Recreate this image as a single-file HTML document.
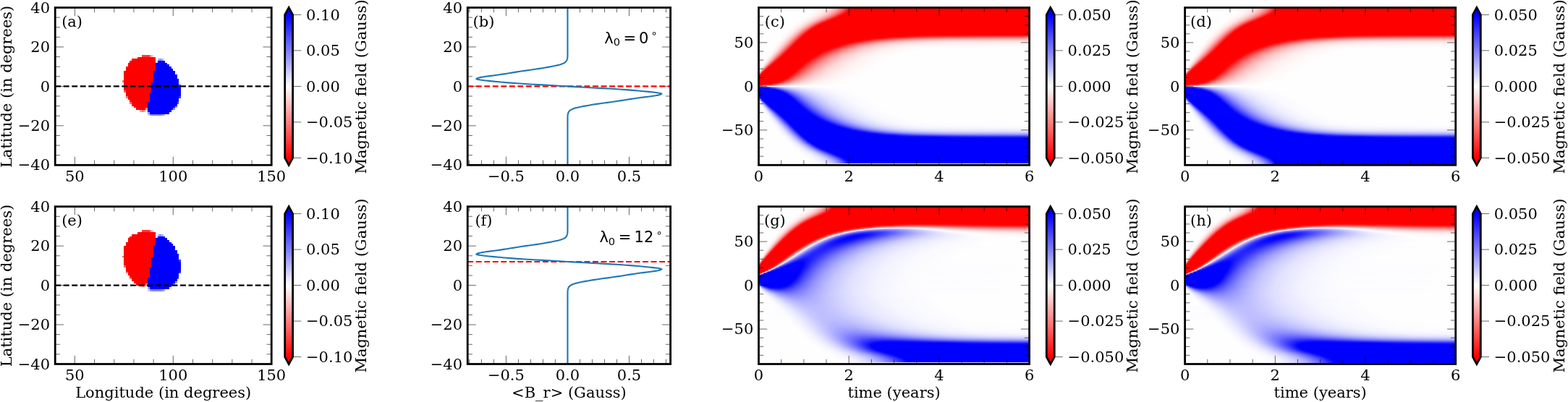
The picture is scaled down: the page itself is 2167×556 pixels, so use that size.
<!DOCTYPE html>
<html lang="en"><head><meta charset="utf-8"><title>Magnetic field evolution</title><style>
html,body{margin:0;padding:0;background:#fff}
svg{display:block}
text{font-family:'DejaVu Serif','Liberation Serif',serif;font-size:21.0px;fill:#000}
.s{font-family:'DejaVu Sans','Liberation Sans',sans-serif}
.sp{fill:none;stroke:#000;stroke-width:2.78;stroke-linejoin:miter}
.cb{stroke:#000;stroke-width:2.78;stroke-linejoin:miter}
.tk{fill:none;stroke:#000;stroke-width:0.6}
.dk{fill:none;stroke:#000;stroke-width:2.1;stroke-dasharray:7.95 3.57}
.dr{fill:none;stroke:#f00;stroke-width:2.1;stroke-dasharray:7.95 3.57}
.hm rect{width:374.1px;height:2px;shape-rendering:crispEdges}
.zl{fill:none;stroke:#fff;stroke-width:1.1;stroke-opacity:.9}
.pl{fill:none;stroke:#1f77b4;stroke-width:2.1;stroke-linejoin:round}
</style></head>
<body>
<svg width="2167" height="556" viewBox="0 0 2167 556">
<rect width="2167" height="556" fill="#fff"/>
<defs>
<linearGradient id="p0"><stop offset="0" stop-color="#fefeff"/><stop offset=".2" stop-color="#fffefe"/><stop offset=".229" stop-color="#fff6f6"/><stop offset=".259" stop-color="#ffdede"/><stop offset=".275" stop-color="#ffc6c6"/><stop offset=".283" stop-color="#ffb6b6"/><stop offset=".296" stop-color="#ff9696"/><stop offset=".309" stop-color="#ff6e6e"/><stop offset=".325" stop-color="#ff3434"/><stop offset=".336" stop-color="#ff0606"/><stop offset=".339" stop-color="#f00"/><stop offset="1" stop-color="#f00"/></linearGradient>
<linearGradient id="p1"><stop offset="0" stop-color="#fefeff"/><stop offset=".2" stop-color="#fffefe"/><stop offset=".229" stop-color="#fff6f6"/><stop offset=".259" stop-color="#ffdede"/><stop offset=".275" stop-color="#ffc6c6"/><stop offset=".283" stop-color="#ffb6b6"/><stop offset=".296" stop-color="#ff9696"/><stop offset=".309" stop-color="#ff6e6e"/><stop offset=".325" stop-color="#ff3434"/><stop offset=".336" stop-color="#ff0606"/><stop offset=".339" stop-color="#f00"/><stop offset="1" stop-color="#f00"/></linearGradient>
<linearGradient id="p2"><stop offset="0" stop-color="#fefeff"/><stop offset=".2" stop-color="#fffefe"/><stop offset=".229" stop-color="#fff6f6"/><stop offset=".259" stop-color="#ffdede"/><stop offset=".283" stop-color="#ffb6b6"/><stop offset=".296" stop-color="#ff9696"/><stop offset=".309" stop-color="#ff6e6e"/><stop offset=".323" stop-color="#ff3e3e"/><stop offset=".336" stop-color="#ff0606"/><stop offset=".339" stop-color="#f00"/><stop offset="1" stop-color="#f00"/></linearGradient>
<linearGradient id="p3"><stop offset="0" stop-color="#fefeff"/><stop offset=".197" stop-color="#fffefe"/><stop offset=".227" stop-color="#fff6f6"/><stop offset=".245" stop-color="#ffeaea"/><stop offset=".267" stop-color="#ffd0d0"/><stop offset=".283" stop-color="#ffb2b2"/><stop offset=".293" stop-color="#ff9898"/><stop offset=".312" stop-color="#ff5e5e"/><stop offset=".336" stop-color="#f00"/><stop offset="1" stop-color="#f00"/></linearGradient>
<linearGradient id="p4"><stop offset="0" stop-color="#fefeff"/><stop offset=".195" stop-color="#fffefe"/><stop offset=".219" stop-color="#fff8f8"/><stop offset=".245" stop-color="#ffe6e6"/><stop offset=".269" stop-color="#ffc4c4"/><stop offset=".283" stop-color="#ffa8a8"/><stop offset=".293" stop-color="#ff8c8c"/><stop offset=".307" stop-color="#ff6262"/><stop offset=".317" stop-color="#ff3a3a"/><stop offset=".331" stop-color="#ff0202"/><stop offset=".333" stop-color="#f00"/><stop offset="1" stop-color="#f00"/></linearGradient>
<linearGradient id="p5"><stop offset="0" stop-color="#fefeff"/><stop offset=".189" stop-color="#fffefe"/><stop offset=".216" stop-color="#fff6f6"/><stop offset=".235" stop-color="#ffeaea"/><stop offset=".256" stop-color="#ffd0d0"/><stop offset=".264" stop-color="#ffc2c2"/><stop offset=".28" stop-color="#ff9e9e"/><stop offset=".299" stop-color="#f66"/><stop offset=".315" stop-color="#ff2a2a"/><stop offset=".323" stop-color="#ff0606"/><stop offset=".325" stop-color="#f00"/><stop offset="1" stop-color="#f00"/></linearGradient>
<linearGradient id="p6"><stop offset="0" stop-color="#fefeff"/><stop offset=".181" stop-color="#fffefe"/><stop offset=".205" stop-color="#fff8f8"/><stop offset=".229" stop-color="#ffe8e8"/><stop offset=".251" stop-color="#fcc"/><stop offset=".272" stop-color="#ff9e9e"/><stop offset=".288" stop-color="#ff6e6e"/><stop offset=".304" stop-color="#ff3232"/><stop offset=".315" stop-color="#ff0404"/><stop offset=".317" stop-color="#f00"/><stop offset="1" stop-color="#f00"/></linearGradient>
<linearGradient id="p7"><stop offset="0" stop-color="#fefeff"/><stop offset=".173" stop-color="#fffefe"/><stop offset=".197" stop-color="#fff8f8"/><stop offset=".219" stop-color="#ffeaea"/><stop offset=".227" stop-color="#ffe2e2"/><stop offset=".243" stop-color="#ffcaca"/><stop offset=".256" stop-color="#ffaeae"/><stop offset=".267" stop-color="#ff9292"/><stop offset=".277" stop-color="#ff7070"/><stop offset=".293" stop-color="#ff3434"/><stop offset=".304" stop-color="#ff0404"/><stop offset=".307" stop-color="#f00"/><stop offset="1" stop-color="#f00"/></linearGradient>
<linearGradient id="p8"><stop offset="0" stop-color="#fefeff"/><stop offset=".168" stop-color="#fffefe"/><stop offset=".189" stop-color="#fff8f8"/><stop offset=".208" stop-color="#ffecec"/><stop offset=".232" stop-color="#fcc"/><stop offset=".253" stop-color="#ff9a9a"/><stop offset=".261" stop-color="#ff8282"/><stop offset=".272" stop-color="#ff5c5c"/><stop offset=".28" stop-color="#ff3c3c"/><stop offset=".293" stop-color="#f00"/><stop offset="1" stop-color="#f00"/></linearGradient>
<linearGradient id="p9"><stop offset="0" stop-color="#fefeff"/><stop offset=".16" stop-color="#fffefe"/><stop offset=".181" stop-color="#fff8f8"/><stop offset=".203" stop-color="#ffe8e8"/><stop offset=".216" stop-color="#ffd6d6"/><stop offset=".227" stop-color="#ffc2c2"/><stop offset=".237" stop-color="#ffa8a8"/><stop offset=".253" stop-color="#ff7676"/><stop offset=".264" stop-color="#ff4c4c"/><stop offset=".28" stop-color="#ff0202"/><stop offset=".283" stop-color="#f00"/><stop offset="1" stop-color="#f00"/></linearGradient>
<linearGradient id="p10"><stop offset="0" stop-color="#fefeff"/><stop offset=".152" stop-color="#fffefe"/><stop offset=".173" stop-color="#fff8f8"/><stop offset=".189" stop-color="#ffecec"/><stop offset=".208" stop-color="#ffd2d2"/><stop offset=".221" stop-color="#ffb6b6"/><stop offset=".243" stop-color="#ff7272"/><stop offset=".259" stop-color="#ff2c2c"/><stop offset=".267" stop-color="#ff0202"/><stop offset=".269" stop-color="#f00"/><stop offset="1" stop-color="#f00"/></linearGradient>
<linearGradient id="p11"><stop offset="0" stop-color="#fefeff"/><stop offset=".144" stop-color="#fffefe"/><stop offset=".16" stop-color="#fffafa"/><stop offset=".179" stop-color="#fee"/><stop offset=".197" stop-color="#ffd4d4"/><stop offset=".208" stop-color="#ffbcbc"/><stop offset=".219" stop-color="#ff9e9e"/><stop offset=".232" stop-color="#ff6c6c"/><stop offset=".243" stop-color="#ff3c3c"/><stop offset=".253" stop-color="#ff0202"/><stop offset=".256" stop-color="#f00"/><stop offset="1" stop-color="#f00"/></linearGradient>
<linearGradient id="p12"><stop offset="0" stop-color="#fefeff"/><stop offset=".139" stop-color="#fffefe"/><stop offset=".16" stop-color="#fff6f6"/><stop offset=".173" stop-color="#ffeaea"/><stop offset=".189" stop-color="#ffd0d0"/><stop offset=".208" stop-color="#ff9c9c"/><stop offset=".216" stop-color="#ff7e7e"/><stop offset=".224" stop-color="#ff5a5a"/><stop offset=".24" stop-color="#ff0404"/><stop offset=".243" stop-color="#f00"/><stop offset="1" stop-color="#f00"/></linearGradient>
<linearGradient id="p13"><stop offset="0" stop-color="#fefeff"/><stop offset=".131" stop-color="#fffefe"/><stop offset=".157" stop-color="#fff2f2"/><stop offset=".168" stop-color="#ffe6e6"/><stop offset=".176" stop-color="#ffd8d8"/><stop offset=".192" stop-color="#ffb0b0"/><stop offset=".2" stop-color="#ff9494"/><stop offset=".208" stop-color="#ff7272"/><stop offset=".219" stop-color="#ff3c3c"/><stop offset=".227" stop-color="#ff0c0c"/><stop offset=".229" stop-color="#f00"/><stop offset="1" stop-color="#f00"/></linearGradient>
<linearGradient id="p14"><stop offset="0" stop-color="#fefeff"/><stop offset=".125" stop-color="#fffefe"/><stop offset=".152" stop-color="#fff0f0"/><stop offset=".168" stop-color="#ffd8d8"/><stop offset=".173" stop-color="#fcc"/><stop offset=".184" stop-color="#ffacac"/><stop offset=".192" stop-color="#ff8e8e"/><stop offset=".2" stop-color="#ff6a6a"/><stop offset=".208" stop-color="#ff4040"/><stop offset=".219" stop-color="#f00"/><stop offset="1" stop-color="#f00"/></linearGradient>
<linearGradient id="p15"><stop offset="0" stop-color="#fefeff"/><stop offset=".117" stop-color="#fffefe"/><stop offset=".131" stop-color="#fffafa"/><stop offset=".147" stop-color="#fee"/><stop offset=".155" stop-color="#ffe2e2"/><stop offset=".165" stop-color="#fcc"/><stop offset=".179" stop-color="#ffa2a2"/><stop offset=".187" stop-color="#ff8080"/><stop offset=".195" stop-color="#ff5858"/><stop offset=".208" stop-color="#ff0606"/><stop offset=".211" stop-color="#f00"/><stop offset="1" stop-color="#f00"/></linearGradient>
<linearGradient id="p16"><stop offset="0" stop-color="#fefeff"/><stop offset=".112" stop-color="#fffefe"/><stop offset=".125" stop-color="#fffafa"/><stop offset=".141" stop-color="#ffecec"/><stop offset=".152" stop-color="#ffdada"/><stop offset=".16" stop-color="#ffc6c6"/><stop offset=".173" stop-color="#ff9898"/><stop offset=".187" stop-color="#ff5656"/><stop offset=".2" stop-color="#ff0202"/><stop offset=".203" stop-color="#f00"/><stop offset="1" stop-color="#f00"/></linearGradient>
<linearGradient id="p17"><stop offset="0" stop-color="#fefeff"/><stop offset=".107" stop-color="#fffefe"/><stop offset=".123" stop-color="#fff8f8"/><stop offset=".133" stop-color="#fee"/><stop offset=".149" stop-color="#ffd0d0"/><stop offset=".157" stop-color="#ffb8b8"/><stop offset=".165" stop-color="#ff9a9a"/><stop offset=".179" stop-color="#ff5858"/><stop offset=".192" stop-color="#ff0202"/><stop offset=".195" stop-color="#f00"/><stop offset="1" stop-color="#f00"/></linearGradient>
<linearGradient id="p18"><stop offset="0" stop-color="#fefeff"/><stop offset=".101" stop-color="#fffefe"/><stop offset=".109" stop-color="#fffcfc"/><stop offset=".125" stop-color="#fff0f0"/><stop offset=".141" stop-color="#ffd4d4"/><stop offset=".149" stop-color="#ffbcbc"/><stop offset=".157" stop-color="#ff9e9e"/><stop offset=".171" stop-color="#ff5c5c"/><stop offset=".184" stop-color="#ff0606"/><stop offset=".187" stop-color="#f00"/><stop offset="1" stop-color="#f00"/></linearGradient>
<linearGradient id="p19"><stop offset="0" stop-color="#fefeff"/><stop offset=".096" stop-color="#fffefe"/><stop offset=".104" stop-color="#fffcfc"/><stop offset=".123" stop-color="#ffecec"/><stop offset=".131" stop-color="#ffdede"/><stop offset=".139" stop-color="#ffcaca"/><stop offset=".149" stop-color="#ffa4a4"/><stop offset=".163" stop-color="#ff6262"/><stop offset=".179" stop-color="#f00"/><stop offset="1" stop-color="#f00"/></linearGradient>
<linearGradient id="p20"><stop offset="0" stop-color="#fefeff"/><stop offset=".091" stop-color="#fffefe"/><stop offset=".112" stop-color="#fff2f2"/><stop offset=".123" stop-color="#ffe2e2"/><stop offset=".128" stop-color="#ffd6d6"/><stop offset=".133" stop-color="#ffc8c8"/><stop offset=".144" stop-color="#ffa0a0"/><stop offset=".152" stop-color="#ff7a7a"/><stop offset=".157" stop-color="#ff5c5c"/><stop offset=".171" stop-color="#ff0606"/><stop offset=".173" stop-color="#f00"/><stop offset="1" stop-color="#f00"/></linearGradient>
<linearGradient id="p21"><stop offset="0" stop-color="#fefeff"/><stop offset=".088" stop-color="#fffefe"/><stop offset=".107" stop-color="#fff2f2"/><stop offset=".117" stop-color="#ffe2e2"/><stop offset=".128" stop-color="#ffc6c6"/><stop offset=".141" stop-color="#ff9090"/><stop offset=".149" stop-color="#f66"/><stop offset=".157" stop-color="#ff3636"/><stop offset=".165" stop-color="#f00"/><stop offset="1" stop-color="#f00"/></linearGradient>
<linearGradient id="p22"><stop offset="0" stop-color="#fefeff"/><stop offset=".083" stop-color="#fffefe"/><stop offset=".096" stop-color="#fff8f8"/><stop offset=".112" stop-color="#ffe2e2"/><stop offset=".125" stop-color="#ffbcbc"/><stop offset=".136" stop-color="#ff8e8e"/><stop offset=".141" stop-color="#ff7272"/><stop offset=".16" stop-color="#f00"/><stop offset=".536" stop-color="#f00"/><stop offset=".557" stop-color="#ff1212"/><stop offset=".605" stop-color="#ff2e2e"/><stop offset=".635" stop-color="#ff3a3a"/><stop offset=".696" stop-color="#ff4a4a"/><stop offset=".824" stop-color="#ff5858"/><stop offset="1" stop-color="#ff5c5c"/></linearGradient>
<linearGradient id="p23"><stop offset="0" stop-color="#fefeff"/><stop offset=".077" stop-color="#fffefe"/><stop offset=".088" stop-color="#fffafa"/><stop offset=".101" stop-color="#ffecec"/><stop offset=".109" stop-color="#ffdcdc"/><stop offset=".123" stop-color="#ffb0b0"/><stop offset=".136" stop-color="#ff7070"/><stop offset=".144" stop-color="#ff4040"/><stop offset=".152" stop-color="#ff0a0a"/><stop offset=".155" stop-color="#f00"/><stop offset=".456" stop-color="#f00"/><stop offset=".472" stop-color="#ff1818"/><stop offset=".501" stop-color="#ff3a3a"/><stop offset=".552" stop-color="#ff6262"/><stop offset=".592" stop-color="#ff7676"/><stop offset=".635" stop-color="#ff8484"/><stop offset=".699" stop-color="#ff9090"/><stop offset=".787" stop-color="#ff9898"/><stop offset="1" stop-color="#ff9c9c"/></linearGradient>
<linearGradient id="p24"><stop offset="0" stop-color="#fefeff"/><stop offset=".075" stop-color="#fffefe"/><stop offset=".091" stop-color="#fff4f4"/><stop offset=".099" stop-color="#ffe8e8"/><stop offset=".112" stop-color="#ffc4c4"/><stop offset=".123" stop-color="#ff9898"/><stop offset=".136" stop-color="#ff4e4e"/><stop offset=".147" stop-color="#ff0808"/><stop offset=".149" stop-color="#f00"/><stop offset=".405" stop-color="#f00"/><stop offset=".411" stop-color="#ff0606"/><stop offset=".429" stop-color="#ff2828"/><stop offset=".445" stop-color="#ff4040"/><stop offset=".469" stop-color="#ff5e5e"/><stop offset=".496" stop-color="#ff7878"/><stop offset=".549" stop-color="#ff9a9a"/><stop offset=".613" stop-color="#ffb0b0"/><stop offset=".669" stop-color="#ffbaba"/><stop offset=".733" stop-color="#ffc0c0"/><stop offset="1" stop-color="#ffc6c6"/></linearGradient>
<linearGradient id="p25"><stop offset="0" stop-color="#fefeff"/><stop offset=".069" stop-color="#fffefe"/><stop offset=".085" stop-color="#fff4f4"/><stop offset=".093" stop-color="#ffe8e8"/><stop offset=".104" stop-color="#ffcece"/><stop offset=".117" stop-color="#ff9898"/><stop offset=".128" stop-color="#ff5e5e"/><stop offset=".141" stop-color="#ff0808"/><stop offset=".144" stop-color="#f00"/><stop offset=".371" stop-color="#f00"/><stop offset=".373" stop-color="#ff0202"/><stop offset=".389" stop-color="#ff2424"/><stop offset=".411" stop-color="#ff4a4a"/><stop offset=".437" stop-color="#ff7070"/><stop offset=".453" stop-color="#ff8282"/><stop offset=".472" stop-color="#ff9494"/><stop offset=".509" stop-color="#ffaeae"/><stop offset=".568" stop-color="#ffc6c6"/><stop offset=".64" stop-color="#ffd4d4"/><stop offset=".709" stop-color="#ffdada"/><stop offset="1" stop-color="#ffdede"/></linearGradient>
<linearGradient id="p26"><stop offset="0" stop-color="#fefeff"/><stop offset=".067" stop-color="#fffefe"/><stop offset=".077" stop-color="#fff8f8"/><stop offset=".085" stop-color="#fee"/><stop offset=".093" stop-color="#ffdede"/><stop offset=".104" stop-color="#ffbcbc"/><stop offset=".112" stop-color="#ff9898"/><stop offset=".12" stop-color="#ff6e6e"/><stop offset=".136" stop-color="#ff0808"/><stop offset=".139" stop-color="#f00"/><stop offset=".344" stop-color="#f00"/><stop offset=".368" stop-color="#ff3434"/><stop offset=".395" stop-color="#ff6464"/><stop offset=".416" stop-color="#ff8282"/><stop offset=".437" stop-color="#ff9a9a"/><stop offset=".491" stop-color="#ffc2c2"/><stop offset=".541" stop-color="#ffd6d6"/><stop offset=".6" stop-color="#ffe2e2"/><stop offset=".693" stop-color="#ffeaea"/><stop offset="1" stop-color="#fee"/></linearGradient>
<linearGradient id="p27"><stop offset="0" stop-color="#fefeff"/><stop offset=".061" stop-color="#fffefe"/><stop offset=".075" stop-color="#fff6f6"/><stop offset=".083" stop-color="#ffeaea"/><stop offset=".093" stop-color="#ffd0d0"/><stop offset=".104" stop-color="#ffa6a6"/><stop offset=".115" stop-color="#ff6e6e"/><stop offset=".131" stop-color="#ff0808"/><stop offset=".133" stop-color="#f00"/><stop offset=".32" stop-color="#f00"/><stop offset=".323" stop-color="#ff0202"/><stop offset=".347" stop-color="#ff3a3a"/><stop offset=".373" stop-color="#ff6c6c"/><stop offset=".389" stop-color="#ff8484"/><stop offset=".416" stop-color="#ffa4a4"/><stop offset=".461" stop-color="#ffc8c8"/><stop offset=".525" stop-color="#ffe2e2"/><stop offset=".579" stop-color="#ffecec"/><stop offset=".648" stop-color="#fff2f2"/><stop offset="1" stop-color="#fff6f6"/></linearGradient>
<linearGradient id="p28"><stop offset="0" stop-color="#fefeff"/><stop offset=".059" stop-color="#fffefe"/><stop offset=".067" stop-color="#fffafa"/><stop offset=".077" stop-color="#ffecec"/><stop offset=".091" stop-color="#ffc8c8"/><stop offset=".101" stop-color="#ff9a9a"/><stop offset=".109" stop-color="#ff6e6e"/><stop offset=".125" stop-color="#ff0a0a"/><stop offset=".128" stop-color="#f00"/><stop offset=".301" stop-color="#f00"/><stop offset=".339" stop-color="#ff5454"/><stop offset=".357" stop-color="#ff7676"/><stop offset=".384" stop-color="#ff9c9c"/><stop offset=".413" stop-color="#ffbaba"/><stop offset=".435" stop-color="#ffcaca"/><stop offset=".491" stop-color="#ffe4e4"/><stop offset=".56" stop-color="#fff2f2"/><stop offset=".645" stop-color="#fff8f8"/><stop offset="1" stop-color="#fffafa"/></linearGradient>
<linearGradient id="p29"><stop offset="0" stop-color="#fefeff"/><stop offset=".053" stop-color="#fffefe"/><stop offset=".064" stop-color="#fff8f8"/><stop offset=".072" stop-color="#fee"/><stop offset=".085" stop-color="#ffcaca"/><stop offset=".093" stop-color="#ffa8a8"/><stop offset=".101" stop-color="#ff7e7e"/><stop offset=".12" stop-color="#ff0a0a"/><stop offset=".123" stop-color="#f00"/><stop offset=".285" stop-color="#f00"/><stop offset=".304" stop-color="#ff3030"/><stop offset=".325" stop-color="#ff5e5e"/><stop offset=".339" stop-color="#ff7676"/><stop offset=".371" stop-color="#ffa4a4"/><stop offset=".389" stop-color="#ffb8b8"/><stop offset=".427" stop-color="#ffd4d4"/><stop offset=".48" stop-color="#ffeaea"/><stop offset=".531" stop-color="#fff4f4"/><stop offset=".605" stop-color="#fffafa"/><stop offset="1" stop-color="#fffcfc"/></linearGradient>
<linearGradient id="p30"><stop offset="0" stop-color="#fefeff"/><stop offset=".051" stop-color="#fffefe"/><stop offset=".061" stop-color="#fff6f6"/><stop offset=".069" stop-color="#ffeaea"/><stop offset=".08" stop-color="#fcc"/><stop offset=".088" stop-color="#faa"/><stop offset=".093" stop-color="#ff8e8e"/><stop offset=".107" stop-color="#ff3e3e"/><stop offset=".115" stop-color="#ff0a0a"/><stop offset=".117" stop-color="#f00"/><stop offset=".269" stop-color="#f00"/><stop offset=".293" stop-color="#ff3c3c"/><stop offset=".309" stop-color="#ff5e5e"/><stop offset=".325" stop-color="#ff7c7c"/><stop offset=".347" stop-color="#ff9c9c"/><stop offset=".371" stop-color="#ffb8b8"/><stop offset=".4" stop-color="#ffd0d0"/><stop offset=".456" stop-color="#ffeaea"/><stop offset=".515" stop-color="#fff6f6"/><stop offset=".595" stop-color="#fffcfc"/><stop offset="1" stop-color="#fffefe"/></linearGradient>
<linearGradient id="p31"><stop offset="0" stop-color="#fefeff"/><stop offset=".045" stop-color="#fffefe"/><stop offset=".056" stop-color="#fff8f8"/><stop offset=".067" stop-color="#ffe6e6"/><stop offset=".075" stop-color="#ffcece"/><stop offset=".085" stop-color="#ff9e9e"/><stop offset=".096" stop-color="#ff6060"/><stop offset=".109" stop-color="#ff0808"/><stop offset=".112" stop-color="#f00"/><stop offset=".256" stop-color="#f00"/><stop offset=".28" stop-color="#ff3e3e"/><stop offset=".299" stop-color="#f66"/><stop offset=".309" stop-color="#ff7a7a"/><stop offset=".339" stop-color="#ffa6a6"/><stop offset=".365" stop-color="#ffc2c2"/><stop offset=".392" stop-color="#ffd6d6"/><stop offset=".443" stop-color="#ffecec"/><stop offset=".507" stop-color="#fff8f8"/><stop offset=".619" stop-color="#fffefe"/><stop offset="1" stop-color="#fffefe"/></linearGradient>
<linearGradient id="p32"><stop offset="0" stop-color="#fefeff"/><stop offset=".043" stop-color="#fffefe"/><stop offset=".053" stop-color="#fff6f6"/><stop offset=".061" stop-color="#ffe8e8"/><stop offset=".069" stop-color="#ffd0d0"/><stop offset=".075" stop-color="#ffbaba"/><stop offset=".083" stop-color="#ff9090"/><stop offset=".091" stop-color="#ff6060"/><stop offset=".104" stop-color="#ff0808"/><stop offset=".107" stop-color="#f00"/><stop offset=".243" stop-color="#f00"/><stop offset=".245" stop-color="#ff0404"/><stop offset=".261" stop-color="#ff3030"/><stop offset=".285" stop-color="#f66"/><stop offset=".307" stop-color="#ff8c8c"/><stop offset=".328" stop-color="#faa"/><stop offset=".371" stop-color="#ffd2d2"/><stop offset=".427" stop-color="#ffecec"/><stop offset=".485" stop-color="#fff8f8"/><stop offset=".581" stop-color="#fffefe"/><stop offset="1" stop-color="#fffefe"/></linearGradient>
<linearGradient id="p33"><stop offset="0" stop-color="#fefeff"/><stop offset=".04" stop-color="#fffefe"/><stop offset=".048" stop-color="#fff8f8"/><stop offset=".059" stop-color="#ffe4e4"/><stop offset=".067" stop-color="#ffc8c8"/><stop offset=".075" stop-color="#ffa0a0"/><stop offset=".088" stop-color="#ff4e4e"/><stop offset=".099" stop-color="#ff0606"/><stop offset=".101" stop-color="#f00"/><stop offset=".232" stop-color="#f00"/><stop offset=".243" stop-color="#ff1e1e"/><stop offset=".267" stop-color="#ff5858"/><stop offset=".291" stop-color="#ff8686"/><stop offset=".309" stop-color="#ffa2a2"/><stop offset=".333" stop-color="#ffbebe"/><stop offset=".357" stop-color="#ffd2d2"/><stop offset=".381" stop-color="#ffe0e0"/><stop offset=".419" stop-color="#fee"/><stop offset=".469" stop-color="#fff8f8"/><stop offset=".56" stop-color="#fffefe"/><stop offset="1" stop-color="#fffefe"/></linearGradient>
<linearGradient id="p34"><stop offset="0" stop-color="#fefeff"/><stop offset=".04" stop-color="#fffcfc"/><stop offset=".048" stop-color="#fff2f2"/><stop offset=".053" stop-color="#ffe6e6"/><stop offset=".061" stop-color="#ffcaca"/><stop offset=".069" stop-color="#ffa2a2"/><stop offset=".075" stop-color="#ff8282"/><stop offset=".093" stop-color="#ff0202"/><stop offset=".096" stop-color="#f00"/><stop offset=".221" stop-color="#f00"/><stop offset=".245" stop-color="#ff4040"/><stop offset=".261" stop-color="#ff6464"/><stop offset=".275" stop-color="#ff7e7e"/><stop offset=".296" stop-color="#ffa0a0"/><stop offset=".317" stop-color="#ffbaba"/><stop offset=".357" stop-color="#ffdada"/><stop offset=".405" stop-color="#fee"/><stop offset=".456" stop-color="#fff8f8"/><stop offset=".541" stop-color="#fffefe"/><stop offset="1" stop-color="#fffefe"/></linearGradient>
<linearGradient id="p35"><stop offset="0" stop-color="#fffefe"/><stop offset=".032" stop-color="#fffefe"/><stop offset=".045" stop-color="#fff0f0"/><stop offset=".053" stop-color="#ffd8d8"/><stop offset=".064" stop-color="#ffa4a4"/><stop offset=".075" stop-color="#ff5e5e"/><stop offset=".085" stop-color="#ff1010"/><stop offset=".088" stop-color="#f00"/><stop offset=".211" stop-color="#f00"/><stop offset=".213" stop-color="#ff0404"/><stop offset=".232" stop-color="#ff3838"/><stop offset=".256" stop-color="#ff6e6e"/><stop offset=".275" stop-color="#ff9090"/><stop offset=".296" stop-color="#ffaeae"/><stop offset=".315" stop-color="#ffc2c2"/><stop offset=".349" stop-color="#ffdcdc"/><stop offset=".4" stop-color="#fff0f0"/><stop offset=".443" stop-color="#fff8f8"/><stop offset=".528" stop-color="#fffefe"/><stop offset="1" stop-color="#fffefe"/></linearGradient>
<linearGradient id="p36"><stop offset="0" stop-color="#fffefe"/><stop offset=".029" stop-color="#fffefe"/><stop offset=".04" stop-color="#fff2f2"/><stop offset=".045" stop-color="#ffe4e4"/><stop offset=".051" stop-color="#ffd0d0"/><stop offset=".061" stop-color="#ff9494"/><stop offset=".08" stop-color="#ff0c0c"/><stop offset=".083" stop-color="#f00"/><stop offset=".203" stop-color="#f00"/><stop offset=".227" stop-color="#ff4242"/><stop offset=".245" stop-color="#ff6c6c"/><stop offset=".261" stop-color="#ff8a8a"/><stop offset=".283" stop-color="#faa"/><stop offset=".304" stop-color="#ffc2c2"/><stop offset=".339" stop-color="#ffdcdc"/><stop offset=".381" stop-color="#fee"/><stop offset=".448" stop-color="#fffafa"/><stop offset=".515" stop-color="#fffefe"/><stop offset="1" stop-color="#fffefe"/></linearGradient>
<linearGradient id="p37"><stop offset="0" stop-color="#fffefe"/><stop offset=".029" stop-color="#fffcfc"/><stop offset=".04" stop-color="#ffe8e8"/><stop offset=".048" stop-color="#ffc6c6"/><stop offset=".053" stop-color="#ffa6a6"/><stop offset=".061" stop-color="#ff6e6e"/><stop offset=".075" stop-color="#ff0404"/><stop offset=".077" stop-color="#f00"/><stop offset=".195" stop-color="#f00"/><stop offset=".219" stop-color="#f44"/><stop offset=".24" stop-color="#ff7474"/><stop offset=".251" stop-color="#f88"/><stop offset=".275" stop-color="#ffacac"/><stop offset=".299" stop-color="#ffc6c6"/><stop offset=".325" stop-color="#ffdada"/><stop offset=".379" stop-color="#fff0f0"/><stop offset=".437" stop-color="#fffafa"/><stop offset=".504" stop-color="#fffefe"/><stop offset="1" stop-color="#fffefe"/></linearGradient>
<linearGradient id="p38"><stop offset="0" stop-color="#fffefe"/><stop offset=".021" stop-color="#fffefe"/><stop offset=".032" stop-color="#fff2f2"/><stop offset=".037" stop-color="#ffe2e2"/><stop offset=".045" stop-color="#ffbaba"/><stop offset=".051" stop-color="#ff9696"/><stop offset=".067" stop-color="#ff1212"/><stop offset=".069" stop-color="#f00"/><stop offset=".187" stop-color="#f00"/><stop offset=".208" stop-color="#ff3e3e"/><stop offset=".227" stop-color="#ff6a6a"/><stop offset=".248" stop-color="#ff9292"/><stop offset=".264" stop-color="#faa"/><stop offset=".285" stop-color="#ffc2c2"/><stop offset=".307" stop-color="#ffd4d4"/><stop offset=".331" stop-color="#ffe2e2"/><stop offset=".363" stop-color="#fee"/><stop offset=".427" stop-color="#fffafa"/><stop offset=".493" stop-color="#fffefe"/><stop offset="1" stop-color="#fffefe"/></linearGradient>
<linearGradient id="p39"><stop offset="0" stop-color="#fffefe"/><stop offset=".019" stop-color="#fffefe"/><stop offset=".024" stop-color="#fffafa"/><stop offset=".032" stop-color="#ffe6e6"/><stop offset=".037" stop-color="#fcc"/><stop offset=".043" stop-color="#faa"/><stop offset=".048" stop-color="#ff8080"/><stop offset=".061" stop-color="#ff0808"/><stop offset=".064" stop-color="#f00"/><stop offset=".179" stop-color="#f00"/><stop offset=".203" stop-color="#f44"/><stop offset=".221" stop-color="#ff7070"/><stop offset=".237" stop-color="#ff8e8e"/><stop offset=".259" stop-color="#ffaeae"/><stop offset=".283" stop-color="#ffc8c8"/><stop offset=".307" stop-color="#ffdada"/><stop offset=".352" stop-color="#fee"/><stop offset=".4" stop-color="#fff8f8"/><stop offset=".483" stop-color="#fffefe"/><stop offset="1" stop-color="#fffefe"/></linearGradient>
<linearGradient id="p40"><stop offset="0" stop-color="#fffefe"/><stop offset=".019" stop-color="#fffcfc"/><stop offset=".024" stop-color="#fff2f2"/><stop offset=".029" stop-color="#ffdede"/><stop offset=".035" stop-color="#ffc0c0"/><stop offset=".04" stop-color="#ff9696"/><stop offset=".045" stop-color="#f66"/><stop offset=".053" stop-color="#ff1616"/><stop offset=".056" stop-color="#f00"/><stop offset=".173" stop-color="#ff0202"/><stop offset=".189" stop-color="#ff3434"/><stop offset=".2" stop-color="#ff5050"/><stop offset=".219" stop-color="#ff7a7a"/><stop offset=".229" stop-color="#ff8e8e"/><stop offset=".253" stop-color="#ffb2b2"/><stop offset=".272" stop-color="#ffc6c6"/><stop offset=".301" stop-color="#ffdcdc"/><stop offset=".344" stop-color="#fee"/><stop offset=".408" stop-color="#fffafa"/><stop offset=".475" stop-color="#fffefe"/><stop offset="1" stop-color="#fffefe"/></linearGradient>
<linearGradient id="p41"><stop offset="0" stop-color="#fffefe"/><stop offset=".013" stop-color="#fffefe"/><stop offset=".019" stop-color="#fff6f6"/><stop offset=".024" stop-color="#ffe4e4"/><stop offset=".027" stop-color="#ffd6d6"/><stop offset=".032" stop-color="#ffb0b0"/><stop offset=".037" stop-color="#ff7e7e"/><stop offset=".048" stop-color="#ff0a0a"/><stop offset=".051" stop-color="#f00"/><stop offset=".165" stop-color="#f00"/><stop offset=".187" stop-color="#ff4040"/><stop offset=".208" stop-color="#ff7474"/><stop offset=".221" stop-color="#ff8e8e"/><stop offset=".245" stop-color="#ffb2b2"/><stop offset=".264" stop-color="#ffc6c6"/><stop offset=".293" stop-color="#ffdcdc"/><stop offset=".341" stop-color="#fff0f0"/><stop offset=".4" stop-color="#fffafa"/><stop offset=".464" stop-color="#fffefe"/><stop offset="1" stop-color="#fffefe"/></linearGradient>
<linearGradient id="p42"><stop offset="0" stop-color="#fffefe"/><stop offset=".011" stop-color="#fffefe"/><stop offset=".013" stop-color="#fffafa"/><stop offset=".019" stop-color="#ffeaea"/><stop offset=".021" stop-color="#ffdcdc"/><stop offset=".024" stop-color="#ffcaca"/><stop offset=".029" stop-color="#ff9a9a"/><stop offset=".035" stop-color="#ff5e5e"/><stop offset=".04" stop-color="#ff1c1c"/><stop offset=".043" stop-color="#f00"/><stop offset=".16" stop-color="#f00"/><stop offset=".176" stop-color="#ff3434"/><stop offset=".192" stop-color="#ff6060"/><stop offset=".211" stop-color="#f88"/><stop offset=".235" stop-color="#ffaeae"/><stop offset=".256" stop-color="#ffc6c6"/><stop offset=".288" stop-color="#ffdede"/><stop offset=".333" stop-color="#fff0f0"/><stop offset=".392" stop-color="#fffafa"/><stop offset=".456" stop-color="#fffefe"/><stop offset="1" stop-color="#fffefe"/></linearGradient>
<linearGradient id="p43"><stop offset="0" stop-color="#fffefe"/><stop offset=".008" stop-color="#fffcfc"/><stop offset=".013" stop-color="#fff2f2"/><stop offset=".019" stop-color="#ffd2d2"/><stop offset=".024" stop-color="#ff9e9e"/><stop offset=".029" stop-color="#ff5858"/><stop offset=".035" stop-color="#ff0c0c"/><stop offset=".037" stop-color="#f00"/><stop offset=".152" stop-color="#f00"/><stop offset=".155" stop-color="#ff0404"/><stop offset=".176" stop-color="#ff4848"/><stop offset=".187" stop-color="#ff6464"/><stop offset=".203" stop-color="#ff8686"/><stop offset=".224" stop-color="#faa"/><stop offset=".248" stop-color="#ffc6c6"/><stop offset=".28" stop-color="#ffdede"/><stop offset=".325" stop-color="#fff0f0"/><stop offset=".365" stop-color="#fff8f8"/><stop offset=".448" stop-color="#fffefe"/><stop offset="1" stop-color="#fffefe"/></linearGradient>
<linearGradient id="p44"><stop offset="0" stop-color="#fffefe"/><stop offset=".008" stop-color="#fff8f8"/><stop offset=".011" stop-color="#fee"/><stop offset=".013" stop-color="#ffdcdc"/><stop offset=".019" stop-color="#ffa4a4"/><stop offset=".021" stop-color="#ff7e7e"/><stop offset=".029" stop-color="#f00"/><stop offset=".147" stop-color="#f00"/><stop offset=".152" stop-color="#ff0e0e"/><stop offset=".168" stop-color="#f44"/><stop offset=".184" stop-color="#ff6e6e"/><stop offset=".203" stop-color="#ff9494"/><stop offset=".224" stop-color="#ffb4b4"/><stop offset=".243" stop-color="#ffc8c8"/><stop offset=".272" stop-color="#ffdede"/><stop offset=".309" stop-color="#fee"/><stop offset=".357" stop-color="#fff8f8"/><stop offset=".437" stop-color="#fffefe"/><stop offset="1" stop-color="#fffefe"/></linearGradient>
<linearGradient id="p45"><stop offset="0" stop-color="#fffefe"/><stop offset=".005" stop-color="#fff6f6"/><stop offset=".008" stop-color="#ffe8e8"/><stop offset=".011" stop-color="#ffd0d0"/><stop offset=".013" stop-color="#ffaeae"/><stop offset=".016" stop-color="#ff8282"/><stop offset=".019" stop-color="#ff5252"/><stop offset=".021" stop-color="#ff1c1c"/><stop offset=".024" stop-color="#f00"/><stop offset=".141" stop-color="#f00"/><stop offset=".155" stop-color="#ff2e2e"/><stop offset=".173" stop-color="#ff6464"/><stop offset=".189" stop-color="#f88"/><stop offset=".211" stop-color="#ffacac"/><stop offset=".235" stop-color="#ffc8c8"/><stop offset=".264" stop-color="#ffdede"/><stop offset=".301" stop-color="#fee"/><stop offset=".349" stop-color="#fff8f8"/><stop offset=".429" stop-color="#fffefe"/><stop offset="1" stop-color="#fffefe"/></linearGradient>
<linearGradient id="p46"><stop offset="0" stop-color="#fffefe"/><stop offset=".003" stop-color="#fff6f6"/><stop offset=".005" stop-color="#ffe2e2"/><stop offset=".008" stop-color="#ffc0c0"/><stop offset=".011" stop-color="#ff8e8e"/><stop offset=".013" stop-color="#ff5454"/><stop offset=".016" stop-color="#ff1212"/><stop offset=".019" stop-color="#f00"/><stop offset=".136" stop-color="#f00"/><stop offset=".147" stop-color="#ff2828"/><stop offset=".163" stop-color="#ff5a5a"/><stop offset=".189" stop-color="#ff9696"/><stop offset=".211" stop-color="#ffb6b6"/><stop offset=".229" stop-color="#ffcaca"/><stop offset=".256" stop-color="#ffdede"/><stop offset=".293" stop-color="#fee"/><stop offset=".341" stop-color="#fff8f8"/><stop offset=".421" stop-color="#fffefe"/><stop offset="1" stop-color="#fffefe"/></linearGradient>
<linearGradient id="p47"><stop offset="0" stop-color="#fff4f4"/><stop offset=".003" stop-color="#ffdada"/><stop offset=".005" stop-color="#ffa8a8"/><stop offset=".008" stop-color="#ff6060"/><stop offset=".011" stop-color="#ff0c0c"/><stop offset=".013" stop-color="#f00"/><stop offset=".128" stop-color="#f00"/><stop offset=".131" stop-color="#ff0202"/><stop offset=".141" stop-color="#ff2c2c"/><stop offset=".157" stop-color="#ff5e5e"/><stop offset=".176" stop-color="#ff8a8a"/><stop offset=".187" stop-color="#ff9e9e"/><stop offset=".2" stop-color="#ffb2b2"/><stop offset=".221" stop-color="#ffcaca"/><stop offset=".248" stop-color="#ffdede"/><stop offset=".285" stop-color="#fee"/><stop offset=".333" stop-color="#fff8f8"/><stop offset=".413" stop-color="#fffefe"/><stop offset="1" stop-color="#fffefe"/></linearGradient>
<linearGradient id="p48"><stop offset="0" stop-color="#ffd0d0"/><stop offset=".003" stop-color="#ff8484"/><stop offset=".005" stop-color="#ff1818"/><stop offset=".008" stop-color="#f00"/><stop offset=".123" stop-color="#f00"/><stop offset=".125" stop-color="#ff0606"/><stop offset=".144" stop-color="#ff4c4c"/><stop offset=".16" stop-color="#ff7878"/><stop offset=".179" stop-color="#ff9e9e"/><stop offset=".189" stop-color="#ffaeae"/><stop offset=".211" stop-color="#ffc8c8"/><stop offset=".243" stop-color="#ffe0e0"/><stop offset=".283" stop-color="#fff0f0"/><stop offset=".323" stop-color="#fff8f8"/><stop offset=".403" stop-color="#fffefe"/><stop offset="1" stop-color="#fffefe"/></linearGradient>
<linearGradient id="p49"><stop offset="0" stop-color="#ff5050"/><stop offset=".003" stop-color="#f00"/><stop offset=".117" stop-color="#f00"/><stop offset=".123" stop-color="#ff1818"/><stop offset=".139" stop-color="#ff5252"/><stop offset=".155" stop-color="#ff7e7e"/><stop offset=".171" stop-color="#ff9e9e"/><stop offset=".189" stop-color="#ffbaba"/><stop offset=".211" stop-color="#ffd0d0"/><stop offset=".237" stop-color="#ffe2e2"/><stop offset=".267" stop-color="#fee"/><stop offset=".301" stop-color="#fff6f6"/><stop offset=".395" stop-color="#fffefe"/><stop offset="1" stop-color="#fffefe"/></linearGradient>
<linearGradient id="p50"><stop offset="0" stop-color="#f00"/><stop offset=".109" stop-color="#f00"/><stop offset=".112" stop-color="#ff0808"/><stop offset=".12" stop-color="#ff2c2c"/><stop offset=".131" stop-color="#ff5252"/><stop offset=".144" stop-color="#ff7878"/><stop offset=".163" stop-color="#ffa0a0"/><stop offset=".179" stop-color="#ffb8b8"/><stop offset=".195" stop-color="#ffcaca"/><stop offset=".224" stop-color="#ffe0e0"/><stop offset=".264" stop-color="#fff0f0"/><stop offset=".32" stop-color="#fffafa"/><stop offset=".384" stop-color="#fffefe"/><stop offset="1" stop-color="#fffefe"/></linearGradient>
<linearGradient id="p51"><stop offset="0" stop-color="#f00"/><stop offset=".101" stop-color="#f00"/><stop offset=".104" stop-color="#ff0808"/><stop offset=".112" stop-color="#ff2e2e"/><stop offset=".12" stop-color="#ff4c4c"/><stop offset=".131" stop-color="#ff6e6e"/><stop offset=".147" stop-color="#ff9494"/><stop offset=".16" stop-color="#ffacac"/><stop offset=".184" stop-color="#ffcaca"/><stop offset=".213" stop-color="#ffe0e0"/><stop offset=".245" stop-color="#fee"/><stop offset=".293" stop-color="#fff8f8"/><stop offset=".371" stop-color="#fffefe"/><stop offset="1" stop-color="#fffefe"/></linearGradient>
<linearGradient id="p52"><stop offset="0" stop-color="#f00"/><stop offset=".093" stop-color="#ff0202"/><stop offset=".104" stop-color="#ff3636"/><stop offset=".117" stop-color="#f66"/><stop offset=".131" stop-color="#ff8a8a"/><stop offset=".141" stop-color="#ffa0a0"/><stop offset=".163" stop-color="#ffc0c0"/><stop offset=".176" stop-color="#ffcece"/><stop offset=".208" stop-color="#ffe4e4"/><stop offset=".24" stop-color="#fff0f0"/><stop offset=".296" stop-color="#fffafa"/><stop offset=".357" stop-color="#fffefe"/><stop offset="1" stop-color="#fffefe"/></linearGradient>
<linearGradient id="p53"><stop offset="0" stop-color="#f00"/><stop offset=".08" stop-color="#f00"/><stop offset=".083" stop-color="#ff0606"/><stop offset=".096" stop-color="#ff4646"/><stop offset=".104" stop-color="#ff6464"/><stop offset=".117" stop-color="#ff8a8a"/><stop offset=".133" stop-color="#faa"/><stop offset=".147" stop-color="#ffbebe"/><stop offset=".168" stop-color="#ffd4d4"/><stop offset=".189" stop-color="#ffe2e2"/><stop offset=".224" stop-color="#fff0f0"/><stop offset=".28" stop-color="#fffafa"/><stop offset=".341" stop-color="#fffefe"/><stop offset="1" stop-color="#fffefe"/></linearGradient>
<linearGradient id="p54"><stop offset="0" stop-color="#f00"/><stop offset=".067" stop-color="#f00"/><stop offset=".077" stop-color="#ff3838"/><stop offset=".091" stop-color="#ff6e6e"/><stop offset=".099" stop-color="#ff8686"/><stop offset=".117" stop-color="#ffaeae"/><stop offset=".131" stop-color="#ffc2c2"/><stop offset=".144" stop-color="#ffd0d0"/><stop offset=".168" stop-color="#ffe2e2"/><stop offset=".203" stop-color="#fff0f0"/><stop offset=".24" stop-color="#fff8f8"/><stop offset=".32" stop-color="#fffefe"/><stop offset="1" stop-color="#fffefe"/></linearGradient>
<linearGradient id="p55"><stop offset="0" stop-color="#f00"/><stop offset=".045" stop-color="#f00"/><stop offset=".048" stop-color="#ff0606"/><stop offset=".053" stop-color="#ff2c2c"/><stop offset=".061" stop-color="#ff5858"/><stop offset=".069" stop-color="#ff7878"/><stop offset=".08" stop-color="#ff9898"/><stop offset=".093" stop-color="#ffb4b4"/><stop offset=".107" stop-color="#ffc8c8"/><stop offset=".123" stop-color="#ffd8d8"/><stop offset=".144" stop-color="#ffe6e6"/><stop offset=".176" stop-color="#fff2f2"/><stop offset=".224" stop-color="#fffafa"/><stop offset=".285" stop-color="#fffefe"/><stop offset="1" stop-color="#fffefe"/></linearGradient>
<linearGradient id="p56"><stop offset="0" stop-color="#f00"/><stop offset=".008" stop-color="#f00"/><stop offset=".011" stop-color="#ff1818"/><stop offset=".013" stop-color="#ff3e3e"/><stop offset=".016" stop-color="#ff5c5c"/><stop offset=".021" stop-color="#ff8686"/><stop offset=".029" stop-color="#ffacac"/><stop offset=".035" stop-color="#ffbcbc"/><stop offset=".04" stop-color="#ffc8c8"/><stop offset=".053" stop-color="#ffdcdc"/><stop offset=".075" stop-color="#ffecec"/><stop offset=".096" stop-color="#fff4f4"/><stop offset=".187" stop-color="#fffefe"/><stop offset="1" stop-color="#fffefe"/></linearGradient>
<linearGradient id="p57"><stop offset="0" stop-color="#00f"/><stop offset=".035" stop-color="#00f"/><stop offset=".037" stop-color="#0c0cff"/><stop offset=".04" stop-color="#2424ff"/><stop offset=".048" stop-color="#5858ff"/><stop offset=".056" stop-color="#7c7cff"/><stop offset=".067" stop-color="#9e9eff"/><stop offset=".077" stop-color="#b6b6ff"/><stop offset=".101" stop-color="#d6d6ff"/><stop offset=".128" stop-color="#e8e8ff"/><stop offset=".149" stop-color="#f0f0ff"/><stop offset=".2" stop-color="#fafaff"/><stop offset=".261" stop-color="#fefeff"/><stop offset="1" stop-color="#fefeff"/></linearGradient>
<linearGradient id="p58"><stop offset="0" stop-color="#00f"/><stop offset=".059" stop-color="#00f"/><stop offset=".061" stop-color="#0606ff"/><stop offset=".067" stop-color="#2828ff"/><stop offset=".072" stop-color="#44f"/><stop offset=".08" stop-color="#66f"/><stop offset=".096" stop-color="#9696ff"/><stop offset=".107" stop-color="#acacff"/><stop offset=".123" stop-color="#c4c4ff"/><stop offset=".136" stop-color="#d2d2ff"/><stop offset=".165" stop-color="#e6e6ff"/><stop offset=".192" stop-color="#f0f0ff"/><stop offset=".245" stop-color="#fafaff"/><stop offset=".307" stop-color="#fefeff"/><stop offset="1" stop-color="#fefeff"/></linearGradient>
<linearGradient id="p59"><stop offset="0" stop-color="#00f"/><stop offset=".075" stop-color="#00f"/><stop offset=".077" stop-color="#0404ff"/><stop offset=".085" stop-color="#3030ff"/><stop offset=".099" stop-color="#66f"/><stop offset=".112" stop-color="#8c8cff"/><stop offset=".125" stop-color="#a8a8ff"/><stop offset=".152" stop-color="#ccf"/><stop offset=".181" stop-color="#e2e2ff"/><stop offset=".216" stop-color="#f0f0ff"/><stop offset=".272" stop-color="#fafaff"/><stop offset=".333" stop-color="#fefeff"/><stop offset="1" stop-color="#fefeff"/></linearGradient>
<linearGradient id="p60"><stop offset="0" stop-color="#00f"/><stop offset=".088" stop-color="#00f"/><stop offset=".091" stop-color="#0a0aff"/><stop offset=".099" stop-color="#3232ff"/><stop offset=".112" stop-color="#6464ff"/><stop offset=".123" stop-color="#8282ff"/><stop offset=".139" stop-color="#a4a4ff"/><stop offset=".157" stop-color="#c0c0ff"/><stop offset=".171" stop-color="#ceceff"/><stop offset=".195" stop-color="#e0e0ff"/><stop offset=".227" stop-color="#eef"/><stop offset=".272" stop-color="#f8f8ff"/><stop offset=".352" stop-color="#fefeff"/><stop offset="1" stop-color="#fefeff"/></linearGradient>
<linearGradient id="p61"><stop offset="0" stop-color="#00f"/><stop offset=".099" stop-color="#00f"/><stop offset=".109" stop-color="#3232ff"/><stop offset=".12" stop-color="#5a5aff"/><stop offset=".133" stop-color="#8080ff"/><stop offset=".152" stop-color="#a6a6ff"/><stop offset=".165" stop-color="#babaff"/><stop offset=".181" stop-color="#ccf"/><stop offset=".216" stop-color="#e4e4ff"/><stop offset=".248" stop-color="#f0f0ff"/><stop offset=".304" stop-color="#fafaff"/><stop offset=".365" stop-color="#fefeff"/><stop offset="1" stop-color="#fefeff"/></linearGradient>
<linearGradient id="p62"><stop offset="0" stop-color="#00f"/><stop offset=".107" stop-color="#00f"/><stop offset=".117" stop-color="#2e2eff"/><stop offset=".125" stop-color="#4c4cff"/><stop offset=".139" stop-color="#7474ff"/><stop offset=".16" stop-color="#a2a2ff"/><stop offset=".173" stop-color="#b6b6ff"/><stop offset=".195" stop-color="#ceceff"/><stop offset=".224" stop-color="#e2e2ff"/><stop offset=".259" stop-color="#f0f0ff"/><stop offset=".315" stop-color="#fafaff"/><stop offset=".379" stop-color="#fefeff"/><stop offset="1" stop-color="#fefeff"/></linearGradient>
<linearGradient id="p63"><stop offset="0" stop-color="#00f"/><stop offset=".115" stop-color="#00f"/><stop offset=".125" stop-color="#2e2eff"/><stop offset=".141" stop-color="#6464ff"/><stop offset=".163" stop-color="#9696ff"/><stop offset=".171" stop-color="#a4a4ff"/><stop offset=".189" stop-color="#bebeff"/><stop offset=".203" stop-color="#ccf"/><stop offset=".237" stop-color="#e4e4ff"/><stop offset=".269" stop-color="#f0f0ff"/><stop offset=".325" stop-color="#fafaff"/><stop offset=".389" stop-color="#fefeff"/><stop offset="1" stop-color="#fefeff"/></linearGradient>
<linearGradient id="p64"><stop offset="0" stop-color="#aeaeff"/><stop offset=".003" stop-color="#4242ff"/><stop offset=".005" stop-color="#00f"/><stop offset=".12" stop-color="#00f"/><stop offset=".123" stop-color="#0606ff"/><stop offset=".139" stop-color="#44f"/><stop offset=".155" stop-color="#7272ff"/><stop offset=".173" stop-color="#9a9aff"/><stop offset=".192" stop-color="#b6b6ff"/><stop offset=".205" stop-color="#c6c6ff"/><stop offset=".229" stop-color="#dadaff"/><stop offset=".28" stop-color="#f0f0ff"/><stop offset=".336" stop-color="#fafaff"/><stop offset=".4" stop-color="#fefeff"/><stop offset="1" stop-color="#fefeff"/></linearGradient>
<linearGradient id="p65"><stop offset="0" stop-color="#ececff"/><stop offset=".003" stop-color="#c2c2ff"/><stop offset=".005" stop-color="#7c7cff"/><stop offset=".008" stop-color="#22f"/><stop offset=".011" stop-color="#00f"/><stop offset=".128" stop-color="#00f"/><stop offset=".139" stop-color="#2c2cff"/><stop offset=".157" stop-color="#66f"/><stop offset=".176" stop-color="#9090ff"/><stop offset=".2" stop-color="#b6b6ff"/><stop offset=".216" stop-color="#c8c8ff"/><stop offset=".248" stop-color="#e0e0ff"/><stop offset=".288" stop-color="#f0f0ff"/><stop offset=".328" stop-color="#f8f8ff"/><stop offset=".408" stop-color="#fefeff"/><stop offset="1" stop-color="#fefeff"/></linearGradient>
<linearGradient id="p66"><stop offset="0" stop-color="#fcfcff"/><stop offset=".003" stop-color="#eef"/><stop offset=".005" stop-color="#d0d0ff"/><stop offset=".008" stop-color="#a2a2ff"/><stop offset=".011" stop-color="#6464ff"/><stop offset=".013" stop-color="#1c1cff"/><stop offset=".016" stop-color="#00f"/><stop offset=".133" stop-color="#00f"/><stop offset=".149" stop-color="#3a3aff"/><stop offset=".165" stop-color="#6868ff"/><stop offset=".181" stop-color="#8c8cff"/><stop offset=".197" stop-color="#a8a8ff"/><stop offset=".216" stop-color="#c0c0ff"/><stop offset=".243" stop-color="#d6d6ff"/><stop offset=".264" stop-color="#e4e4ff"/><stop offset=".291" stop-color="#eef"/><stop offset=".339" stop-color="#f8f8ff"/><stop offset=".419" stop-color="#fefeff"/><stop offset="1" stop-color="#fefeff"/></linearGradient>
<linearGradient id="p67"><stop offset="0" stop-color="#fefeff"/><stop offset=".003" stop-color="#fcfcff"/><stop offset=".005" stop-color="#f0f0ff"/><stop offset=".008" stop-color="#dcdcff"/><stop offset=".011" stop-color="#bcbcff"/><stop offset=".013" stop-color="#9090ff"/><stop offset=".019" stop-color="#2424ff"/><stop offset=".021" stop-color="#00f"/><stop offset=".139" stop-color="#00f"/><stop offset=".141" stop-color="#0606ff"/><stop offset=".155" stop-color="#3636ff"/><stop offset=".171" stop-color="#6464ff"/><stop offset=".189" stop-color="#8e8eff"/><stop offset=".211" stop-color="#b0b0ff"/><stop offset=".232" stop-color="#c8c8ff"/><stop offset=".261" stop-color="#dedeff"/><stop offset=".299" stop-color="#eef"/><stop offset=".347" stop-color="#f8f8ff"/><stop offset=".427" stop-color="#fefeff"/><stop offset="1" stop-color="#fefeff"/></linearGradient>
<linearGradient id="p68"><stop offset="0" stop-color="#fefeff"/><stop offset=".005" stop-color="#fcfcff"/><stop offset=".008" stop-color="#f4f4ff"/><stop offset=".011" stop-color="#e4e4ff"/><stop offset=".013" stop-color="#ceceff"/><stop offset=".016" stop-color="#aeaeff"/><stop offset=".019" stop-color="#88f"/><stop offset=".027" stop-color="#00f"/><stop offset=".144" stop-color="#00f"/><stop offset=".147" stop-color="#0404ff"/><stop offset=".157" stop-color="#2a2aff"/><stop offset=".173" stop-color="#5a5aff"/><stop offset=".181" stop-color="#6e6eff"/><stop offset=".2" stop-color="#9494ff"/><stop offset=".221" stop-color="#b4b4ff"/><stop offset=".237" stop-color="#c6c6ff"/><stop offset=".269" stop-color="#dedeff"/><stop offset=".307" stop-color="#eef"/><stop offset=".355" stop-color="#f8f8ff"/><stop offset=".435" stop-color="#fefeff"/><stop offset="1" stop-color="#fefeff"/></linearGradient>
<linearGradient id="p69"><stop offset="0" stop-color="#fefeff"/><stop offset=".005" stop-color="#fefeff"/><stop offset=".011" stop-color="#f6f6ff"/><stop offset=".016" stop-color="#dadaff"/><stop offset=".021" stop-color="#a6a6ff"/><stop offset=".027" stop-color="#5e5eff"/><stop offset=".032" stop-color="#0e0eff"/><stop offset=".035" stop-color="#00f"/><stop offset=".152" stop-color="#0202ff"/><stop offset=".165" stop-color="#3030ff"/><stop offset=".184" stop-color="#6464ff"/><stop offset=".203" stop-color="#8c8cff"/><stop offset=".224" stop-color="#aeaeff"/><stop offset=".245" stop-color="#c6c6ff"/><stop offset=".277" stop-color="#dedeff"/><stop offset=".315" stop-color="#eef"/><stop offset=".363" stop-color="#f8f8ff"/><stop offset=".443" stop-color="#fefeff"/><stop offset="1" stop-color="#fefeff"/></linearGradient>
<linearGradient id="p70"><stop offset="0" stop-color="#fefeff"/><stop offset=".008" stop-color="#fefeff"/><stop offset=".013" stop-color="#f8f8ff"/><stop offset=".016" stop-color="#f0f0ff"/><stop offset=".021" stop-color="#d2d2ff"/><stop offset=".027" stop-color="#a0a0ff"/><stop offset=".032" stop-color="#6262ff"/><stop offset=".037" stop-color="#1c1cff"/><stop offset=".04" stop-color="#00f"/><stop offset=".157" stop-color="#00f"/><stop offset=".176" stop-color="#3c3cff"/><stop offset=".189" stop-color="#6060ff"/><stop offset=".213" stop-color="#9292ff"/><stop offset=".235" stop-color="#b2b2ff"/><stop offset=".269" stop-color="#d4d4ff"/><stop offset=".323" stop-color="#eef"/><stop offset=".371" stop-color="#f8f8ff"/><stop offset=".453" stop-color="#fefeff"/><stop offset="1" stop-color="#fefeff"/></linearGradient>
<linearGradient id="p71"><stop offset="0" stop-color="#fefeff"/><stop offset=".013" stop-color="#fcfcff"/><stop offset=".019" stop-color="#f2f2ff"/><stop offset=".024" stop-color="#dcdcff"/><stop offset=".029" stop-color="#b6b6ff"/><stop offset=".032" stop-color="#9e9eff"/><stop offset=".037" stop-color="#66f"/><stop offset=".045" stop-color="#0a0aff"/><stop offset=".048" stop-color="#00f"/><stop offset=".163" stop-color="#00f"/><stop offset=".184" stop-color="#4040ff"/><stop offset=".195" stop-color="#5c5cff"/><stop offset=".208" stop-color="#7a7aff"/><stop offset=".235" stop-color="#a8a8ff"/><stop offset=".259" stop-color="#c4c4ff"/><stop offset=".277" stop-color="#d4d4ff"/><stop offset=".309" stop-color="#e6e6ff"/><stop offset=".339" stop-color="#f0f0ff"/><stop offset=".379" stop-color="#f8f8ff"/><stop offset=".461" stop-color="#fefeff"/><stop offset="1" stop-color="#fefeff"/></linearGradient>
<linearGradient id="p72"><stop offset="0" stop-color="#fefeff"/><stop offset=".013" stop-color="#fefeff"/><stop offset=".019" stop-color="#fafaff"/><stop offset=".021" stop-color="#f6f6ff"/><stop offset=".027" stop-color="#e4e4ff"/><stop offset=".032" stop-color="#c6c6ff"/><stop offset=".037" stop-color="#9c9cff"/><stop offset=".053" stop-color="#00f"/><stop offset=".171" stop-color="#0202ff"/><stop offset=".189" stop-color="#3c3cff"/><stop offset=".203" stop-color="#5e5eff"/><stop offset=".224" stop-color="#8a8aff"/><stop offset=".243" stop-color="#a8a8ff"/><stop offset=".267" stop-color="#c4c4ff"/><stop offset=".301" stop-color="#dedeff"/><stop offset=".347" stop-color="#f0f0ff"/><stop offset=".405" stop-color="#fafaff"/><stop offset=".469" stop-color="#fefeff"/><stop offset="1" stop-color="#fefeff"/></linearGradient>
<linearGradient id="p73"><stop offset="0" stop-color="#fefeff"/><stop offset=".019" stop-color="#fefeff"/><stop offset=".024" stop-color="#f8f8ff"/><stop offset=".029" stop-color="#eaeaff"/><stop offset=".035" stop-color="#d2d2ff"/><stop offset=".037" stop-color="#c2c2ff"/><stop offset=".045" stop-color="#8484ff"/><stop offset=".059" stop-color="#0808ff"/><stop offset=".061" stop-color="#00f"/><stop offset=".176" stop-color="#00f"/><stop offset=".203" stop-color="#4c4cff"/><stop offset=".221" stop-color="#7676ff"/><stop offset=".237" stop-color="#9494ff"/><stop offset=".251" stop-color="#a8a8ff"/><stop offset=".277" stop-color="#c6c6ff"/><stop offset=".307" stop-color="#dcdcff"/><stop offset=".349" stop-color="#eef"/><stop offset=".413" stop-color="#fafaff"/><stop offset=".48" stop-color="#fefeff"/><stop offset="1" stop-color="#fefeff"/></linearGradient>
<linearGradient id="p74"><stop offset="0" stop-color="#fefeff"/><stop offset=".021" stop-color="#fefeff"/><stop offset=".029" stop-color="#f4f4ff"/><stop offset=".035" stop-color="#e6e6ff"/><stop offset=".04" stop-color="#ceceff"/><stop offset=".048" stop-color="#9a9aff"/><stop offset=".059" stop-color="#4242ff"/><stop offset=".064" stop-color="#1212ff"/><stop offset=".067" stop-color="#00f"/><stop offset=".184" stop-color="#0202ff"/><stop offset=".208" stop-color="#4646ff"/><stop offset=".229" stop-color="#7676ff"/><stop offset=".253" stop-color="#a0a0ff"/><stop offset=".272" stop-color="#b8b8ff"/><stop offset=".307" stop-color="#d6d6ff"/><stop offset=".331" stop-color="#e4e4ff"/><stop offset=".357" stop-color="#eef"/><stop offset=".424" stop-color="#fafaff"/><stop offset=".488" stop-color="#fefeff"/><stop offset="1" stop-color="#fefeff"/></linearGradient>
<linearGradient id="p75"><stop offset="0" stop-color="#fefeff"/><stop offset=".024" stop-color="#fefeff"/><stop offset=".035" stop-color="#f2f2ff"/><stop offset=".04" stop-color="#e2e2ff"/><stop offset=".045" stop-color="#cacaff"/><stop offset=".051" stop-color="#aaf"/><stop offset=".056" stop-color="#8686ff"/><stop offset=".072" stop-color="#0606ff"/><stop offset=".075" stop-color="#00f"/><stop offset=".192" stop-color="#0202ff"/><stop offset=".211" stop-color="#3838ff"/><stop offset=".235" stop-color="#7070ff"/><stop offset=".251" stop-color="#8e8eff"/><stop offset=".269" stop-color="#aaf"/><stop offset=".283" stop-color="#babaff"/><stop offset=".309" stop-color="#d2d2ff"/><stop offset=".336" stop-color="#e2e2ff"/><stop offset=".368" stop-color="#eef"/><stop offset=".416" stop-color="#f8f8ff"/><stop offset=".499" stop-color="#fefeff"/><stop offset="1" stop-color="#fefeff"/></linearGradient>
<linearGradient id="p76"><stop offset="0" stop-color="#fefeff"/><stop offset=".027" stop-color="#fefeff"/><stop offset=".037" stop-color="#f4f4ff"/><stop offset=".045" stop-color="#dedeff"/><stop offset=".051" stop-color="#c6c6ff"/><stop offset=".059" stop-color="#9898ff"/><stop offset=".077" stop-color="#0c0cff"/><stop offset=".08" stop-color="#00f"/><stop offset=".2" stop-color="#0202ff"/><stop offset=".216" stop-color="#3030ff"/><stop offset=".243" stop-color="#6e6eff"/><stop offset=".259" stop-color="#8c8cff"/><stop offset=".277" stop-color="#a8a8ff"/><stop offset=".296" stop-color="#bebeff"/><stop offset=".328" stop-color="#d8d8ff"/><stop offset=".371" stop-color="#ececff"/><stop offset=".427" stop-color="#f8f8ff"/><stop offset=".509" stop-color="#fefeff"/><stop offset="1" stop-color="#fefeff"/></linearGradient>
<linearGradient id="p77"><stop offset="0" stop-color="#fefeff"/><stop offset=".032" stop-color="#fefeff"/><stop offset=".037" stop-color="#fafaff"/><stop offset=".045" stop-color="#ececff"/><stop offset=".053" stop-color="#d0d0ff"/><stop offset=".061" stop-color="#a8a8ff"/><stop offset=".069" stop-color="#7474ff"/><stop offset=".085" stop-color="#00f"/><stop offset=".208" stop-color="#00f"/><stop offset=".227" stop-color="#3434ff"/><stop offset=".248" stop-color="#66f"/><stop offset=".269" stop-color="#8e8eff"/><stop offset=".283" stop-color="#a2a2ff"/><stop offset=".315" stop-color="#c6c6ff"/><stop offset=".336" stop-color="#d6d6ff"/><stop offset=".381" stop-color="#ececff"/><stop offset=".437" stop-color="#f8f8ff"/><stop offset=".523" stop-color="#fefeff"/><stop offset="1" stop-color="#fefeff"/></linearGradient>
<linearGradient id="p78"><stop offset="0" stop-color="#fefeff"/><stop offset=".035" stop-color="#fefeff"/><stop offset=".043" stop-color="#f8f8ff"/><stop offset=".051" stop-color="#e8e8ff"/><stop offset=".059" stop-color="#ceceff"/><stop offset=".067" stop-color="#a6a6ff"/><stop offset=".075" stop-color="#7474ff"/><stop offset=".091" stop-color="#0404ff"/><stop offset=".093" stop-color="#00f"/><stop offset=".216" stop-color="#00f"/><stop offset=".221" stop-color="#0a0aff"/><stop offset=".237" stop-color="#3636ff"/><stop offset=".253" stop-color="#5c5cff"/><stop offset=".277" stop-color="#8a8aff"/><stop offset=".296" stop-color="#a6a6ff"/><stop offset=".325" stop-color="#c6c6ff"/><stop offset=".349" stop-color="#d8d8ff"/><stop offset=".4" stop-color="#eef"/><stop offset=".451" stop-color="#f8f8ff"/><stop offset=".536" stop-color="#fefeff"/><stop offset="1" stop-color="#fefeff"/></linearGradient>
<linearGradient id="p79"><stop offset="0" stop-color="#fefeff"/><stop offset=".043" stop-color="#fcfcff"/><stop offset=".051" stop-color="#f2f2ff"/><stop offset=".056" stop-color="#e6e6ff"/><stop offset=".061" stop-color="#d6d6ff"/><stop offset=".072" stop-color="#a4a4ff"/><stop offset=".08" stop-color="#7474ff"/><stop offset=".096" stop-color="#0808ff"/><stop offset=".099" stop-color="#00f"/><stop offset=".227" stop-color="#00f"/><stop offset=".229" stop-color="#0404ff"/><stop offset=".245" stop-color="#3030ff"/><stop offset=".264" stop-color="#5c5cff"/><stop offset=".293" stop-color="#9292ff"/><stop offset=".312" stop-color="#acacff"/><stop offset=".331" stop-color="#c0c0ff"/><stop offset=".365" stop-color="#dadaff"/><stop offset=".413" stop-color="#eef"/><stop offset=".464" stop-color="#f8f8ff"/><stop offset=".552" stop-color="#fefeff"/><stop offset="1" stop-color="#fefeff"/></linearGradient>
<linearGradient id="p80"><stop offset="0" stop-color="#fefeff"/><stop offset=".045" stop-color="#fcfcff"/><stop offset=".051" stop-color="#f8f8ff"/><stop offset=".061" stop-color="#e4e4ff"/><stop offset=".069" stop-color="#c8c8ff"/><stop offset=".08" stop-color="#9494ff"/><stop offset=".091" stop-color="#5252ff"/><stop offset=".101" stop-color="#0a0aff"/><stop offset=".104" stop-color="#00f"/><stop offset=".237" stop-color="#00f"/><stop offset=".243" stop-color="#0a0aff"/><stop offset=".264" stop-color="#4242ff"/><stop offset=".283" stop-color="#6a6aff"/><stop offset=".304" stop-color="#9090ff"/><stop offset=".323" stop-color="#aaf"/><stop offset=".365" stop-color="#d2d2ff"/><stop offset=".389" stop-color="#e0e0ff"/><stop offset=".427" stop-color="#eef"/><stop offset=".48" stop-color="#f8f8ff"/><stop offset=".573" stop-color="#fefeff"/><stop offset="1" stop-color="#fefeff"/></linearGradient>
<linearGradient id="p81"><stop offset="0" stop-color="#fefeff"/><stop offset=".045" stop-color="#fefeff"/><stop offset=".056" stop-color="#f6f6ff"/><stop offset=".067" stop-color="#e2e2ff"/><stop offset=".075" stop-color="#c6c6ff"/><stop offset=".085" stop-color="#9292ff"/><stop offset=".096" stop-color="#5252ff"/><stop offset=".107" stop-color="#0c0cff"/><stop offset=".109" stop-color="#00f"/><stop offset=".251" stop-color="#00f"/><stop offset=".277" stop-color="#44f"/><stop offset=".293" stop-color="#66f"/><stop offset=".312" stop-color="#88f"/><stop offset=".341" stop-color="#b0b0ff"/><stop offset=".357" stop-color="#c0c0ff"/><stop offset=".389" stop-color="#d8d8ff"/><stop offset=".443" stop-color="#eef"/><stop offset=".517" stop-color="#fafaff"/><stop offset=".603" stop-color="#fefeff"/><stop offset="1" stop-color="#fefeff"/></linearGradient>
<linearGradient id="p82"><stop offset="0" stop-color="#fefeff"/><stop offset=".048" stop-color="#fefeff"/><stop offset=".059" stop-color="#f8f8ff"/><stop offset=".067" stop-color="#ececff"/><stop offset=".075" stop-color="#d8d8ff"/><stop offset=".088" stop-color="#a0a0ff"/><stop offset=".101" stop-color="#5252ff"/><stop offset=".112" stop-color="#0c0cff"/><stop offset=".115" stop-color="#00f"/><stop offset=".264" stop-color="#00f"/><stop offset=".28" stop-color="#2a2aff"/><stop offset=".309" stop-color="#6a6aff"/><stop offset=".323" stop-color="#8282ff"/><stop offset=".355" stop-color="#aeaeff"/><stop offset=".371" stop-color="#bebeff"/><stop offset=".403" stop-color="#d6d6ff"/><stop offset=".461" stop-color="#eef"/><stop offset=".52" stop-color="#f8f8ff"/><stop offset=".579" stop-color="#fcfcff"/><stop offset="1" stop-color="#fefeff"/></linearGradient>
<linearGradient id="p83"><stop offset="0" stop-color="#fefeff"/><stop offset=".053" stop-color="#fefeff"/><stop offset=".064" stop-color="#f6f6ff"/><stop offset=".072" stop-color="#eaeaff"/><stop offset=".083" stop-color="#ccf"/><stop offset=".093" stop-color="#9e9eff"/><stop offset=".107" stop-color="#5252ff"/><stop offset=".117" stop-color="#0c0cff"/><stop offset=".12" stop-color="#00f"/><stop offset=".277" stop-color="#00f"/><stop offset=".28" stop-color="#0202ff"/><stop offset=".293" stop-color="#2626ff"/><stop offset=".323" stop-color="#66f"/><stop offset=".344" stop-color="#8a8aff"/><stop offset=".368" stop-color="#aaf"/><stop offset=".397" stop-color="#c6c6ff"/><stop offset=".421" stop-color="#d6d6ff"/><stop offset=".469" stop-color="#eaeaff"/><stop offset=".533" stop-color="#f6f6ff"/><stop offset=".629" stop-color="#fcfcff"/><stop offset="1" stop-color="#fefeff"/></linearGradient>
<linearGradient id="p84"><stop offset="0" stop-color="#fefeff"/><stop offset=".056" stop-color="#fefeff"/><stop offset=".067" stop-color="#f8f8ff"/><stop offset=".075" stop-color="#eef"/><stop offset=".085" stop-color="#d4d4ff"/><stop offset=".096" stop-color="#aaf"/><stop offset=".107" stop-color="#7272ff"/><stop offset=".123" stop-color="#0c0cff"/><stop offset=".125" stop-color="#00f"/><stop offset=".293" stop-color="#00f"/><stop offset=".296" stop-color="#0202ff"/><stop offset=".309" stop-color="#2424ff"/><stop offset=".336" stop-color="#5e5eff"/><stop offset=".36" stop-color="#8686ff"/><stop offset=".384" stop-color="#a6a6ff"/><stop offset=".416" stop-color="#c4c4ff"/><stop offset=".437" stop-color="#d2d2ff"/><stop offset=".491" stop-color="#e8e8ff"/><stop offset=".557" stop-color="#f4f4ff"/><stop offset=".656" stop-color="#fafaff"/><stop offset="1" stop-color="#fcfcff"/></linearGradient>
<linearGradient id="p85"><stop offset="0" stop-color="#fefeff"/><stop offset=".061" stop-color="#fefeff"/><stop offset=".075" stop-color="#f4f4ff"/><stop offset=".08" stop-color="#ececff"/><stop offset=".091" stop-color="#d2d2ff"/><stop offset=".104" stop-color="#9c9cff"/><stop offset=".109" stop-color="#8080ff"/><stop offset=".128" stop-color="#0c0cff"/><stop offset=".131" stop-color="#00f"/><stop offset=".312" stop-color="#00f"/><stop offset=".315" stop-color="#0202ff"/><stop offset=".344" stop-color="#4646ff"/><stop offset=".357" stop-color="#6060ff"/><stop offset=".395" stop-color="#9898ff"/><stop offset=".424" stop-color="#b6b6ff"/><stop offset=".445" stop-color="#c6c6ff"/><stop offset=".475" stop-color="#d6d6ff"/><stop offset=".507" stop-color="#e2e2ff"/><stop offset=".565" stop-color="#eef"/><stop offset=".632" stop-color="#f4f4ff"/><stop offset="1" stop-color="#f8f8ff"/></linearGradient>
<linearGradient id="p86"><stop offset="0" stop-color="#fefeff"/><stop offset=".064" stop-color="#fefeff"/><stop offset=".077" stop-color="#f6f6ff"/><stop offset=".088" stop-color="#e6e6ff"/><stop offset=".099" stop-color="#c8c8ff"/><stop offset=".107" stop-color="#a8a8ff"/><stop offset=".115" stop-color="#8080ff"/><stop offset=".133" stop-color="#0c0cff"/><stop offset=".136" stop-color="#00f"/><stop offset=".333" stop-color="#00f"/><stop offset=".336" stop-color="#0202ff"/><stop offset=".363" stop-color="#3e3eff"/><stop offset=".381" stop-color="#6060ff"/><stop offset=".405" stop-color="#8484ff"/><stop offset=".424" stop-color="#9a9aff"/><stop offset=".443" stop-color="#acacff"/><stop offset=".477" stop-color="#c4c4ff"/><stop offset=".501" stop-color="#d0d0ff"/><stop offset=".544" stop-color="#dedeff"/><stop offset=".603" stop-color="#e8e8ff"/><stop offset=".68" stop-color="#eef"/><stop offset="1" stop-color="#f0f0ff"/></linearGradient>
<linearGradient id="p87"><stop offset="0" stop-color="#fefeff"/><stop offset=".069" stop-color="#fefeff"/><stop offset=".08" stop-color="#f8f8ff"/><stop offset=".091" stop-color="#eaeaff"/><stop offset=".101" stop-color="#d0d0ff"/><stop offset=".115" stop-color="#9a9aff"/><stop offset=".123" stop-color="#7070ff"/><stop offset=".139" stop-color="#0c0cff"/><stop offset=".141" stop-color="#00f"/><stop offset=".36" stop-color="#00f"/><stop offset=".397" stop-color="#4a4aff"/><stop offset=".424" stop-color="#7272ff"/><stop offset=".448" stop-color="#8e8eff"/><stop offset=".493" stop-color="#b2b2ff"/><stop offset=".552" stop-color="#ccf"/><stop offset=".605" stop-color="#d8d8ff"/><stop offset=".68" stop-color="#e0e0ff"/><stop offset="1" stop-color="#e6e6ff"/></linearGradient>
<linearGradient id="p88"><stop offset="0" stop-color="#fefeff"/><stop offset=".072" stop-color="#fefeff"/><stop offset=".088" stop-color="#f4f4ff"/><stop offset=".099" stop-color="#e4e4ff"/><stop offset=".109" stop-color="#c6c6ff"/><stop offset=".123" stop-color="#8e8eff"/><stop offset=".133" stop-color="#5252ff"/><stop offset=".144" stop-color="#0c0cff"/><stop offset=".147" stop-color="#00f"/><stop offset=".392" stop-color="#00f"/><stop offset=".419" stop-color="#3232ff"/><stop offset=".443" stop-color="#5656ff"/><stop offset=".485" stop-color="#8484ff"/><stop offset=".533" stop-color="#a4a4ff"/><stop offset=".579" stop-color="#b6b6ff"/><stop offset=".611" stop-color="#bebeff"/><stop offset=".675" stop-color="#c8c8ff"/><stop offset=".763" stop-color="#ceceff"/><stop offset="1" stop-color="#d0d0ff"/></linearGradient>
<linearGradient id="p89"><stop offset="0" stop-color="#fefeff"/><stop offset=".077" stop-color="#fefeff"/><stop offset=".093" stop-color="#f4f4ff"/><stop offset=".101" stop-color="#e8e8ff"/><stop offset=".115" stop-color="#c6c6ff"/><stop offset=".128" stop-color="#8e8eff"/><stop offset=".133" stop-color="#7272ff"/><stop offset=".152" stop-color="#00f"/><stop offset=".432" stop-color="#00f"/><stop offset=".472" stop-color="#3838ff"/><stop offset=".504" stop-color="#5a5aff"/><stop offset=".56" stop-color="#8080ff"/><stop offset=".605" stop-color="#9292ff"/><stop offset=".667" stop-color="#a0a0ff"/><stop offset=".76" stop-color="#aaf"/><stop offset="1" stop-color="#aeaeff"/></linearGradient>
<linearGradient id="p90"><stop offset="0" stop-color="#fefeff"/><stop offset=".08" stop-color="#fefeff"/><stop offset=".096" stop-color="#f6f6ff"/><stop offset=".107" stop-color="#e8e8ff"/><stop offset=".12" stop-color="#c6c6ff"/><stop offset=".133" stop-color="#9090ff"/><stop offset=".139" stop-color="#7474ff"/><stop offset=".149" stop-color="#3434ff"/><stop offset=".157" stop-color="#00f"/><stop offset=".496" stop-color="#00f"/><stop offset=".525" stop-color="#1e1eff"/><stop offset=".565" stop-color="#3c3cff"/><stop offset=".621" stop-color="#5656ff"/><stop offset=".677" stop-color="#66f"/><stop offset=".747" stop-color="#7070ff"/><stop offset=".829" stop-color="#7676ff"/><stop offset="1" stop-color="#7878ff"/></linearGradient>
<linearGradient id="p91"><stop offset="0" stop-color="#fefeff"/><stop offset=".085" stop-color="#fefeff"/><stop offset=".101" stop-color="#f6f6ff"/><stop offset=".112" stop-color="#e8e8ff"/><stop offset=".12" stop-color="#d6d6ff"/><stop offset=".128" stop-color="#bebeff"/><stop offset=".139" stop-color="#9292ff"/><stop offset=".152" stop-color="#4848ff"/><stop offset=".163" stop-color="#00f"/><stop offset=".643" stop-color="#00f"/><stop offset=".709" stop-color="#1414ff"/><stop offset=".779" stop-color="#1e1eff"/><stop offset=".909" stop-color="#2626ff"/><stop offset="1" stop-color="#2626ff"/></linearGradient>
<linearGradient id="p92"><stop offset="0" stop-color="#fefeff"/><stop offset=".091" stop-color="#fefeff"/><stop offset=".104" stop-color="#f8f8ff"/><stop offset=".112" stop-color="#f0f0ff"/><stop offset=".117" stop-color="#e8e8ff"/><stop offset=".128" stop-color="#d0d0ff"/><stop offset=".139" stop-color="#acacff"/><stop offset=".152" stop-color="#6c6cff"/><stop offset=".16" stop-color="#3c3cff"/><stop offset=".168" stop-color="#0606ff"/><stop offset=".171" stop-color="#00f"/><stop offset="1" stop-color="#00f"/></linearGradient>
<linearGradient id="p93"><stop offset="0" stop-color="#fefeff"/><stop offset=".096" stop-color="#fefeff"/><stop offset=".109" stop-color="#f8f8ff"/><stop offset=".117" stop-color="#f0f0ff"/><stop offset=".125" stop-color="#e4e4ff"/><stop offset=".133" stop-color="#d2d2ff"/><stop offset=".147" stop-color="#a4a4ff"/><stop offset=".157" stop-color="#7272ff"/><stop offset=".176" stop-color="#00f"/><stop offset="1" stop-color="#00f"/></linearGradient>
<linearGradient id="p94"><stop offset="0" stop-color="#fefeff"/><stop offset=".099" stop-color="#fefeff"/><stop offset=".115" stop-color="#f8f8ff"/><stop offset=".123" stop-color="#f0f0ff"/><stop offset=".133" stop-color="#e0e0ff"/><stop offset=".139" stop-color="#d4d4ff"/><stop offset=".147" stop-color="#bcbcff"/><stop offset=".155" stop-color="#9e9eff"/><stop offset=".16" stop-color="#8686ff"/><stop offset=".171" stop-color="#4c4cff"/><stop offset=".181" stop-color="#0404ff"/><stop offset=".184" stop-color="#00f"/><stop offset="1" stop-color="#00f"/></linearGradient>
<linearGradient id="p95"><stop offset="0" stop-color="#fefeff"/><stop offset=".104" stop-color="#fefeff"/><stop offset=".12" stop-color="#f8f8ff"/><stop offset=".131" stop-color="#eef"/><stop offset=".139" stop-color="#e2e2ff"/><stop offset=".147" stop-color="#d0d0ff"/><stop offset=".16" stop-color="#a4a4ff"/><stop offset=".168" stop-color="#8080ff"/><stop offset=".176" stop-color="#5656ff"/><stop offset=".189" stop-color="#00f"/><stop offset="1" stop-color="#00f"/></linearGradient>
<linearGradient id="p96"><stop offset="0" stop-color="#fefeff"/><stop offset=".109" stop-color="#fefeff"/><stop offset=".123" stop-color="#fafaff"/><stop offset=".139" stop-color="#ececff"/><stop offset=".149" stop-color="#dadaff"/><stop offset=".157" stop-color="#c6c6ff"/><stop offset=".171" stop-color="#9696ff"/><stop offset=".176" stop-color="#7e7eff"/><stop offset=".187" stop-color="#44f"/><stop offset=".197" stop-color="#00f"/><stop offset="1" stop-color="#00f"/></linearGradient>
<linearGradient id="p97"><stop offset="0" stop-color="#fefeff"/><stop offset=".117" stop-color="#fefeff"/><stop offset=".128" stop-color="#fafaff"/><stop offset=".147" stop-color="#eaeaff"/><stop offset=".16" stop-color="#d2d2ff"/><stop offset=".168" stop-color="#bcbcff"/><stop offset=".176" stop-color="#a0a0ff"/><stop offset=".187" stop-color="#7070ff"/><stop offset=".192" stop-color="#5454ff"/><stop offset=".205" stop-color="#00f"/><stop offset="1" stop-color="#00f"/></linearGradient>
<linearGradient id="p98"><stop offset="0" stop-color="#fefeff"/><stop offset=".123" stop-color="#fefeff"/><stop offset=".139" stop-color="#f8f8ff"/><stop offset=".152" stop-color="#ececff"/><stop offset=".165" stop-color="#d6d6ff"/><stop offset=".171" stop-color="#cacaff"/><stop offset=".181" stop-color="#aaf"/><stop offset=".195" stop-color="#7272ff"/><stop offset=".203" stop-color="#4848ff"/><stop offset=".213" stop-color="#0606ff"/><stop offset=".216" stop-color="#00f"/><stop offset="1" stop-color="#00f"/></linearGradient>
<linearGradient id="p99"><stop offset="0" stop-color="#fefeff"/><stop offset=".128" stop-color="#fefeff"/><stop offset=".149" stop-color="#f6f6ff"/><stop offset=".16" stop-color="#ececff"/><stop offset=".171" stop-color="#dcdcff"/><stop offset=".181" stop-color="#c4c4ff"/><stop offset=".195" stop-color="#9a9aff"/><stop offset=".205" stop-color="#6c6cff"/><stop offset=".216" stop-color="#3434ff"/><stop offset=".224" stop-color="#0202ff"/><stop offset=".227" stop-color="#00f"/><stop offset="1" stop-color="#00f"/></linearGradient>
<linearGradient id="p100"><stop offset="0" stop-color="#fefeff"/><stop offset=".136" stop-color="#fefeff"/><stop offset=".149" stop-color="#fafaff"/><stop offset=".168" stop-color="#ececff"/><stop offset=".181" stop-color="#d8d8ff"/><stop offset=".192" stop-color="#c0c0ff"/><stop offset=".203" stop-color="#a0a0ff"/><stop offset=".219" stop-color="#5e5eff"/><stop offset=".229" stop-color="#2626ff"/><stop offset=".235" stop-color="#0606ff"/><stop offset=".237" stop-color="#00f"/><stop offset="1" stop-color="#00f"/></linearGradient>
<linearGradient id="p101"><stop offset="0" stop-color="#fefeff"/><stop offset=".141" stop-color="#fefeff"/><stop offset=".157" stop-color="#fafaff"/><stop offset=".179" stop-color="#eaeaff"/><stop offset=".192" stop-color="#d6d6ff"/><stop offset=".205" stop-color="#b8b8ff"/><stop offset=".213" stop-color="#a0a0ff"/><stop offset=".221" stop-color="#8484ff"/><stop offset=".235" stop-color="#4a4aff"/><stop offset=".248" stop-color="#0202ff"/><stop offset=".251" stop-color="#00f"/><stop offset="1" stop-color="#00f"/></linearGradient>
<linearGradient id="p102"><stop offset="0" stop-color="#fefeff"/><stop offset=".149" stop-color="#fefeff"/><stop offset=".165" stop-color="#fafaff"/><stop offset=".184" stop-color="#eef"/><stop offset=".197" stop-color="#dedeff"/><stop offset=".205" stop-color="#d0d0ff"/><stop offset=".221" stop-color="#aaf"/><stop offset=".237" stop-color="#7474ff"/><stop offset=".251" stop-color="#3a3aff"/><stop offset=".261" stop-color="#0202ff"/><stop offset=".264" stop-color="#00f"/><stop offset="1" stop-color="#00f"/></linearGradient>
<linearGradient id="p103"><stop offset="0" stop-color="#fefeff"/><stop offset=".157" stop-color="#fefeff"/><stop offset=".181" stop-color="#f6f6ff"/><stop offset=".197" stop-color="#eaeaff"/><stop offset=".219" stop-color="#cacaff"/><stop offset=".237" stop-color="#9c9cff"/><stop offset=".253" stop-color="#6464ff"/><stop offset=".269" stop-color="#1e1eff"/><stop offset=".275" stop-color="#0202ff"/><stop offset=".277" stop-color="#00f"/><stop offset="1" stop-color="#00f"/></linearGradient>
<linearGradient id="p104"><stop offset="0" stop-color="#fefeff"/><stop offset=".165" stop-color="#fefeff"/><stop offset=".187" stop-color="#f8f8ff"/><stop offset=".208" stop-color="#e8e8ff"/><stop offset=".227" stop-color="#ceceff"/><stop offset=".245" stop-color="#a4a4ff"/><stop offset=".256" stop-color="#8484ff"/><stop offset=".269" stop-color="#5454ff"/><stop offset=".288" stop-color="#00f"/><stop offset="1" stop-color="#00f"/></linearGradient>
<linearGradient id="p105"><stop offset="0" stop-color="#fefeff"/><stop offset=".171" stop-color="#fefeff"/><stop offset=".195" stop-color="#f8f8ff"/><stop offset=".213" stop-color="#ececff"/><stop offset=".221" stop-color="#e4e4ff"/><stop offset=".24" stop-color="#c8c8ff"/><stop offset=".256" stop-color="#a4a4ff"/><stop offset=".272" stop-color="#7474ff"/><stop offset=".285" stop-color="#4242ff"/><stop offset=".299" stop-color="#0808ff"/><stop offset=".301" stop-color="#00f"/><stop offset="1" stop-color="#00f"/></linearGradient>
<linearGradient id="p106"><stop offset="0" stop-color="#fefeff"/><stop offset=".179" stop-color="#fefeff"/><stop offset=".203" stop-color="#f8f8ff"/><stop offset=".224" stop-color="#eaeaff"/><stop offset=".248" stop-color="#cacaff"/><stop offset=".272" stop-color="#9494ff"/><stop offset=".285" stop-color="#6a6aff"/><stop offset=".299" stop-color="#3838ff"/><stop offset=".312" stop-color="#00f"/><stop offset="1" stop-color="#00f"/></linearGradient>
<linearGradient id="p107"><stop offset="0" stop-color="#fefeff"/><stop offset=".187" stop-color="#fefeff"/><stop offset=".213" stop-color="#f6f6ff"/><stop offset=".232" stop-color="#eaeaff"/><stop offset=".24" stop-color="#e2e2ff"/><stop offset=".259" stop-color="#c6c6ff"/><stop offset=".275" stop-color="#a4a4ff"/><stop offset=".293" stop-color="#6e6eff"/><stop offset=".309" stop-color="#3232ff"/><stop offset=".32" stop-color="#0404ff"/><stop offset=".323" stop-color="#00f"/><stop offset="1" stop-color="#00f"/></linearGradient>
<linearGradient id="p108"><stop offset="0" stop-color="#fefeff"/><stop offset=".192" stop-color="#fefeff"/><stop offset=".216" stop-color="#f8f8ff"/><stop offset=".243" stop-color="#e6e6ff"/><stop offset=".261" stop-color="#ceceff"/><stop offset=".283" stop-color="#a2a2ff"/><stop offset=".301" stop-color="#6c6cff"/><stop offset=".317" stop-color="#3030ff"/><stop offset=".328" stop-color="#0202ff"/><stop offset=".331" stop-color="#00f"/><stop offset="1" stop-color="#00f"/></linearGradient>
<linearGradient id="p109"><stop offset="0" stop-color="#fefeff"/><stop offset=".197" stop-color="#fefeff"/><stop offset=".221" stop-color="#f8f8ff"/><stop offset=".248" stop-color="#e6e6ff"/><stop offset=".264" stop-color="#d2d2ff"/><stop offset=".277" stop-color="#babaff"/><stop offset=".288" stop-color="#a2a2ff"/><stop offset=".309" stop-color="#6262ff"/><stop offset=".323" stop-color="#3030ff"/><stop offset=".333" stop-color="#0202ff"/><stop offset=".336" stop-color="#00f"/><stop offset="1" stop-color="#00f"/></linearGradient>
<linearGradient id="p110"><stop offset="0" stop-color="#fefeff"/><stop offset=".2" stop-color="#fefeff"/><stop offset=".232" stop-color="#f4f4ff"/><stop offset=".251" stop-color="#e6e6ff"/><stop offset=".261" stop-color="#dadaff"/><stop offset=".277" stop-color="#c0c0ff"/><stop offset=".293" stop-color="#9c9cff"/><stop offset=".315" stop-color="#5a5aff"/><stop offset=".336" stop-color="#0404ff"/><stop offset=".339" stop-color="#00f"/><stop offset="1" stop-color="#00f"/></linearGradient>
<linearGradient id="p111"><stop offset="0" stop-color="#fefeff"/><stop offset=".2" stop-color="#fefeff"/><stop offset=".229" stop-color="#f6f6ff"/><stop offset=".259" stop-color="#dedeff"/><stop offset=".275" stop-color="#c6c6ff"/><stop offset=".283" stop-color="#b6b6ff"/><stop offset=".296" stop-color="#9696ff"/><stop offset=".309" stop-color="#6e6eff"/><stop offset=".325" stop-color="#3434ff"/><stop offset=".336" stop-color="#0606ff"/><stop offset=".339" stop-color="#00f"/><stop offset="1" stop-color="#00f"/></linearGradient>
<linearGradient id="p112"><stop offset="0" stop-color="#fefeff"/><stop offset=".2" stop-color="#fefeff"/><stop offset=".229" stop-color="#f6f6ff"/><stop offset=".259" stop-color="#dedeff"/><stop offset=".275" stop-color="#c6c6ff"/><stop offset=".283" stop-color="#b6b6ff"/><stop offset=".296" stop-color="#9696ff"/><stop offset=".309" stop-color="#6e6eff"/><stop offset=".325" stop-color="#3434ff"/><stop offset=".336" stop-color="#0606ff"/><stop offset=".339" stop-color="#00f"/><stop offset="1" stop-color="#00f"/></linearGradient>
<linearGradient id="p113"><stop offset="0" stop-color="#fefeff"/><stop offset=".2" stop-color="#fefeff"/><stop offset=".229" stop-color="#f6f6ff"/><stop offset=".259" stop-color="#dedeff"/><stop offset=".275" stop-color="#c6c6ff"/><stop offset=".283" stop-color="#b6b6ff"/><stop offset=".296" stop-color="#9696ff"/><stop offset=".309" stop-color="#6e6eff"/><stop offset=".325" stop-color="#3434ff"/><stop offset=".336" stop-color="#0606ff"/><stop offset=".339" stop-color="#00f"/><stop offset="1" stop-color="#00f"/></linearGradient>
<linearGradient id="q0"><stop offset="0" stop-color="#fefeff"/><stop offset=".168" stop-color="#fffefe"/><stop offset=".195" stop-color="#fff4f4"/><stop offset=".205" stop-color="#ffeaea"/><stop offset=".216" stop-color="#ffdada"/><stop offset=".227" stop-color="#ffc4c4"/><stop offset=".237" stop-color="#ffa6a6"/><stop offset=".248" stop-color="#ff7e7e"/><stop offset=".256" stop-color="#ff5a5a"/><stop offset=".261" stop-color="#ff4040"/><stop offset=".272" stop-color="#ff0202"/><stop offset=".275" stop-color="#f00"/><stop offset="1" stop-color="#f00"/></linearGradient>
<linearGradient id="q1"><stop offset="0" stop-color="#fefeff"/><stop offset=".168" stop-color="#fffefe"/><stop offset=".195" stop-color="#fff4f4"/><stop offset=".205" stop-color="#ffeaea"/><stop offset=".216" stop-color="#ffdada"/><stop offset=".227" stop-color="#ffc4c4"/><stop offset=".237" stop-color="#ffa6a6"/><stop offset=".248" stop-color="#ff7e7e"/><stop offset=".256" stop-color="#ff5a5a"/><stop offset=".261" stop-color="#ff4040"/><stop offset=".272" stop-color="#ff0202"/><stop offset=".275" stop-color="#f00"/><stop offset="1" stop-color="#f00"/></linearGradient>
<linearGradient id="q2"><stop offset="0" stop-color="#fefeff"/><stop offset=".168" stop-color="#fffefe"/><stop offset=".187" stop-color="#fff8f8"/><stop offset=".203" stop-color="#ffecec"/><stop offset=".221" stop-color="#ffd0d0"/><stop offset=".235" stop-color="#ffaeae"/><stop offset=".248" stop-color="#ff7e7e"/><stop offset=".256" stop-color="#ff5a5a"/><stop offset=".267" stop-color="#f22"/><stop offset=".272" stop-color="#ff0202"/><stop offset=".275" stop-color="#f00"/><stop offset="1" stop-color="#f00"/></linearGradient>
<linearGradient id="q3"><stop offset="0" stop-color="#fefeff"/><stop offset=".165" stop-color="#fffefe"/><stop offset=".181" stop-color="#fffafa"/><stop offset=".197" stop-color="#fff0f0"/><stop offset=".211" stop-color="#ffe0e0"/><stop offset=".221" stop-color="#fcc"/><stop offset=".235" stop-color="#ffa8a8"/><stop offset=".248" stop-color="#ff7676"/><stop offset=".264" stop-color="#ff2626"/><stop offset=".269" stop-color="#ff0606"/><stop offset=".272" stop-color="#f00"/><stop offset="1" stop-color="#f00"/></linearGradient>
<linearGradient id="q4"><stop offset="0" stop-color="#fefeff"/><stop offset=".163" stop-color="#fffefe"/><stop offset=".181" stop-color="#fff8f8"/><stop offset=".195" stop-color="#fee"/><stop offset=".211" stop-color="#ffd8d8"/><stop offset=".221" stop-color="#ffc0c0"/><stop offset=".232" stop-color="#ffa0a0"/><stop offset=".245" stop-color="#ff6c6c"/><stop offset=".259" stop-color="#ff2828"/><stop offset=".264" stop-color="#ff0808"/><stop offset=".267" stop-color="#f00"/><stop offset="1" stop-color="#f00"/></linearGradient>
<linearGradient id="q5"><stop offset="0" stop-color="#fefeff"/><stop offset=".155" stop-color="#fffefe"/><stop offset=".171" stop-color="#fffafa"/><stop offset=".184" stop-color="#fff2f2"/><stop offset=".203" stop-color="#ffdada"/><stop offset=".216" stop-color="#ffbcbc"/><stop offset=".221" stop-color="#ffacac"/><stop offset=".229" stop-color="#ff9090"/><stop offset=".24" stop-color="#ff6262"/><stop offset=".248" stop-color="#ff3a3a"/><stop offset=".256" stop-color="#ff0a0a"/><stop offset=".259" stop-color="#f00"/><stop offset="1" stop-color="#f00"/></linearGradient>
<linearGradient id="q6"><stop offset="0" stop-color="#fefeff"/><stop offset=".149" stop-color="#fffefe"/><stop offset=".171" stop-color="#fff6f6"/><stop offset=".184" stop-color="#ffeaea"/><stop offset=".192" stop-color="#ffdede"/><stop offset=".203" stop-color="#ffc8c8"/><stop offset=".216" stop-color="#ffa0a0"/><stop offset=".221" stop-color="#ff8c8c"/><stop offset=".232" stop-color="#ff5c5c"/><stop offset=".243" stop-color="#f22"/><stop offset=".248" stop-color="#f00"/><stop offset="1" stop-color="#f00"/></linearGradient>
<linearGradient id="q7"><stop offset="0" stop-color="#fefeff"/><stop offset=".141" stop-color="#fffefe"/><stop offset=".168" stop-color="#fff2f2"/><stop offset=".189" stop-color="#ffd2d2"/><stop offset=".203" stop-color="#ffacac"/><stop offset=".211" stop-color="#ff8e8e"/><stop offset=".219" stop-color="#ff6a6a"/><stop offset=".229" stop-color="#ff3030"/><stop offset=".237" stop-color="#f00"/><stop offset="1" stop-color="#f00"/></linearGradient>
<linearGradient id="q8"><stop offset="0" stop-color="#fefeff"/><stop offset=".136" stop-color="#fffefe"/><stop offset=".157" stop-color="#fff4f4"/><stop offset=".168" stop-color="#ffe8e8"/><stop offset=".176" stop-color="#ffdada"/><stop offset=".181" stop-color="#ffcece"/><stop offset=".192" stop-color="#ffaeae"/><stop offset=".197" stop-color="#ff9a9a"/><stop offset=".208" stop-color="#ff6868"/><stop offset=".216" stop-color="#ff3a3a"/><stop offset=".224" stop-color="#ff0404"/><stop offset=".227" stop-color="#f00"/><stop offset="1" stop-color="#f00"/></linearGradient>
<linearGradient id="q9"><stop offset="0" stop-color="#fefeff"/><stop offset=".128" stop-color="#fffefe"/><stop offset=".144" stop-color="#fff8f8"/><stop offset=".155" stop-color="#fee"/><stop offset=".163" stop-color="#ffe2e2"/><stop offset=".171" stop-color="#ffd0d0"/><stop offset=".184" stop-color="#ffa4a4"/><stop offset=".195" stop-color="#ff7272"/><stop offset=".2" stop-color="#ff5454"/><stop offset=".211" stop-color="#ff0a0a"/><stop offset=".213" stop-color="#f00"/><stop offset="1" stop-color="#f00"/></linearGradient>
<linearGradient id="q10"><stop offset="0" stop-color="#fefeff"/><stop offset=".12" stop-color="#fffefe"/><stop offset=".136" stop-color="#fff8f8"/><stop offset=".144" stop-color="#fff0f0"/><stop offset=".157" stop-color="#ffdada"/><stop offset=".165" stop-color="#ffc4c4"/><stop offset=".171" stop-color="#ffb0b0"/><stop offset=".181" stop-color="#ff7e7e"/><stop offset=".187" stop-color="#ff5e5e"/><stop offset=".2" stop-color="#f00"/><stop offset="1" stop-color="#f00"/></linearGradient>
<linearGradient id="q11"><stop offset="0" stop-color="#fefeff"/><stop offset=".115" stop-color="#fffefe"/><stop offset=".125" stop-color="#fffafa"/><stop offset=".136" stop-color="#fff0f0"/><stop offset=".149" stop-color="#ffd8d8"/><stop offset=".163" stop-color="#faa"/><stop offset=".168" stop-color="#ff9090"/><stop offset=".173" stop-color="#ff7070"/><stop offset=".179" stop-color="#ff4c4c"/><stop offset=".187" stop-color="#ff0e0e"/><stop offset=".189" stop-color="#f00"/><stop offset="1" stop-color="#f00"/></linearGradient>
<linearGradient id="q12"><stop offset="0" stop-color="#fefeff"/><stop offset=".107" stop-color="#fffefe"/><stop offset=".115" stop-color="#fffcfc"/><stop offset=".131" stop-color="#fee"/><stop offset=".141" stop-color="#ffd8d8"/><stop offset=".155" stop-color="#ffa6a6"/><stop offset=".163" stop-color="#ff7878"/><stop offset=".168" stop-color="#ff5454"/><stop offset=".176" stop-color="#ff1212"/><stop offset=".179" stop-color="#f00"/><stop offset="1" stop-color="#f00"/></linearGradient>
<linearGradient id="q13"><stop offset="0" stop-color="#fefeff"/><stop offset=".101" stop-color="#fffefe"/><stop offset=".112" stop-color="#fffafa"/><stop offset=".12" stop-color="#fff2f2"/><stop offset=".131" stop-color="#ffe0e0"/><stop offset=".139" stop-color="#ffc8c8"/><stop offset=".144" stop-color="#ffb2b2"/><stop offset=".149" stop-color="#ff9696"/><stop offset=".157" stop-color="#ff6262"/><stop offset=".168" stop-color="#ff0606"/><stop offset=".171" stop-color="#f00"/><stop offset="1" stop-color="#f00"/></linearGradient>
<linearGradient id="q14"><stop offset="0" stop-color="#fefeff"/><stop offset=".096" stop-color="#fffefe"/><stop offset=".112" stop-color="#fff4f4"/><stop offset=".12" stop-color="#ffe8e8"/><stop offset=".131" stop-color="#ffcaca"/><stop offset=".139" stop-color="#ffa6a6"/><stop offset=".144" stop-color="#ff8686"/><stop offset=".149" stop-color="#ff6060"/><stop offset=".16" stop-color="#f00"/><stop offset="1" stop-color="#f00"/></linearGradient>
<linearGradient id="q15"><stop offset="0" stop-color="#fefeff"/><stop offset=".091" stop-color="#fffefe"/><stop offset=".104" stop-color="#fff6f6"/><stop offset=".112" stop-color="#ffeaea"/><stop offset=".123" stop-color="#ffcece"/><stop offset=".131" stop-color="#faa"/><stop offset=".136" stop-color="#ff8a8a"/><stop offset=".141" stop-color="#ff6262"/><stop offset=".147" stop-color="#ff3434"/><stop offset=".152" stop-color="#f00"/><stop offset=".493" stop-color="#f00"/><stop offset=".515" stop-color="#ff1e1e"/><stop offset=".531" stop-color="#ff2e2e"/><stop offset=".557" stop-color="#ff3e3e"/><stop offset=".581" stop-color="#f44"/><stop offset=".637" stop-color="#ff4040"/><stop offset=".779" stop-color="#ff1a1a"/><stop offset=".837" stop-color="#ff0e0e"/><stop offset=".949" stop-color="#f00"/><stop offset="1" stop-color="#f00"/></linearGradient>
<linearGradient id="q16"><stop offset="0" stop-color="#fefeff"/><stop offset=".085" stop-color="#fffefe"/><stop offset=".099" stop-color="#fff6f6"/><stop offset=".104" stop-color="#fee"/><stop offset=".112" stop-color="#ffdcdc"/><stop offset=".123" stop-color="#ffb0b0"/><stop offset=".128" stop-color="#ff9090"/><stop offset=".133" stop-color="#ff6868"/><stop offset=".136" stop-color="#ff5252"/><stop offset=".144" stop-color="#ff0202"/><stop offset=".147" stop-color="#f00"/><stop offset=".416" stop-color="#f00"/><stop offset=".429" stop-color="#ff3232"/><stop offset=".44" stop-color="#ff5252"/><stop offset=".464" stop-color="#f88"/><stop offset=".491" stop-color="#ffacac"/><stop offset=".507" stop-color="#ffb8b8"/><stop offset=".531" stop-color="#ffc0c0"/><stop offset=".557" stop-color="#ffc0c0"/><stop offset=".581" stop-color="#ffbaba"/><stop offset=".699" stop-color="#ff8686"/><stop offset=".792" stop-color="#f66"/><stop offset=".891" stop-color="#ff5252"/><stop offset="1" stop-color="#ff4848"/></linearGradient>
<linearGradient id="q17"><stop offset="0" stop-color="#fefeff"/><stop offset=".08" stop-color="#fffefe"/><stop offset=".093" stop-color="#fff6f6"/><stop offset=".099" stop-color="#fee"/><stop offset=".109" stop-color="#ffd0d0"/><stop offset=".115" stop-color="#ffb8b8"/><stop offset=".12" stop-color="#ff9898"/><stop offset=".125" stop-color="#ff7272"/><stop offset=".131" stop-color="#ff4242"/><stop offset=".136" stop-color="#ff0c0c"/><stop offset=".139" stop-color="#f00"/><stop offset=".368" stop-color="#f00"/><stop offset=".384" stop-color="#ff5454"/><stop offset=".4" stop-color="#ff9898"/><stop offset=".411" stop-color="#ffbcbc"/><stop offset=".421" stop-color="#ffdada"/><stop offset=".432" stop-color="#fff2f2"/><stop offset=".44" stop-color="#fefeff"/><stop offset=".451" stop-color="#eef"/><stop offset=".469" stop-color="#dcdcff"/><stop offset=".488" stop-color="#d4d4ff"/><stop offset=".512" stop-color="#d4d4ff"/><stop offset=".547" stop-color="#e0e0ff"/><stop offset=".6" stop-color="#fffefe"/><stop offset=".696" stop-color="#ffc6c6"/><stop offset=".779" stop-color="#ffa6a6"/><stop offset=".877" stop-color="#ff9090"/><stop offset="1" stop-color="#ff8484"/></linearGradient>
<linearGradient id="q18"><stop offset="0" stop-color="#fefeff"/><stop offset=".075" stop-color="#fffefe"/><stop offset=".091" stop-color="#fff2f2"/><stop offset=".101" stop-color="#ffd8d8"/><stop offset=".109" stop-color="#ffb4b4"/><stop offset=".112" stop-color="#ffa4a4"/><stop offset=".12" stop-color="#ff6868"/><stop offset=".131" stop-color="#f00"/><stop offset=".333" stop-color="#f00"/><stop offset=".349" stop-color="#ff6a6a"/><stop offset=".36" stop-color="#ffa6a6"/><stop offset=".373" stop-color="#ffe4e4"/><stop offset=".379" stop-color="#fff8f8"/><stop offset=".381" stop-color="#fcfcff"/><stop offset=".389" stop-color="#e0e0ff"/><stop offset=".397" stop-color="#cacaff"/><stop offset=".411" stop-color="#acacff"/><stop offset=".427" stop-color="#9494ff"/><stop offset=".443" stop-color="#8686ff"/><stop offset=".469" stop-color="#8080ff"/><stop offset=".507" stop-color="#8e8eff"/><stop offset=".624" stop-color="#e6e6ff"/><stop offset=".664" stop-color="#fefeff"/><stop offset=".669" stop-color="#fffefe"/><stop offset=".715" stop-color="#ffe6e6"/><stop offset=".8" stop-color="#ffcaca"/><stop offset=".888" stop-color="#ffbaba"/><stop offset="1" stop-color="#ffb2b2"/></linearGradient>
<linearGradient id="q19"><stop offset="0" stop-color="#fefeff"/><stop offset=".072" stop-color="#fffefe"/><stop offset=".085" stop-color="#fff2f2"/><stop offset=".093" stop-color="#ffe0e0"/><stop offset=".099" stop-color="#fcc"/><stop offset=".104" stop-color="#ffb0b0"/><stop offset=".109" stop-color="#ff8c8c"/><stop offset=".112" stop-color="#ff7676"/><stop offset=".117" stop-color="#f44"/><stop offset=".123" stop-color="#ff0a0a"/><stop offset=".125" stop-color="#f00"/><stop offset=".304" stop-color="#f00"/><stop offset=".307" stop-color="#ff0404"/><stop offset=".32" stop-color="#ff6c6c"/><stop offset=".331" stop-color="#ffb4b4"/><stop offset=".336" stop-color="#ffd4d4"/><stop offset=".344" stop-color="#fffefe"/><stop offset=".347" stop-color="#f2f2ff"/><stop offset=".355" stop-color="#ceceff"/><stop offset=".365" stop-color="#a6a6ff"/><stop offset=".379" stop-color="#8080ff"/><stop offset=".389" stop-color="#6a6aff"/><stop offset=".403" stop-color="#5656ff"/><stop offset=".413" stop-color="#4c4cff"/><stop offset=".427" stop-color="#4646ff"/><stop offset=".443" stop-color="#4646ff"/><stop offset=".464" stop-color="#4e4eff"/><stop offset=".504" stop-color="#6c6cff"/><stop offset=".56" stop-color="#a0a0ff"/><stop offset=".616" stop-color="#ccf"/><stop offset=".651" stop-color="#e2e2ff"/><stop offset=".709" stop-color="#fefeff"/><stop offset=".771" stop-color="#ffecec"/><stop offset=".827" stop-color="#ffe0e0"/><stop offset=".925" stop-color="#ffd4d4"/><stop offset="1" stop-color="#ffd0d0"/></linearGradient>
<linearGradient id="q20"><stop offset="0" stop-color="#fefeff"/><stop offset=".067" stop-color="#fffefe"/><stop offset=".077" stop-color="#fff6f6"/><stop offset=".083" stop-color="#fee"/><stop offset=".091" stop-color="#ffd6d6"/><stop offset=".099" stop-color="#ffaeae"/><stop offset=".101" stop-color="#ff9c9c"/><stop offset=".104" stop-color="#f88"/><stop offset=".109" stop-color="#ff5858"/><stop offset=".117" stop-color="#f00"/><stop offset=".283" stop-color="#f00"/><stop offset=".285" stop-color="#ff0e0e"/><stop offset=".299" stop-color="#ff8080"/><stop offset=".307" stop-color="#ffbcbc"/><stop offset=".312" stop-color="#ffe0e0"/><stop offset=".317" stop-color="#fefeff"/><stop offset=".333" stop-color="#aaf"/><stop offset=".347" stop-color="#7676ff"/><stop offset=".355" stop-color="#5e5eff"/><stop offset=".368" stop-color="#4040ff"/><stop offset=".379" stop-color="#3030ff"/><stop offset=".392" stop-color="#2424ff"/><stop offset=".403" stop-color="#2020ff"/><stop offset=".416" stop-color="#2020ff"/><stop offset=".432" stop-color="#2626ff"/><stop offset=".461" stop-color="#3c3cff"/><stop offset=".541" stop-color="#8c8cff"/><stop offset=".6" stop-color="#bcbcff"/><stop offset=".643" stop-color="#d6d6ff"/><stop offset=".701" stop-color="#f0f0ff"/><stop offset=".749" stop-color="#fefeff"/><stop offset=".763" stop-color="#fffefe"/><stop offset=".851" stop-color="#fee"/><stop offset="1" stop-color="#ffe4e4"/></linearGradient>
<linearGradient id="q21"><stop offset="0" stop-color="#fefeff"/><stop offset=".061" stop-color="#fffefe"/><stop offset=".069" stop-color="#fffafa"/><stop offset=".08" stop-color="#ffe8e8"/><stop offset=".088" stop-color="#ffcaca"/><stop offset=".096" stop-color="#ff9a9a"/><stop offset=".101" stop-color="#ff6c6c"/><stop offset=".107" stop-color="#ff3636"/><stop offset=".109" stop-color="#ff1616"/><stop offset=".112" stop-color="#f00"/><stop offset=".264" stop-color="#f00"/><stop offset=".267" stop-color="#ff1414"/><stop offset=".277" stop-color="#ff7676"/><stop offset=".285" stop-color="#ffb8b8"/><stop offset=".293" stop-color="#fff2f2"/><stop offset=".296" stop-color="#fafaff"/><stop offset=".307" stop-color="#babaff"/><stop offset=".315" stop-color="#9292ff"/><stop offset=".325" stop-color="#66f"/><stop offset=".336" stop-color="#44f"/><stop offset=".349" stop-color="#2626ff"/><stop offset=".357" stop-color="#1a1aff"/><stop offset=".379" stop-color="#0a0aff"/><stop offset=".403" stop-color="#0e0eff"/><stop offset=".424" stop-color="#1c1cff"/><stop offset=".525" stop-color="#8686ff"/><stop offset=".584" stop-color="#b6b6ff"/><stop offset=".645" stop-color="#d8d8ff"/><stop offset=".693" stop-color="#eaeaff"/><stop offset=".784" stop-color="#fefeff"/><stop offset=".904" stop-color="#fff4f4"/><stop offset="1" stop-color="#fff2f2"/></linearGradient>
<linearGradient id="q22"><stop offset="0" stop-color="#fefeff"/><stop offset=".059" stop-color="#fffefe"/><stop offset=".072" stop-color="#fff0f0"/><stop offset=".08" stop-color="#ffd6d6"/><stop offset=".088" stop-color="#ffacac"/><stop offset=".096" stop-color="#ff6a6a"/><stop offset=".104" stop-color="#ff1010"/><stop offset=".107" stop-color="#f00"/><stop offset=".248" stop-color="#ff0202"/><stop offset=".253" stop-color="#ff3838"/><stop offset=".261" stop-color="#ff8282"/><stop offset=".272" stop-color="#ffdada"/><stop offset=".277" stop-color="#fefeff"/><stop offset=".288" stop-color="#b8b8ff"/><stop offset=".299" stop-color="#8080ff"/><stop offset=".309" stop-color="#5454ff"/><stop offset=".323" stop-color="#2c2cff"/><stop offset=".336" stop-color="#1212ff"/><stop offset=".347" stop-color="#0606ff"/><stop offset=".357" stop-color="#00f"/><stop offset=".373" stop-color="#00f"/><stop offset=".387" stop-color="#0606ff"/><stop offset=".411" stop-color="#1a1aff"/><stop offset=".488" stop-color="#7272ff"/><stop offset=".528" stop-color="#9898ff"/><stop offset=".568" stop-color="#b6b6ff"/><stop offset=".624" stop-color="#d4d4ff"/><stop offset=".707" stop-color="#eef"/><stop offset=".813" stop-color="#fefeff"/><stop offset="1" stop-color="#fff8f8"/></linearGradient>
<linearGradient id="q23"><stop offset="0" stop-color="#fefeff"/><stop offset=".053" stop-color="#fffefe"/><stop offset=".064" stop-color="#fff6f6"/><stop offset=".069" stop-color="#ffeaea"/><stop offset=".077" stop-color="#fcc"/><stop offset=".083" stop-color="#ffacac"/><stop offset=".088" stop-color="#ff8282"/><stop offset=".091" stop-color="#ff6868"/><stop offset=".093" stop-color="#ff4c4c"/><stop offset=".099" stop-color="#ff0c0c"/><stop offset=".101" stop-color="#f00"/><stop offset=".232" stop-color="#f00"/><stop offset=".235" stop-color="#ff1212"/><stop offset=".243" stop-color="#ff6262"/><stop offset=".251" stop-color="#faa"/><stop offset=".259" stop-color="#ffecec"/><stop offset=".261" stop-color="#fefeff"/><stop offset=".269" stop-color="#c8c8ff"/><stop offset=".277" stop-color="#9898ff"/><stop offset=".285" stop-color="#7070ff"/><stop offset=".296" stop-color="#4646ff"/><stop offset=".304" stop-color="#2e2eff"/><stop offset=".315" stop-color="#1616ff"/><stop offset=".323" stop-color="#0a0aff"/><stop offset=".333" stop-color="#00f"/><stop offset=".36" stop-color="#00f"/><stop offset=".379" stop-color="#0c0cff"/><stop offset=".411" stop-color="#2e2eff"/><stop offset=".459" stop-color="#6868ff"/><stop offset=".496" stop-color="#8e8eff"/><stop offset=".541" stop-color="#b2b2ff"/><stop offset=".605" stop-color="#d4d4ff"/><stop offset=".685" stop-color="#ececff"/><stop offset=".784" stop-color="#fafaff"/><stop offset=".837" stop-color="#fefeff"/><stop offset="1" stop-color="#fffcfc"/></linearGradient>
<linearGradient id="q24"><stop offset="0" stop-color="#fefeff"/><stop offset=".051" stop-color="#fffefe"/><stop offset=".056" stop-color="#fffafa"/><stop offset=".064" stop-color="#ffecec"/><stop offset=".072" stop-color="#ffcece"/><stop offset=".077" stop-color="#ffaeae"/><stop offset=".08" stop-color="#ff9a9a"/><stop offset=".085" stop-color="#ff6868"/><stop offset=".093" stop-color="#ff0808"/><stop offset=".096" stop-color="#f00"/><stop offset=".219" stop-color="#f00"/><stop offset=".221" stop-color="#ff1414"/><stop offset=".232" stop-color="#ff7e7e"/><stop offset=".24" stop-color="#ffc6c6"/><stop offset=".245" stop-color="#fff0f0"/><stop offset=".248" stop-color="#f8f8ff"/><stop offset=".256" stop-color="#c2c2ff"/><stop offset=".264" stop-color="#9292ff"/><stop offset=".28" stop-color="#4a4aff"/><stop offset=".291" stop-color="#2a2aff"/><stop offset=".299" stop-color="#1818ff"/><stop offset=".309" stop-color="#0808ff"/><stop offset=".32" stop-color="#00f"/><stop offset=".341" stop-color="#00f"/><stop offset=".365" stop-color="#1212ff"/><stop offset=".456" stop-color="#7c7cff"/><stop offset=".485" stop-color="#9898ff"/><stop offset=".539" stop-color="#bebeff"/><stop offset=".605" stop-color="#dcdcff"/><stop offset=".667" stop-color="#ececff"/><stop offset=".757" stop-color="#f8f8ff"/><stop offset=".856" stop-color="#fefeff"/><stop offset="1" stop-color="#fffefe"/></linearGradient>
<linearGradient id="q25"><stop offset="0" stop-color="#fefeff"/><stop offset=".045" stop-color="#fffefe"/><stop offset=".053" stop-color="#fff8f8"/><stop offset=".061" stop-color="#ffe8e8"/><stop offset=".067" stop-color="#ffd2d2"/><stop offset=".075" stop-color="#ff9c9c"/><stop offset=".08" stop-color="#ff6868"/><stop offset=".083" stop-color="#ff4a4a"/><stop offset=".088" stop-color="#ff0606"/><stop offset=".091" stop-color="#f00"/><stop offset=".205" stop-color="#f00"/><stop offset=".208" stop-color="#ff0808"/><stop offset=".221" stop-color="#ff9090"/><stop offset=".227" stop-color="#ffc0c0"/><stop offset=".232" stop-color="#ffecec"/><stop offset=".235" stop-color="#fefeff"/><stop offset=".24" stop-color="#d6d6ff"/><stop offset=".251" stop-color="#9494ff"/><stop offset=".259" stop-color="#6c6cff"/><stop offset=".272" stop-color="#3a3aff"/><stop offset=".285" stop-color="#1a1aff"/><stop offset=".293" stop-color="#0e0eff"/><stop offset=".301" stop-color="#0606ff"/><stop offset=".312" stop-color="#0202ff"/><stop offset=".328" stop-color="#0606ff"/><stop offset=".349" stop-color="#1616ff"/><stop offset=".424" stop-color="#7070ff"/><stop offset=".464" stop-color="#9898ff"/><stop offset=".523" stop-color="#c2c2ff"/><stop offset=".589" stop-color="#dedeff"/><stop offset=".645" stop-color="#ececff"/><stop offset=".741" stop-color="#f8f8ff"/><stop offset=".861" stop-color="#fefeff"/><stop offset="1" stop-color="#fffefe"/></linearGradient>
<linearGradient id="q26"><stop offset="0" stop-color="#fefeff"/><stop offset=".043" stop-color="#fffefe"/><stop offset=".053" stop-color="#fff2f2"/><stop offset=".059" stop-color="#ffe2e2"/><stop offset=".061" stop-color="#ffd6d6"/><stop offset=".067" stop-color="#ffb4b4"/><stop offset=".072" stop-color="#ff8686"/><stop offset=".075" stop-color="#ff6a6a"/><stop offset=".083" stop-color="#ff0404"/><stop offset=".085" stop-color="#f00"/><stop offset=".195" stop-color="#f00"/><stop offset=".197" stop-color="#ff1010"/><stop offset=".205" stop-color="#ff6464"/><stop offset=".216" stop-color="#ffc8c8"/><stop offset=".221" stop-color="#fff4f4"/><stop offset=".224" stop-color="#f6f6ff"/><stop offset=".232" stop-color="#bebeff"/><stop offset=".24" stop-color="#8e8eff"/><stop offset=".248" stop-color="#6868ff"/><stop offset=".259" stop-color="#4040ff"/><stop offset=".269" stop-color="#2424ff"/><stop offset=".283" stop-color="#1010ff"/><stop offset=".296" stop-color="#0808ff"/><stop offset=".312" stop-color="#0a0aff"/><stop offset=".333" stop-color="#1a1aff"/><stop offset=".397" stop-color="#6868ff"/><stop offset=".448" stop-color="#9c9cff"/><stop offset=".501" stop-color="#c2c2ff"/><stop offset=".555" stop-color="#dadaff"/><stop offset=".624" stop-color="#ececff"/><stop offset=".723" stop-color="#f8f8ff"/><stop offset=".859" stop-color="#fefeff"/><stop offset="1" stop-color="#fefeff"/></linearGradient>
<linearGradient id="q27"><stop offset="0" stop-color="#fefeff"/><stop offset=".037" stop-color="#fffefe"/><stop offset=".043" stop-color="#fffcfc"/><stop offset=".051" stop-color="#fee"/><stop offset=".056" stop-color="#ffdada"/><stop offset=".061" stop-color="#ffb8b8"/><stop offset=".067" stop-color="#ff8a8a"/><stop offset=".072" stop-color="#ff4c4c"/><stop offset=".077" stop-color="#ff0404"/><stop offset=".08" stop-color="#f00"/><stop offset=".184" stop-color="#f00"/><stop offset=".187" stop-color="#ff0e0e"/><stop offset=".195" stop-color="#ff6464"/><stop offset=".2" stop-color="#ff9898"/><stop offset=".211" stop-color="#fff4f4"/><stop offset=".213" stop-color="#f4f4ff"/><stop offset=".221" stop-color="#bcbcff"/><stop offset=".227" stop-color="#9c9cff"/><stop offset=".232" stop-color="#8080ff"/><stop offset=".243" stop-color="#5252ff"/><stop offset=".253" stop-color="#3232ff"/><stop offset=".259" stop-color="#2626ff"/><stop offset=".269" stop-color="#1616ff"/><stop offset=".283" stop-color="#0e0eff"/><stop offset=".299" stop-color="#1010ff"/><stop offset=".32" stop-color="#2020ff"/><stop offset=".389" stop-color="#7474ff"/><stop offset=".427" stop-color="#9a9aff"/><stop offset=".485" stop-color="#c4c4ff"/><stop offset=".547" stop-color="#dedeff"/><stop offset=".627" stop-color="#f0f0ff"/><stop offset=".701" stop-color="#f8f8ff"/><stop offset=".845" stop-color="#fefeff"/><stop offset="1" stop-color="#fefeff"/></linearGradient>
<linearGradient id="q28"><stop offset="0" stop-color="#fefeff"/><stop offset=".035" stop-color="#fffefe"/><stop offset=".043" stop-color="#fff6f6"/><stop offset=".048" stop-color="#ffe8e8"/><stop offset=".053" stop-color="#ffd0d0"/><stop offset=".059" stop-color="#ffa8a8"/><stop offset=".061" stop-color="#ff8e8e"/><stop offset=".067" stop-color="#ff5050"/><stop offset=".072" stop-color="#ff0404"/><stop offset=".075" stop-color="#f00"/><stop offset=".173" stop-color="#f00"/><stop offset=".176" stop-color="#ff0606"/><stop offset=".187" stop-color="#ff7878"/><stop offset=".192" stop-color="#ffacac"/><stop offset=".2" stop-color="#fff0f0"/><stop offset=".203" stop-color="#f8f8ff"/><stop offset=".213" stop-color="#aeaeff"/><stop offset=".219" stop-color="#9090ff"/><stop offset=".227" stop-color="#6a6aff"/><stop offset=".235" stop-color="#4c4cff"/><stop offset=".248" stop-color="#2a2aff"/><stop offset=".261" stop-color="#1818ff"/><stop offset=".269" stop-color="#1414ff"/><stop offset=".288" stop-color="#1616ff"/><stop offset=".304" stop-color="#22f"/><stop offset=".365" stop-color="#6c6cff"/><stop offset=".416" stop-color="#a0a0ff"/><stop offset=".475" stop-color="#c8c8ff"/><stop offset=".528" stop-color="#dedeff"/><stop offset=".584" stop-color="#ececff"/><stop offset=".683" stop-color="#f8f8ff"/><stop offset=".832" stop-color="#fefeff"/><stop offset="1" stop-color="#fefeff"/></linearGradient>
<linearGradient id="q29"><stop offset="0" stop-color="#fefeff"/><stop offset=".032" stop-color="#fffefe"/><stop offset=".043" stop-color="#fee"/><stop offset=".048" stop-color="#ffd6d6"/><stop offset=".053" stop-color="#ffaeae"/><stop offset=".059" stop-color="#ff7676"/><stop offset=".061" stop-color="#ff5454"/><stop offset=".067" stop-color="#ff0606"/><stop offset=".069" stop-color="#f00"/><stop offset=".165" stop-color="#f00"/><stop offset=".168" stop-color="#ff1414"/><stop offset=".176" stop-color="#ff6c6c"/><stop offset=".184" stop-color="#ffbaba"/><stop offset=".192" stop-color="#fffefe"/><stop offset=".197" stop-color="#d8d8ff"/><stop offset=".205" stop-color="#a4a4ff"/><stop offset=".216" stop-color="#6e6eff"/><stop offset=".224" stop-color="#5050ff"/><stop offset=".237" stop-color="#2e2eff"/><stop offset=".245" stop-color="#22f"/><stop offset=".259" stop-color="#1818ff"/><stop offset=".275" stop-color="#1a1aff"/><stop offset=".293" stop-color="#2828ff"/><stop offset=".355" stop-color="#7272ff"/><stop offset=".397" stop-color="#9e9eff"/><stop offset=".44" stop-color="#bebeff"/><stop offset=".504" stop-color="#dcdcff"/><stop offset=".579" stop-color="#eef"/><stop offset=".667" stop-color="#f8f8ff"/><stop offset=".816" stop-color="#fefeff"/><stop offset="1" stop-color="#fefeff"/></linearGradient>
<linearGradient id="q30"><stop offset="0" stop-color="#fefeff"/><stop offset=".029" stop-color="#fffefe"/><stop offset=".035" stop-color="#fff8f8"/><stop offset=".04" stop-color="#ffe8e8"/><stop offset=".043" stop-color="#ffdcdc"/><stop offset=".048" stop-color="#ffb6b6"/><stop offset=".051" stop-color="#ff9c9c"/><stop offset=".056" stop-color="#ff5a5a"/><stop offset=".061" stop-color="#ff0808"/><stop offset=".064" stop-color="#f00"/><stop offset=".157" stop-color="#f00"/><stop offset=".163" stop-color="#ff3e3e"/><stop offset=".173" stop-color="#ffacac"/><stop offset=".181" stop-color="#fff2f2"/><stop offset=".184" stop-color="#f6f6ff"/><stop offset=".197" stop-color="#9c9cff"/><stop offset=".205" stop-color="#7474ff"/><stop offset=".216" stop-color="#4c4cff"/><stop offset=".227" stop-color="#3232ff"/><stop offset=".235" stop-color="#2626ff"/><stop offset=".248" stop-color="#1c1cff"/><stop offset=".267" stop-color="#2020ff"/><stop offset=".28" stop-color="#2a2aff"/><stop offset=".36" stop-color="#88f"/><stop offset=".389" stop-color="#a4a4ff"/><stop offset=".443" stop-color="#c8c8ff"/><stop offset=".501" stop-color="#e0e0ff"/><stop offset=".589" stop-color="#f2f2ff"/><stop offset=".68" stop-color="#fafaff"/><stop offset="1" stop-color="#fefeff"/></linearGradient>
<linearGradient id="q31"><stop offset="0" stop-color="#fefeff"/><stop offset=".024" stop-color="#fffefe"/><stop offset=".029" stop-color="#fffafa"/><stop offset=".035" stop-color="#fee"/><stop offset=".04" stop-color="#ffd2d2"/><stop offset=".043" stop-color="#ffbebe"/><stop offset=".045" stop-color="#ffa4a4"/><stop offset=".051" stop-color="#ff6060"/><stop offset=".053" stop-color="#ff3838"/><stop offset=".056" stop-color="#ff0a0a"/><stop offset=".059" stop-color="#f00"/><stop offset=".147" stop-color="#f00"/><stop offset=".149" stop-color="#ff0606"/><stop offset=".16" stop-color="#ff7e7e"/><stop offset=".165" stop-color="#ffb4b4"/><stop offset=".173" stop-color="#fffafa"/><stop offset=".176" stop-color="#eef"/><stop offset=".184" stop-color="#b6b6ff"/><stop offset=".192" stop-color="#88f"/><stop offset=".197" stop-color="#7070ff"/><stop offset=".211" stop-color="#4242ff"/><stop offset=".216" stop-color="#3636ff"/><stop offset=".227" stop-color="#2626ff"/><stop offset=".237" stop-color="#2020ff"/><stop offset=".248" stop-color="#2020ff"/><stop offset=".28" stop-color="#3838ff"/><stop offset=".32" stop-color="#6a6aff"/><stop offset=".373" stop-color="#a2a2ff"/><stop offset=".432" stop-color="#cacaff"/><stop offset=".493" stop-color="#e2e2ff"/><stop offset=".573" stop-color="#f2f2ff"/><stop offset=".667" stop-color="#fafaff"/><stop offset=".784" stop-color="#fefeff"/><stop offset="1" stop-color="#fefeff"/></linearGradient>
<linearGradient id="q32"><stop offset="0" stop-color="#fffefe"/><stop offset=".021" stop-color="#fffefe"/><stop offset=".027" stop-color="#fff8f8"/><stop offset=".032" stop-color="#ffe8e8"/><stop offset=".035" stop-color="#ffdada"/><stop offset=".04" stop-color="#ffaeae"/><stop offset=".043" stop-color="#ff8e8e"/><stop offset=".045" stop-color="#ff6868"/><stop offset=".048" stop-color="#ff3e3e"/><stop offset=".051" stop-color="#ff0e0e"/><stop offset=".053" stop-color="#f00"/><stop offset=".139" stop-color="#f00"/><stop offset=".141" stop-color="#ff0808"/><stop offset=".155" stop-color="#ff9e9e"/><stop offset=".163" stop-color="#ffeaea"/><stop offset=".165" stop-color="#fefeff"/><stop offset=".173" stop-color="#c2c2ff"/><stop offset=".181" stop-color="#9292ff"/><stop offset=".189" stop-color="#6c6cff"/><stop offset=".195" stop-color="#5858ff"/><stop offset=".205" stop-color="#3a3aff"/><stop offset=".216" stop-color="#2a2aff"/><stop offset=".227" stop-color="#22f"/><stop offset=".243" stop-color="#2424ff"/><stop offset=".261" stop-color="#3232ff"/><stop offset=".336" stop-color="#8a8aff"/><stop offset=".365" stop-color="#a6a6ff"/><stop offset=".392" stop-color="#babaff"/><stop offset=".427" stop-color="#ceceff"/><stop offset=".48" stop-color="#e2e2ff"/><stop offset=".56" stop-color="#f2f2ff"/><stop offset=".651" stop-color="#fafaff"/><stop offset=".771" stop-color="#fefeff"/><stop offset="1" stop-color="#fefeff"/></linearGradient>
<linearGradient id="q33"><stop offset="0" stop-color="#fffefe"/><stop offset=".021" stop-color="#fffcfc"/><stop offset=".027" stop-color="#fff0f0"/><stop offset=".029" stop-color="#ffe2e2"/><stop offset=".032" stop-color="#ffd0d0"/><stop offset=".035" stop-color="#ffb8b8"/><stop offset=".037" stop-color="#ff9898"/><stop offset=".04" stop-color="#ff7272"/><stop offset=".045" stop-color="#ff1414"/><stop offset=".048" stop-color="#f00"/><stop offset=".131" stop-color="#f00"/><stop offset=".133" stop-color="#ff0606"/><stop offset=".139" stop-color="#ff4848"/><stop offset=".149" stop-color="#ffbcbc"/><stop offset=".155" stop-color="#ffecec"/><stop offset=".157" stop-color="#fafaff"/><stop offset=".163" stop-color="#d0d0ff"/><stop offset=".171" stop-color="#9c9cff"/><stop offset=".176" stop-color="#8080ff"/><stop offset=".187" stop-color="#5454ff"/><stop offset=".197" stop-color="#3838ff"/><stop offset=".205" stop-color="#2c2cff"/><stop offset=".211" stop-color="#2626ff"/><stop offset=".224" stop-color="#22f"/><stop offset=".232" stop-color="#2424ff"/><stop offset=".256" stop-color="#3838ff"/><stop offset=".301" stop-color="#7070ff"/><stop offset=".347" stop-color="#a0a0ff"/><stop offset=".389" stop-color="#c0c0ff"/><stop offset=".411" stop-color="#ccf"/><stop offset=".475" stop-color="#e4e4ff"/><stop offset=".533" stop-color="#f0f0ff"/><stop offset=".64" stop-color="#fafaff"/><stop offset=".76" stop-color="#fefeff"/><stop offset="1" stop-color="#fefeff"/></linearGradient>
<linearGradient id="q34"><stop offset="0" stop-color="#fffefe"/><stop offset=".016" stop-color="#fffefe"/><stop offset=".019" stop-color="#fffcfc"/><stop offset=".024" stop-color="#ffecec"/><stop offset=".027" stop-color="#ffdcdc"/><stop offset=".029" stop-color="#ffc4c4"/><stop offset=".032" stop-color="#ffa4a4"/><stop offset=".035" stop-color="#ff7e7e"/><stop offset=".04" stop-color="#ff1a1a"/><stop offset=".043" stop-color="#f00"/><stop offset=".125" stop-color="#f00"/><stop offset=".128" stop-color="#ff2424"/><stop offset=".136" stop-color="#ff8484"/><stop offset=".141" stop-color="#ffbcbc"/><stop offset=".147" stop-color="#fff0f0"/><stop offset=".149" stop-color="#f6f6ff"/><stop offset=".155" stop-color="#ccf"/><stop offset=".163" stop-color="#9898ff"/><stop offset=".168" stop-color="#7c7cff"/><stop offset=".176" stop-color="#5a5aff"/><stop offset=".184" stop-color="#4242ff"/><stop offset=".197" stop-color="#2a2aff"/><stop offset=".205" stop-color="#2424ff"/><stop offset=".216" stop-color="#22f"/><stop offset=".248" stop-color="#3a3aff"/><stop offset=".291" stop-color="#7070ff"/><stop offset=".336" stop-color="#a0a0ff"/><stop offset=".392" stop-color="#c8c8ff"/><stop offset=".427" stop-color="#d8d8ff"/><stop offset=".464" stop-color="#e4e4ff"/><stop offset=".536" stop-color="#f2f2ff"/><stop offset=".627" stop-color="#fafaff"/><stop offset=".747" stop-color="#fefeff"/><stop offset="1" stop-color="#fefeff"/></linearGradient>
<linearGradient id="q35"><stop offset="0" stop-color="#fffefe"/><stop offset=".013" stop-color="#fffefe"/><stop offset=".019" stop-color="#fff4f4"/><stop offset=".021" stop-color="#ffe6e6"/><stop offset=".024" stop-color="#ffd2d2"/><stop offset=".027" stop-color="#ffb4b4"/><stop offset=".029" stop-color="#ff8c8c"/><stop offset=".032" stop-color="#ff5a5a"/><stop offset=".035" stop-color="#f22"/><stop offset=".037" stop-color="#f00"/><stop offset=".117" stop-color="#f00"/><stop offset=".128" stop-color="#ff8282"/><stop offset=".133" stop-color="#ffbebe"/><stop offset=".139" stop-color="#fff2f2"/><stop offset=".141" stop-color="#f4f4ff"/><stop offset=".149" stop-color="#b6b6ff"/><stop offset=".155" stop-color="#9494ff"/><stop offset=".16" stop-color="#7878ff"/><stop offset=".168" stop-color="#5656ff"/><stop offset=".176" stop-color="#3e3eff"/><stop offset=".187" stop-color="#2a2aff"/><stop offset=".197" stop-color="#22f"/><stop offset=".211" stop-color="#22f"/><stop offset=".237" stop-color="#3838ff"/><stop offset=".283" stop-color="#7272ff"/><stop offset=".328" stop-color="#a2a2ff"/><stop offset=".368" stop-color="#c0c0ff"/><stop offset=".389" stop-color="#ccf"/><stop offset=".453" stop-color="#e4e4ff"/><stop offset=".512" stop-color="#f0f0ff"/><stop offset=".619" stop-color="#fafaff"/><stop offset=".736" stop-color="#fefeff"/><stop offset="1" stop-color="#fefeff"/></linearGradient>
<linearGradient id="q36"><stop offset="0" stop-color="#fffefe"/><stop offset=".011" stop-color="#fffefe"/><stop offset=".013" stop-color="#fffafa"/><stop offset=".016" stop-color="#fff0f0"/><stop offset=".019" stop-color="#ffe0e0"/><stop offset=".021" stop-color="#ffc4c4"/><stop offset=".024" stop-color="#ff9e9e"/><stop offset=".027" stop-color="#ff6a6a"/><stop offset=".029" stop-color="#ff2e2e"/><stop offset=".032" stop-color="#f00"/><stop offset=".109" stop-color="#f00"/><stop offset=".112" stop-color="#ff1414"/><stop offset=".12" stop-color="#ff8080"/><stop offset=".128" stop-color="#ffdada"/><stop offset=".131" stop-color="#fff4f4"/><stop offset=".133" stop-color="#f2f2ff"/><stop offset=".139" stop-color="#c6c6ff"/><stop offset=".147" stop-color="#8e8eff"/><stop offset=".152" stop-color="#7272ff"/><stop offset=".16" stop-color="#5050ff"/><stop offset=".165" stop-color="#4040ff"/><stop offset=".179" stop-color="#2626ff"/><stop offset=".187" stop-color="#2020ff"/><stop offset=".197" stop-color="#1e1eff"/><stop offset=".224" stop-color="#3232ff"/><stop offset=".277" stop-color="#7676ff"/><stop offset=".304" stop-color="#9494ff"/><stop offset=".328" stop-color="#aaf"/><stop offset=".376" stop-color="#cacaff"/><stop offset=".429" stop-color="#e0e0ff"/><stop offset=".517" stop-color="#f2f2ff"/><stop offset=".608" stop-color="#fafaff"/><stop offset=".728" stop-color="#fefeff"/><stop offset="1" stop-color="#fefeff"/></linearGradient>
<linearGradient id="q37"><stop offset="0" stop-color="#fffefe"/><stop offset=".008" stop-color="#fffefe"/><stop offset=".011" stop-color="#fff8f8"/><stop offset=".013" stop-color="#ffecec"/><stop offset=".016" stop-color="#ffd6d6"/><stop offset=".019" stop-color="#ffb2b2"/><stop offset=".021" stop-color="#ff8080"/><stop offset=".027" stop-color="#f00"/><stop offset=".101" stop-color="#f00"/><stop offset=".104" stop-color="#ff0a0a"/><stop offset=".112" stop-color="#ff7c7c"/><stop offset=".117" stop-color="#ffbcbc"/><stop offset=".123" stop-color="#fff6f6"/><stop offset=".125" stop-color="#eef"/><stop offset=".131" stop-color="#c0c0ff"/><stop offset=".139" stop-color="#88f"/><stop offset=".147" stop-color="#5e5eff"/><stop offset=".152" stop-color="#4a4aff"/><stop offset=".163" stop-color="#2c2cff"/><stop offset=".171" stop-color="#2020ff"/><stop offset=".187" stop-color="#1a1aff"/><stop offset=".208" stop-color="#2828ff"/><stop offset=".224" stop-color="#3a3aff"/><stop offset=".272" stop-color="#7a7aff"/><stop offset=".315" stop-color="#a6a6ff"/><stop offset=".371" stop-color="#ccf"/><stop offset=".435" stop-color="#e4e4ff"/><stop offset=".507" stop-color="#f2f2ff"/><stop offset=".597" stop-color="#fafaff"/><stop offset=".717" stop-color="#fefeff"/><stop offset="1" stop-color="#fefeff"/></linearGradient>
<linearGradient id="q38"><stop offset="0" stop-color="#fffefe"/><stop offset=".005" stop-color="#fffefe"/><stop offset=".008" stop-color="#fff8f8"/><stop offset=".011" stop-color="#ffe8e8"/><stop offset=".013" stop-color="#ffcaca"/><stop offset=".016" stop-color="#ff9a9a"/><stop offset=".019" stop-color="#ff5656"/><stop offset=".021" stop-color="#ff0404"/><stop offset=".024" stop-color="#f00"/><stop offset=".096" stop-color="#f00"/><stop offset=".104" stop-color="#ff7878"/><stop offset=".109" stop-color="#ffbcbc"/><stop offset=".115" stop-color="#fffafa"/><stop offset=".117" stop-color="#eaeaff"/><stop offset=".123" stop-color="#babaff"/><stop offset=".131" stop-color="#8080ff"/><stop offset=".139" stop-color="#5656ff"/><stop offset=".147" stop-color="#3838ff"/><stop offset=".152" stop-color="#2a2aff"/><stop offset=".16" stop-color="#1c1cff"/><stop offset=".171" stop-color="#1414ff"/><stop offset=".179" stop-color="#1414ff"/><stop offset=".2" stop-color="#2424ff"/><stop offset=".269" stop-color="#8080ff"/><stop offset=".307" stop-color="#a6a6ff"/><stop offset=".363" stop-color="#ccf"/><stop offset=".419" stop-color="#e2e2ff"/><stop offset=".499" stop-color="#f2f2ff"/><stop offset=".589" stop-color="#fafaff"/><stop offset=".709" stop-color="#fefeff"/><stop offset="1" stop-color="#fefeff"/></linearGradient>
<linearGradient id="q39"><stop offset="0" stop-color="#fffefe"/><stop offset=".003" stop-color="#fffefe"/><stop offset=".005" stop-color="#fff8f8"/><stop offset=".008" stop-color="#ffe4e4"/><stop offset=".011" stop-color="#ffbaba"/><stop offset=".013" stop-color="#ff7878"/><stop offset=".016" stop-color="#ff1e1e"/><stop offset=".019" stop-color="#f00"/><stop offset=".088" stop-color="#f00"/><stop offset=".091" stop-color="#ff1e1e"/><stop offset=".093" stop-color="#ff4a4a"/><stop offset=".099" stop-color="#ff9a9a"/><stop offset=".101" stop-color="#ffbebe"/><stop offset=".107" stop-color="#fffefe"/><stop offset=".109" stop-color="#e4e4ff"/><stop offset=".117" stop-color="#9c9cff"/><stop offset=".123" stop-color="#7676ff"/><stop offset=".128" stop-color="#5858ff"/><stop offset=".136" stop-color="#3636ff"/><stop offset=".141" stop-color="#2626ff"/><stop offset=".149" stop-color="#1616ff"/><stop offset=".157" stop-color="#0e0eff"/><stop offset=".168" stop-color="#0c0cff"/><stop offset=".181" stop-color="#1414ff"/><stop offset=".197" stop-color="#2626ff"/><stop offset=".248" stop-color="#6e6eff"/><stop offset=".28" stop-color="#9494ff"/><stop offset=".301" stop-color="#a8a8ff"/><stop offset=".355" stop-color="#ccf"/><stop offset=".411" stop-color="#e2e2ff"/><stop offset=".491" stop-color="#f2f2ff"/><stop offset=".581" stop-color="#fafaff"/><stop offset=".701" stop-color="#fefeff"/><stop offset="1" stop-color="#fefeff"/></linearGradient>
<linearGradient id="q40"><stop offset="0" stop-color="#fffefe"/><stop offset=".003" stop-color="#fff8f8"/><stop offset=".005" stop-color="#ffdede"/><stop offset=".008" stop-color="#ffa6a6"/><stop offset=".011" stop-color="#ff4848"/><stop offset=".013" stop-color="#f00"/><stop offset=".08" stop-color="#f00"/><stop offset=".083" stop-color="#ff1212"/><stop offset=".088" stop-color="#ff7070"/><stop offset=".091" stop-color="#ff9a9a"/><stop offset=".096" stop-color="#ffe4e4"/><stop offset=".099" stop-color="#fafaff"/><stop offset=".101" stop-color="#dadaff"/><stop offset=".107" stop-color="#a6a6ff"/><stop offset=".112" stop-color="#7c7cff"/><stop offset=".117" stop-color="#5858ff"/><stop offset=".12" stop-color="#4a4aff"/><stop offset=".125" stop-color="#3232ff"/><stop offset=".133" stop-color="#1818ff"/><stop offset=".141" stop-color="#0a0aff"/><stop offset=".152" stop-color="#0202ff"/><stop offset=".163" stop-color="#0404ff"/><stop offset=".181" stop-color="#1616ff"/><stop offset=".243" stop-color="#7070ff"/><stop offset=".269" stop-color="#9090ff"/><stop offset=".299" stop-color="#acacff"/><stop offset=".344" stop-color="#cacaff"/><stop offset=".411" stop-color="#e4e4ff"/><stop offset=".501" stop-color="#f4f4ff"/><stop offset=".619" stop-color="#fcfcff"/><stop offset="1" stop-color="#fefeff"/></linearGradient>
<linearGradient id="q41"><stop offset="0" stop-color="#fff8f8"/><stop offset=".003" stop-color="#ffd8d8"/><stop offset=".005" stop-color="#f88"/><stop offset=".008" stop-color="#ff0404"/><stop offset=".011" stop-color="#f00"/><stop offset=".072" stop-color="#f00"/><stop offset=".075" stop-color="#ff0808"/><stop offset=".077" stop-color="#ff3e3e"/><stop offset=".08" stop-color="#ff6e6e"/><stop offset=".083" stop-color="#ff9c9c"/><stop offset=".088" stop-color="#fee"/><stop offset=".091" stop-color="#eef"/><stop offset=".096" stop-color="#b0b0ff"/><stop offset=".099" stop-color="#9696ff"/><stop offset=".104" stop-color="#6a6aff"/><stop offset=".109" stop-color="#4646ff"/><stop offset=".12" stop-color="#1616ff"/><stop offset=".128" stop-color="#0202ff"/><stop offset=".131" stop-color="#00f"/><stop offset=".163" stop-color="#00f"/><stop offset=".243" stop-color="#7878ff"/><stop offset=".285" stop-color="#a6a6ff"/><stop offset=".333" stop-color="#c8c8ff"/><stop offset=".397" stop-color="#e2e2ff"/><stop offset=".477" stop-color="#f2f2ff"/><stop offset=".568" stop-color="#fafaff"/><stop offset=".688" stop-color="#fefeff"/><stop offset="1" stop-color="#fefeff"/></linearGradient>
<linearGradient id="q42"><stop offset="0" stop-color="#ffd6d6"/><stop offset=".003" stop-color="#ff6262"/><stop offset=".005" stop-color="#f00"/><stop offset=".067" stop-color="#f00"/><stop offset=".072" stop-color="#ff7272"/><stop offset=".077" stop-color="#ffd2d2"/><stop offset=".08" stop-color="#fffcfc"/><stop offset=".085" stop-color="#babaff"/><stop offset=".088" stop-color="#9c9cff"/><stop offset=".091" stop-color="#8080ff"/><stop offset=".096" stop-color="#5252ff"/><stop offset=".104" stop-color="#2020ff"/><stop offset=".112" stop-color="#00f"/><stop offset=".163" stop-color="#00f"/><stop offset=".197" stop-color="#3c3cff"/><stop offset=".227" stop-color="#6a6aff"/><stop offset=".253" stop-color="#8c8cff"/><stop offset=".275" stop-color="#a2a2ff"/><stop offset=".301" stop-color="#b8b8ff"/><stop offset=".331" stop-color="#cacaff"/><stop offset=".397" stop-color="#e4e4ff"/><stop offset=".488" stop-color="#f4f4ff"/><stop offset=".605" stop-color="#fcfcff"/><stop offset="1" stop-color="#fefeff"/></linearGradient>
<linearGradient id="q43"><stop offset="0" stop-color="#ff3232"/><stop offset=".003" stop-color="#f00"/><stop offset=".059" stop-color="#f00"/><stop offset=".064" stop-color="#ff7c7c"/><stop offset=".067" stop-color="#ffb4b4"/><stop offset=".069" stop-color="#ffe6e6"/><stop offset=".072" stop-color="#eaeaff"/><stop offset=".077" stop-color="#9e9eff"/><stop offset=".08" stop-color="#7e7eff"/><stop offset=".085" stop-color="#4848ff"/><stop offset=".088" stop-color="#3232ff"/><stop offset=".093" stop-color="#1010ff"/><stop offset=".096" stop-color="#0202ff"/><stop offset=".099" stop-color="#00f"/><stop offset=".163" stop-color="#0202ff"/><stop offset=".2" stop-color="#4848ff"/><stop offset=".235" stop-color="#7c7cff"/><stop offset=".267" stop-color="#a0a0ff"/><stop offset=".317" stop-color="#c6c6ff"/><stop offset=".36" stop-color="#dadaff"/><stop offset=".392" stop-color="#e4e4ff"/><stop offset=".483" stop-color="#f4f4ff"/><stop offset=".6" stop-color="#fcfcff"/><stop offset="1" stop-color="#fefeff"/></linearGradient>
<linearGradient id="q44"><stop offset="0" stop-color="#f00"/><stop offset=".051" stop-color="#f00"/><stop offset=".053" stop-color="#ff4c4c"/><stop offset=".056" stop-color="#ff9292"/><stop offset=".059" stop-color="#ffd2d2"/><stop offset=".061" stop-color="#f6f6ff"/><stop offset=".064" stop-color="#c4c4ff"/><stop offset=".067" stop-color="#9a9aff"/><stop offset=".072" stop-color="#5252ff"/><stop offset=".075" stop-color="#3636ff"/><stop offset=".08" stop-color="#0808ff"/><stop offset=".083" stop-color="#00f"/><stop offset=".16" stop-color="#0202ff"/><stop offset=".203" stop-color="#5454ff"/><stop offset=".237" stop-color="#8686ff"/><stop offset=".261" stop-color="#a0a0ff"/><stop offset=".299" stop-color="#bebeff"/><stop offset=".323" stop-color="#ccf"/><stop offset=".387" stop-color="#e4e4ff"/><stop offset=".477" stop-color="#f4f4ff"/><stop offset=".595" stop-color="#fcfcff"/><stop offset="1" stop-color="#fefeff"/></linearGradient>
<linearGradient id="q45"><stop offset="0" stop-color="#f00"/><stop offset=".04" stop-color="#f00"/><stop offset=".043" stop-color="#ff1414"/><stop offset=".045" stop-color="#ff7070"/><stop offset=".048" stop-color="#ffc0c0"/><stop offset=".051" stop-color="#fafaff"/><stop offset=".053" stop-color="#bebeff"/><stop offset=".056" stop-color="#8a8aff"/><stop offset=".059" stop-color="#5c5cff"/><stop offset=".064" stop-color="#1414ff"/><stop offset=".067" stop-color="#00f"/><stop offset=".157" stop-color="#00f"/><stop offset=".176" stop-color="#2a2aff"/><stop offset=".197" stop-color="#5252ff"/><stop offset=".216" stop-color="#7070ff"/><stop offset=".243" stop-color="#9292ff"/><stop offset=".269" stop-color="#acacff"/><stop offset=".307" stop-color="#c6c6ff"/><stop offset=".349" stop-color="#dadaff"/><stop offset=".381" stop-color="#e4e4ff"/><stop offset=".472" stop-color="#f4f4ff"/><stop offset=".592" stop-color="#fcfcff"/><stop offset="1" stop-color="#fefeff"/></linearGradient>
<linearGradient id="q46"><stop offset="0" stop-color="#f00"/><stop offset=".032" stop-color="#f00"/><stop offset=".035" stop-color="#ff5050"/><stop offset=".037" stop-color="#ffbaba"/><stop offset=".04" stop-color="#ececff"/><stop offset=".043" stop-color="#a0a0ff"/><stop offset=".045" stop-color="#6060ff"/><stop offset=".048" stop-color="#2a2aff"/><stop offset=".051" stop-color="#00f"/><stop offset=".155" stop-color="#00f"/><stop offset=".171" stop-color="#2626ff"/><stop offset=".2" stop-color="#5e5eff"/><stop offset=".219" stop-color="#7a7aff"/><stop offset=".245" stop-color="#9a9aff"/><stop offset=".277" stop-color="#b6b6ff"/><stop offset=".309" stop-color="#cacaff"/><stop offset=".384" stop-color="#e6e6ff"/><stop offset=".467" stop-color="#f4f4ff"/><stop offset=".587" stop-color="#fcfcff"/><stop offset="1" stop-color="#fefeff"/></linearGradient>
<linearGradient id="q47"><stop offset="0" stop-color="#f00"/><stop offset=".021" stop-color="#f00"/><stop offset=".024" stop-color="#ff4242"/><stop offset=".027" stop-color="#ffd6d6"/><stop offset=".029" stop-color="#b0b0ff"/><stop offset=".032" stop-color="#5050ff"/><stop offset=".035" stop-color="#0202ff"/><stop offset=".037" stop-color="#00f"/><stop offset=".152" stop-color="#00f"/><stop offset=".168" stop-color="#2828ff"/><stop offset=".195" stop-color="#5c5cff"/><stop offset=".219" stop-color="#8080ff"/><stop offset=".243" stop-color="#9c9cff"/><stop offset=".291" stop-color="#c2c2ff"/><stop offset=".325" stop-color="#d4d4ff"/><stop offset=".365" stop-color="#e2e2ff"/><stop offset=".445" stop-color="#f2f2ff"/><stop offset=".581" stop-color="#fcfcff"/><stop offset="1" stop-color="#fefeff"/></linearGradient>
<linearGradient id="q48"><stop offset="0" stop-color="#f00"/><stop offset=".011" stop-color="#f00"/><stop offset=".013" stop-color="#f88"/><stop offset=".016" stop-color="#9898ff"/><stop offset=".019" stop-color="#00f"/><stop offset=".147" stop-color="#00f"/><stop offset=".149" stop-color="#0202ff"/><stop offset=".179" stop-color="#4646ff"/><stop offset=".192" stop-color="#5e5eff"/><stop offset=".216" stop-color="#8282ff"/><stop offset=".235" stop-color="#9898ff"/><stop offset=".253" stop-color="#aaf"/><stop offset=".293" stop-color="#c6c6ff"/><stop offset=".368" stop-color="#e4e4ff"/><stop offset=".459" stop-color="#f4f4ff"/><stop offset=".579" stop-color="#fcfcff"/><stop offset="1" stop-color="#fefeff"/></linearGradient>
<linearGradient id="q49"><stop offset="0" stop-color="#ff5252"/><stop offset=".003" stop-color="#00f"/><stop offset=".144" stop-color="#00f"/><stop offset=".147" stop-color="#0202ff"/><stop offset=".152" stop-color="#1212ff"/><stop offset=".168" stop-color="#3838ff"/><stop offset=".187" stop-color="#5c5cff"/><stop offset=".213" stop-color="#8484ff"/><stop offset=".227" stop-color="#9494ff"/><stop offset=".243" stop-color="#a4a4ff"/><stop offset=".285" stop-color="#c4c4ff"/><stop offset=".317" stop-color="#d4d4ff"/><stop offset=".357" stop-color="#e2e2ff"/><stop offset=".456" stop-color="#f4f4ff"/><stop offset=".576" stop-color="#fcfcff"/><stop offset="1" stop-color="#fefeff"/></linearGradient>
<linearGradient id="q50"><stop offset="0" stop-color="#00f"/><stop offset=".141" stop-color="#00f"/><stop offset=".155" stop-color="#22f"/><stop offset=".176" stop-color="#5050ff"/><stop offset=".208" stop-color="#8282ff"/><stop offset=".227" stop-color="#9898ff"/><stop offset=".245" stop-color="#aaf"/><stop offset=".285" stop-color="#c6c6ff"/><stop offset=".355" stop-color="#e2e2ff"/><stop offset=".453" stop-color="#f4f4ff"/><stop offset=".573" stop-color="#fcfcff"/><stop offset="1" stop-color="#fefeff"/></linearGradient>
<linearGradient id="q51"><stop offset="0" stop-color="#00f"/><stop offset=".139" stop-color="#00f"/><stop offset=".149" stop-color="#1e1eff"/><stop offset=".168" stop-color="#4848ff"/><stop offset=".179" stop-color="#5c5cff"/><stop offset=".203" stop-color="#8080ff"/><stop offset=".227" stop-color="#9c9cff"/><stop offset=".285" stop-color="#c8c8ff"/><stop offset=".344" stop-color="#e0e0ff"/><stop offset=".419" stop-color="#f0f0ff"/><stop offset=".525" stop-color="#fafaff"/><stop offset=".648" stop-color="#fefeff"/><stop offset="1" stop-color="#fefeff"/></linearGradient>
<linearGradient id="q52"><stop offset="0" stop-color="#00f"/><stop offset=".133" stop-color="#00f"/><stop offset=".136" stop-color="#0404ff"/><stop offset=".147" stop-color="#22f"/><stop offset=".168" stop-color="#5050ff"/><stop offset=".2" stop-color="#8282ff"/><stop offset=".213" stop-color="#9292ff"/><stop offset=".248" stop-color="#b2b2ff"/><stop offset=".272" stop-color="#c2c2ff"/><stop offset=".341" stop-color="#e0e0ff"/><stop offset=".448" stop-color="#f4f4ff"/><stop offset=".568" stop-color="#fcfcff"/><stop offset="1" stop-color="#fefeff"/></linearGradient>
<linearGradient id="q53"><stop offset="0" stop-color="#00f"/><stop offset=".128" stop-color="#00f"/><stop offset=".155" stop-color="#3e3eff"/><stop offset=".171" stop-color="#5c5cff"/><stop offset=".195" stop-color="#8080ff"/><stop offset=".221" stop-color="#9e9eff"/><stop offset=".272" stop-color="#c4c4ff"/><stop offset=".347" stop-color="#e2e2ff"/><stop offset=".445" stop-color="#f4f4ff"/><stop offset=".568" stop-color="#fcfcff"/><stop offset="1" stop-color="#fefeff"/></linearGradient>
<linearGradient id="q54"><stop offset="0" stop-color="#00f"/><stop offset=".123" stop-color="#00f"/><stop offset=".128" stop-color="#0a0aff"/><stop offset=".141" stop-color="#2c2cff"/><stop offset=".163" stop-color="#5656ff"/><stop offset=".189" stop-color="#7e7eff"/><stop offset=".208" stop-color="#9494ff"/><stop offset=".227" stop-color="#a6a6ff"/><stop offset=".269" stop-color="#c4c4ff"/><stop offset=".344" stop-color="#e2e2ff"/><stop offset=".445" stop-color="#f4f4ff"/><stop offset=".565" stop-color="#fcfcff"/><stop offset="1" stop-color="#fefeff"/></linearGradient>
<linearGradient id="q55"><stop offset="0" stop-color="#1818ff"/><stop offset=".003" stop-color="#00f"/><stop offset=".117" stop-color="#00f"/><stop offset=".139" stop-color="#3232ff"/><stop offset=".16" stop-color="#5a5aff"/><stop offset=".187" stop-color="#8080ff"/><stop offset=".221" stop-color="#a4a4ff"/><stop offset=".253" stop-color="#bcbcff"/><stop offset=".283" stop-color="#ccf"/><stop offset=".323" stop-color="#dcdcff"/><stop offset=".376" stop-color="#eaeaff"/><stop offset=".443" stop-color="#f4f4ff"/><stop offset=".565" stop-color="#fcfcff"/><stop offset="1" stop-color="#fefeff"/></linearGradient>
<linearGradient id="q56"><stop offset="0" stop-color="#ceceff"/><stop offset=".003" stop-color="#9090ff"/><stop offset=".008" stop-color="#00f"/><stop offset=".109" stop-color="#00f"/><stop offset=".133" stop-color="#3434ff"/><stop offset=".155" stop-color="#5a5aff"/><stop offset=".176" stop-color="#7878ff"/><stop offset=".203" stop-color="#9696ff"/><stop offset=".251" stop-color="#bcbcff"/><stop offset=".272" stop-color="#c8c8ff"/><stop offset=".341" stop-color="#e2e2ff"/><stop offset=".443" stop-color="#f4f4ff"/><stop offset=".565" stop-color="#fcfcff"/><stop offset="1" stop-color="#fefeff"/></linearGradient>
<linearGradient id="q57"><stop offset="0" stop-color="#f8f8ff"/><stop offset=".003" stop-color="#e4e4ff"/><stop offset=".005" stop-color="#c6c6ff"/><stop offset=".013" stop-color="#5050ff"/><stop offset=".019" stop-color="#0c0cff"/><stop offset=".021" stop-color="#00f"/><stop offset=".099" stop-color="#00f"/><stop offset=".133" stop-color="#4242ff"/><stop offset=".16" stop-color="#6a6aff"/><stop offset=".195" stop-color="#9292ff"/><stop offset=".259" stop-color="#c2c2ff"/><stop offset=".333" stop-color="#e0e0ff"/><stop offset=".411" stop-color="#f0f0ff"/><stop offset=".52" stop-color="#fafaff"/><stop offset=".643" stop-color="#fefeff"/><stop offset="1" stop-color="#fefeff"/></linearGradient>
<linearGradient id="q58"><stop offset="0" stop-color="#fefeff"/><stop offset=".003" stop-color="#fafaff"/><stop offset=".008" stop-color="#e2e2ff"/><stop offset=".024" stop-color="#5858ff"/><stop offset=".027" stop-color="#44f"/><stop offset=".032" stop-color="#2424ff"/><stop offset=".037" stop-color="#0e0eff"/><stop offset=".043" stop-color="#00f"/><stop offset=".08" stop-color="#00f"/><stop offset=".125" stop-color="#44f"/><stop offset=".152" stop-color="#6868ff"/><stop offset=".195" stop-color="#9696ff"/><stop offset=".253" stop-color="#c0c0ff"/><stop offset=".291" stop-color="#d2d2ff"/><stop offset=".339" stop-color="#e2e2ff"/><stop offset=".443" stop-color="#f4f4ff"/><stop offset=".565" stop-color="#fcfcff"/><stop offset="1" stop-color="#fefeff"/></linearGradient>
<linearGradient id="q59"><stop offset="0" stop-color="#fefeff"/><stop offset=".005" stop-color="#fcfcff"/><stop offset=".013" stop-color="#e4e4ff"/><stop offset=".032" stop-color="#7878ff"/><stop offset=".043" stop-color="#4c4cff"/><stop offset=".053" stop-color="#3232ff"/><stop offset=".067" stop-color="#2626ff"/><stop offset=".077" stop-color="#2626ff"/><stop offset=".093" stop-color="#3030ff"/><stop offset=".171" stop-color="#8484ff"/><stop offset=".219" stop-color="#acacff"/><stop offset=".28" stop-color="#ceceff"/><stop offset=".355" stop-color="#e6e6ff"/><stop offset=".443" stop-color="#f4f4ff"/><stop offset=".565" stop-color="#fcfcff"/><stop offset="1" stop-color="#fefeff"/></linearGradient>
<linearGradient id="q60"><stop offset="0" stop-color="#fefeff"/><stop offset=".008" stop-color="#fefeff"/><stop offset=".016" stop-color="#f0f0ff"/><stop offset=".021" stop-color="#dedeff"/><stop offset=".04" stop-color="#9090ff"/><stop offset=".051" stop-color="#7070ff"/><stop offset=".061" stop-color="#5a5aff"/><stop offset=".077" stop-color="#4c4cff"/><stop offset=".093" stop-color="#4c4cff"/><stop offset=".109" stop-color="#5454ff"/><stop offset=".173" stop-color="#8c8cff"/><stop offset=".219" stop-color="#aeaeff"/><stop offset=".253" stop-color="#c2c2ff"/><stop offset=".317" stop-color="#dcdcff"/><stop offset=".355" stop-color="#e6e6ff"/><stop offset=".443" stop-color="#f4f4ff"/><stop offset=".565" stop-color="#fcfcff"/><stop offset="1" stop-color="#fefeff"/></linearGradient>
<linearGradient id="q61"><stop offset="0" stop-color="#fefeff"/><stop offset=".011" stop-color="#fefeff"/><stop offset=".019" stop-color="#f6f6ff"/><stop offset=".027" stop-color="#e4e4ff"/><stop offset=".048" stop-color="#a2a2ff"/><stop offset=".064" stop-color="#7e7eff"/><stop offset=".075" stop-color="#7070ff"/><stop offset=".093" stop-color="#66f"/><stop offset=".109" stop-color="#6868ff"/><stop offset=".128" stop-color="#7070ff"/><stop offset=".197" stop-color="#a2a2ff"/><stop offset=".264" stop-color="#c8c8ff"/><stop offset=".317" stop-color="#dcdcff"/><stop offset=".397" stop-color="#eef"/><stop offset=".464" stop-color="#f6f6ff"/><stop offset=".568" stop-color="#fcfcff"/><stop offset="1" stop-color="#fefeff"/></linearGradient>
<linearGradient id="q62"><stop offset="0" stop-color="#fefeff"/><stop offset=".016" stop-color="#fefeff"/><stop offset=".021" stop-color="#fafaff"/><stop offset=".029" stop-color="#eef"/><stop offset=".067" stop-color="#9a9aff"/><stop offset=".08" stop-color="#88f"/><stop offset=".104" stop-color="#7a7aff"/><stop offset=".136" stop-color="#8080ff"/><stop offset=".227" stop-color="#b6b6ff"/><stop offset=".277" stop-color="#ceceff"/><stop offset=".317" stop-color="#dcdcff"/><stop offset=".413" stop-color="#f0f0ff"/><stop offset=".491" stop-color="#f8f8ff"/><stop offset=".648" stop-color="#fefeff"/><stop offset="1" stop-color="#fefeff"/></linearGradient>
<linearGradient id="q63"><stop offset="0" stop-color="#fefeff"/><stop offset=".019" stop-color="#fefeff"/><stop offset=".027" stop-color="#fafaff"/><stop offset=".04" stop-color="#e8e8ff"/><stop offset=".067" stop-color="#b4b4ff"/><stop offset=".08" stop-color="#a0a0ff"/><stop offset=".101" stop-color="#8e8eff"/><stop offset=".112" stop-color="#8a8aff"/><stop offset=".133" stop-color="#8a8aff"/><stop offset=".157" stop-color="#9292ff"/><stop offset=".253" stop-color="#c4c4ff"/><stop offset=".293" stop-color="#d4d4ff"/><stop offset=".357" stop-color="#e6e6ff"/><stop offset=".429" stop-color="#f2f2ff"/><stop offset=".525" stop-color="#fafaff"/><stop offset=".648" stop-color="#fefeff"/><stop offset="1" stop-color="#fefeff"/></linearGradient>
<linearGradient id="q64"><stop offset="0" stop-color="#fefeff"/><stop offset=".024" stop-color="#fefeff"/><stop offset=".035" stop-color="#f8f8ff"/><stop offset=".048" stop-color="#e8e8ff"/><stop offset=".067" stop-color="#c8c8ff"/><stop offset=".085" stop-color="#aeaeff"/><stop offset=".109" stop-color="#9a9aff"/><stop offset=".12" stop-color="#9696ff"/><stop offset=".147" stop-color="#9696ff"/><stop offset=".168" stop-color="#9c9cff"/><stop offset=".248" stop-color="#c2c2ff"/><stop offset=".32" stop-color="#dcdcff"/><stop offset=".432" stop-color="#f2f2ff"/><stop offset=".528" stop-color="#fafaff"/><stop offset=".651" stop-color="#fefeff"/><stop offset="1" stop-color="#fefeff"/></linearGradient>
<linearGradient id="q65"><stop offset="0" stop-color="#fefeff"/><stop offset=".035" stop-color="#fcfcff"/><stop offset=".056" stop-color="#e8e8ff"/><stop offset=".083" stop-color="#c2c2ff"/><stop offset=".101" stop-color="#aeaeff"/><stop offset=".117" stop-color="#a4a4ff"/><stop offset=".139" stop-color="#9e9eff"/><stop offset=".184" stop-color="#a6a6ff"/><stop offset=".243" stop-color="#c0c0ff"/><stop offset=".328" stop-color="#dedeff"/><stop offset=".435" stop-color="#f2f2ff"/><stop offset=".531" stop-color="#fafaff"/><stop offset=".656" stop-color="#fefeff"/><stop offset="1" stop-color="#fefeff"/></linearGradient>
<linearGradient id="q66"><stop offset="0" stop-color="#fefeff"/><stop offset=".04" stop-color="#fcfcff"/><stop offset=".059" stop-color="#eef"/><stop offset=".099" stop-color="#bebeff"/><stop offset=".12" stop-color="#aeaeff"/><stop offset=".144" stop-color="#a6a6ff"/><stop offset=".165" stop-color="#a6a6ff"/><stop offset=".192" stop-color="#acacff"/><stop offset=".323" stop-color="#dcdcff"/><stop offset=".384" stop-color="#eaeaff"/><stop offset=".456" stop-color="#f4f4ff"/><stop offset=".659" stop-color="#fefeff"/><stop offset="1" stop-color="#fefeff"/></linearGradient>
<linearGradient id="q67"><stop offset="0" stop-color="#fefeff"/><stop offset=".04" stop-color="#fefeff"/><stop offset=".051" stop-color="#fafaff"/><stop offset=".064" stop-color="#f0f0ff"/><stop offset=".109" stop-color="#c0c0ff"/><stop offset=".136" stop-color="#b0b0ff"/><stop offset=".152" stop-color="#acacff"/><stop offset=".197" stop-color="#b0b0ff"/><stop offset=".28" stop-color="#ceceff"/><stop offset=".357" stop-color="#e4e4ff"/><stop offset=".459" stop-color="#f4f4ff"/><stop offset=".661" stop-color="#fefeff"/><stop offset="1" stop-color="#fefeff"/></linearGradient>
<linearGradient id="q68"><stop offset="0" stop-color="#fefeff"/><stop offset=".045" stop-color="#fefeff"/><stop offset=".056" stop-color="#fafaff"/><stop offset=".08" stop-color="#e8e8ff"/><stop offset=".099" stop-color="#d4d4ff"/><stop offset=".125" stop-color="#bebeff"/><stop offset=".147" stop-color="#b4b4ff"/><stop offset=".165" stop-color="#b0b0ff"/><stop offset=".213" stop-color="#b6b6ff"/><stop offset=".352" stop-color="#e2e2ff"/><stop offset=".485" stop-color="#f6f6ff"/><stop offset=".667" stop-color="#fefeff"/><stop offset="1" stop-color="#fefeff"/></linearGradient>
<linearGradient id="q69"><stop offset="0" stop-color="#fefeff"/><stop offset=".051" stop-color="#fefeff"/><stop offset=".061" stop-color="#fafaff"/><stop offset=".088" stop-color="#e8e8ff"/><stop offset=".104" stop-color="#d8d8ff"/><stop offset=".136" stop-color="#c0c0ff"/><stop offset=".173" stop-color="#b4b4ff"/><stop offset=".216" stop-color="#b8b8ff"/><stop offset=".317" stop-color="#d8d8ff"/><stop offset=".384" stop-color="#e8e8ff"/><stop offset=".488" stop-color="#f6f6ff"/><stop offset=".672" stop-color="#fefeff"/><stop offset="1" stop-color="#fefeff"/></linearGradient>
<linearGradient id="q70"><stop offset="0" stop-color="#fefeff"/><stop offset=".056" stop-color="#fefeff"/><stop offset=".072" stop-color="#f8f8ff"/><stop offset=".093" stop-color="#eaeaff"/><stop offset=".128" stop-color="#ccf"/><stop offset=".144" stop-color="#c2c2ff"/><stop offset=".173" stop-color="#b8b8ff"/><stop offset=".221" stop-color="#babaff"/><stop offset=".36" stop-color="#e2e2ff"/><stop offset=".493" stop-color="#f6f6ff"/><stop offset=".677" stop-color="#fefeff"/><stop offset="1" stop-color="#fefeff"/></linearGradient>
<linearGradient id="q71"><stop offset="0" stop-color="#fefeff"/><stop offset=".069" stop-color="#fcfcff"/><stop offset=".083" stop-color="#f6f6ff"/><stop offset=".141" stop-color="#cacaff"/><stop offset=".184" stop-color="#babaff"/><stop offset=".237" stop-color="#bebeff"/><stop offset=".373" stop-color="#e4e4ff"/><stop offset=".499" stop-color="#f6f6ff"/><stop offset=".683" stop-color="#fefeff"/><stop offset="1" stop-color="#fefeff"/></linearGradient>
<linearGradient id="q72"><stop offset="0" stop-color="#fefeff"/><stop offset=".075" stop-color="#fcfcff"/><stop offset=".096" stop-color="#f2f2ff"/><stop offset=".155" stop-color="#c8c8ff"/><stop offset=".192" stop-color="#bcbcff"/><stop offset=".248" stop-color="#c0c0ff"/><stop offset=".323" stop-color="#d6d6ff"/><stop offset=".411" stop-color="#eaeaff"/><stop offset=".531" stop-color="#f8f8ff"/><stop offset=".688" stop-color="#fefeff"/><stop offset="1" stop-color="#fefeff"/></linearGradient>
<linearGradient id="q73"><stop offset="0" stop-color="#fefeff"/><stop offset=".08" stop-color="#fcfcff"/><stop offset=".099" stop-color="#f4f4ff"/><stop offset=".16" stop-color="#cacaff"/><stop offset=".195" stop-color="#bebeff"/><stop offset=".251" stop-color="#c0c0ff"/><stop offset=".376" stop-color="#e2e2ff"/><stop offset=".512" stop-color="#f6f6ff"/><stop offset=".696" stop-color="#fefeff"/><stop offset="1" stop-color="#fefeff"/></linearGradient>
<linearGradient id="q74"><stop offset="0" stop-color="#fefeff"/><stop offset=".085" stop-color="#fcfcff"/><stop offset=".112" stop-color="#f0f0ff"/><stop offset=".165" stop-color="#ccf"/><stop offset=".208" stop-color="#bebeff"/><stop offset=".253" stop-color="#c0c0ff"/><stop offset=".392" stop-color="#e4e4ff"/><stop offset=".52" stop-color="#f6f6ff"/><stop offset=".704" stop-color="#fefeff"/><stop offset="1" stop-color="#fefeff"/></linearGradient>
<linearGradient id="q75"><stop offset="0" stop-color="#fefeff"/><stop offset=".091" stop-color="#fcfcff"/><stop offset=".115" stop-color="#f2f2ff"/><stop offset=".181" stop-color="#c8c8ff"/><stop offset=".221" stop-color="#bebeff"/><stop offset=".28" stop-color="#c4c4ff"/><stop offset=".349" stop-color="#d8d8ff"/><stop offset=".432" stop-color="#eaeaff"/><stop offset=".528" stop-color="#f6f6ff"/><stop offset=".712" stop-color="#fefeff"/><stop offset="1" stop-color="#fefeff"/></linearGradient>
<linearGradient id="q76"><stop offset="0" stop-color="#fefeff"/><stop offset=".096" stop-color="#fcfcff"/><stop offset=".131" stop-color="#ececff"/><stop offset=".184" stop-color="#cacaff"/><stop offset=".229" stop-color="#bebeff"/><stop offset=".288" stop-color="#c4c4ff"/><stop offset=".357" stop-color="#d8d8ff"/><stop offset=".44" stop-color="#eaeaff"/><stop offset=".536" stop-color="#f6f6ff"/><stop offset=".72" stop-color="#fefeff"/><stop offset="1" stop-color="#fefeff"/></linearGradient>
<linearGradient id="q77"><stop offset="0" stop-color="#fefeff"/><stop offset=".101" stop-color="#fcfcff"/><stop offset=".123" stop-color="#f4f4ff"/><stop offset=".187" stop-color="#ccf"/><stop offset=".205" stop-color="#c4c4ff"/><stop offset=".235" stop-color="#bebeff"/><stop offset=".275" stop-color="#c0c0ff"/><stop offset=".408" stop-color="#e2e2ff"/><stop offset=".544" stop-color="#f6f6ff"/><stop offset=".728" stop-color="#fefeff"/><stop offset="1" stop-color="#fefeff"/></linearGradient>
<linearGradient id="q78"><stop offset="0" stop-color="#fefeff"/><stop offset=".107" stop-color="#fcfcff"/><stop offset=".136" stop-color="#f0f0ff"/><stop offset=".197" stop-color="#cacaff"/><stop offset=".237" stop-color="#bebeff"/><stop offset=".288" stop-color="#c0c0ff"/><stop offset=".437" stop-color="#e6e6ff"/><stop offset=".555" stop-color="#f6f6ff"/><stop offset=".739" stop-color="#fefeff"/><stop offset="1" stop-color="#fefeff"/></linearGradient>
<linearGradient id="q79"><stop offset="0" stop-color="#fefeff"/><stop offset=".112" stop-color="#fcfcff"/><stop offset=".141" stop-color="#f0f0ff"/><stop offset=".203" stop-color="#cacaff"/><stop offset=".229" stop-color="#c0c0ff"/><stop offset=".253" stop-color="#bcbcff"/><stop offset=".32" stop-color="#c4c4ff"/><stop offset=".459" stop-color="#e8e8ff"/><stop offset=".565" stop-color="#f6f6ff"/><stop offset=".749" stop-color="#fefeff"/><stop offset="1" stop-color="#fefeff"/></linearGradient>
<linearGradient id="q80"><stop offset="0" stop-color="#fefeff"/><stop offset=".107" stop-color="#fefeff"/><stop offset=".123" stop-color="#fafaff"/><stop offset=".147" stop-color="#f0f0ff"/><stop offset=".216" stop-color="#c6c6ff"/><stop offset=".248" stop-color="#bcbcff"/><stop offset=".307" stop-color="#bebeff"/><stop offset=".451" stop-color="#e4e4ff"/><stop offset=".579" stop-color="#f6f6ff"/><stop offset=".763" stop-color="#fefeff"/><stop offset="1" stop-color="#fefeff"/></linearGradient>
<linearGradient id="q81"><stop offset="0" stop-color="#fefeff"/><stop offset=".109" stop-color="#fefeff"/><stop offset=".128" stop-color="#fafaff"/><stop offset=".152" stop-color="#f0f0ff"/><stop offset=".224" stop-color="#c4c4ff"/><stop offset=".256" stop-color="#babaff"/><stop offset=".315" stop-color="#bcbcff"/><stop offset=".464" stop-color="#e4e4ff"/><stop offset=".592" stop-color="#f6f6ff"/><stop offset=".776" stop-color="#fefeff"/><stop offset="1" stop-color="#fefeff"/></linearGradient>
<linearGradient id="q82"><stop offset="0" stop-color="#fefeff"/><stop offset=".115" stop-color="#fefeff"/><stop offset=".133" stop-color="#fafaff"/><stop offset=".168" stop-color="#eaeaff"/><stop offset=".232" stop-color="#c2c2ff"/><stop offset=".277" stop-color="#b6b6ff"/><stop offset=".325" stop-color="#babaff"/><stop offset=".469" stop-color="#e2e2ff"/><stop offset=".584" stop-color="#f4f4ff"/><stop offset=".789" stop-color="#fefeff"/><stop offset="1" stop-color="#fefeff"/></linearGradient>
<linearGradient id="q83"><stop offset="0" stop-color="#fefeff"/><stop offset=".12" stop-color="#fefeff"/><stop offset=".139" stop-color="#fafaff"/><stop offset=".173" stop-color="#eaeaff"/><stop offset=".227" stop-color="#c6c6ff"/><stop offset=".259" stop-color="#b8b8ff"/><stop offset=".277" stop-color="#b4b4ff"/><stop offset=".339" stop-color="#b8b8ff"/><stop offset=".493" stop-color="#e4e4ff"/><stop offset=".6" stop-color="#f4f4ff"/><stop offset=".805" stop-color="#fefeff"/><stop offset="1" stop-color="#fefeff"/></linearGradient>
<linearGradient id="q84"><stop offset="0" stop-color="#fefeff"/><stop offset=".125" stop-color="#fefeff"/><stop offset=".144" stop-color="#fafaff"/><stop offset=".179" stop-color="#eaeaff"/><stop offset=".237" stop-color="#c2c2ff"/><stop offset=".269" stop-color="#b4b4ff"/><stop offset=".288" stop-color="#b0b0ff"/><stop offset=".344" stop-color="#b4b4ff"/><stop offset=".493" stop-color="#e0e0ff"/><stop offset=".597" stop-color="#f2f2ff"/><stop offset=".747" stop-color="#fcfcff"/><stop offset="1" stop-color="#fefeff"/></linearGradient>
<linearGradient id="q85"><stop offset="0" stop-color="#fefeff"/><stop offset=".131" stop-color="#fefeff"/><stop offset=".149" stop-color="#fafaff"/><stop offset=".184" stop-color="#eaeaff"/><stop offset=".251" stop-color="#bcbcff"/><stop offset=".296" stop-color="#acacff"/><stop offset=".347" stop-color="#aeaeff"/><stop offset=".504" stop-color="#dedeff"/><stop offset=".619" stop-color="#f2f2ff"/><stop offset=".768" stop-color="#fcfcff"/><stop offset="1" stop-color="#fefeff"/></linearGradient>
<linearGradient id="q86"><stop offset="0" stop-color="#fefeff"/><stop offset=".136" stop-color="#fefeff"/><stop offset=".155" stop-color="#fafaff"/><stop offset=".192" stop-color="#e8e8ff"/><stop offset=".259" stop-color="#b8b8ff"/><stop offset=".291" stop-color="#aaf"/><stop offset=".312" stop-color="#a6a6ff"/><stop offset=".363" stop-color="#aaf"/><stop offset=".496" stop-color="#d6d6ff"/><stop offset=".552" stop-color="#e4e4ff"/><stop offset=".624" stop-color="#f0f0ff"/><stop offset=".797" stop-color="#fcfcff"/><stop offset="1" stop-color="#fefeff"/></linearGradient>
<linearGradient id="q87"><stop offset="0" stop-color="#fefeff"/><stop offset=".141" stop-color="#fefeff"/><stop offset=".16" stop-color="#fafaff"/><stop offset=".197" stop-color="#e8e8ff"/><stop offset=".269" stop-color="#b2b2ff"/><stop offset=".317" stop-color="#a0a0ff"/><stop offset=".365" stop-color="#a2a2ff"/><stop offset=".528" stop-color="#d8d8ff"/><stop offset=".637" stop-color="#eef"/><stop offset=".781" stop-color="#fafaff"/><stop offset="1" stop-color="#fefeff"/></linearGradient>
<linearGradient id="q88"><stop offset="0" stop-color="#fefeff"/><stop offset=".144" stop-color="#fefeff"/><stop offset=".165" stop-color="#fafaff"/><stop offset=".205" stop-color="#e6e6ff"/><stop offset=".259" stop-color="#babaff"/><stop offset=".285" stop-color="#a8a8ff"/><stop offset=".331" stop-color="#9898ff"/><stop offset=".363" stop-color="#9898ff"/><stop offset=".4" stop-color="#a0a0ff"/><stop offset=".557" stop-color="#d8d8ff"/><stop offset=".656" stop-color="#ececff"/><stop offset=".789" stop-color="#f8f8ff"/><stop offset="1" stop-color="#fcfcff"/></linearGradient>
<linearGradient id="q89"><stop offset="0" stop-color="#fefeff"/><stop offset=".149" stop-color="#fefeff"/><stop offset=".171" stop-color="#fafaff"/><stop offset=".195" stop-color="#f0f0ff"/><stop offset=".293" stop-color="#a2a2ff"/><stop offset=".328" stop-color="#9292ff"/><stop offset=".349" stop-color="#8e8eff"/><stop offset=".403" stop-color="#9494ff"/><stop offset=".552" stop-color="#ccf"/><stop offset=".659" stop-color="#e6e6ff"/><stop offset=".787" stop-color="#f4f4ff"/><stop offset="1" stop-color="#fafaff"/></linearGradient>
<linearGradient id="q90"><stop offset="0" stop-color="#fefeff"/><stop offset=".155" stop-color="#fefeff"/><stop offset=".176" stop-color="#fafaff"/><stop offset=".2" stop-color="#f0f0ff"/><stop offset=".235" stop-color="#d6d6ff"/><stop offset=".28" stop-color="#acacff"/><stop offset=".309" stop-color="#9696ff"/><stop offset=".344" stop-color="#8686ff"/><stop offset=".371" stop-color="#8282ff"/><stop offset=".421" stop-color="#8a8aff"/><stop offset=".563" stop-color="#c2c2ff"/><stop offset=".632" stop-color="#d6d6ff"/><stop offset=".691" stop-color="#e2e2ff"/><stop offset=".821" stop-color="#f0f0ff"/><stop offset="1" stop-color="#f6f6ff"/></linearGradient>
<linearGradient id="q91"><stop offset="0" stop-color="#fefeff"/><stop offset=".16" stop-color="#fefeff"/><stop offset=".181" stop-color="#fafaff"/><stop offset=".205" stop-color="#f0f0ff"/><stop offset=".243" stop-color="#d4d4ff"/><stop offset=".288" stop-color="#a6a6ff"/><stop offset=".325" stop-color="#88f"/><stop offset=".36" stop-color="#7878ff"/><stop offset=".384" stop-color="#7474ff"/><stop offset=".413" stop-color="#7676ff"/><stop offset=".445" stop-color="#7e7eff"/><stop offset=".597" stop-color="#bcbcff"/><stop offset=".696" stop-color="#d6d6ff"/><stop offset=".845" stop-color="#e8e8ff"/><stop offset="1" stop-color="#ececff"/></linearGradient>
<linearGradient id="q92"><stop offset="0" stop-color="#fefeff"/><stop offset=".165" stop-color="#fefeff"/><stop offset=".203" stop-color="#f4f4ff"/><stop offset=".227" stop-color="#e6e6ff"/><stop offset=".245" stop-color="#d6d6ff"/><stop offset=".296" stop-color="#a0a0ff"/><stop offset=".328" stop-color="#8282ff"/><stop offset=".363" stop-color="#6c6cff"/><stop offset=".389" stop-color="#6464ff"/><stop offset=".429" stop-color="#6464ff"/><stop offset=".456" stop-color="#6a6aff"/><stop offset=".624" stop-color="#aeaeff"/><stop offset=".723" stop-color="#c8c8ff"/><stop offset=".84" stop-color="#d8d8ff"/><stop offset="1" stop-color="#e0e0ff"/></linearGradient>
<linearGradient id="q93"><stop offset="0" stop-color="#fefeff"/><stop offset=".173" stop-color="#fefeff"/><stop offset=".213" stop-color="#f2f2ff"/><stop offset=".251" stop-color="#d6d6ff"/><stop offset=".325" stop-color="#8282ff"/><stop offset=".347" stop-color="#6e6eff"/><stop offset=".384" stop-color="#5656ff"/><stop offset=".427" stop-color="#4c4cff"/><stop offset=".453" stop-color="#4e4eff"/><stop offset=".485" stop-color="#5656ff"/><stop offset=".651" stop-color="#9898ff"/><stop offset=".731" stop-color="#aeaeff"/><stop offset=".867" stop-color="#c2c2ff"/><stop offset="1" stop-color="#c8c8ff"/></linearGradient>
<linearGradient id="q94"><stop offset="0" stop-color="#fefeff"/><stop offset=".179" stop-color="#fefeff"/><stop offset=".211" stop-color="#f6f6ff"/><stop offset=".227" stop-color="#eef"/><stop offset=".259" stop-color="#d4d4ff"/><stop offset=".285" stop-color="#b6b6ff"/><stop offset=".331" stop-color="#7c7cff"/><stop offset=".376" stop-color="#4e4eff"/><stop offset=".413" stop-color="#3838ff"/><stop offset=".451" stop-color="#3030ff"/><stop offset=".48" stop-color="#3232ff"/><stop offset=".515" stop-color="#3a3aff"/><stop offset=".667" stop-color="#7474ff"/><stop offset=".755" stop-color="#8c8cff"/><stop offset=".872" stop-color="#9e9eff"/><stop offset="1" stop-color="#a6a6ff"/></linearGradient>
<linearGradient id="q95"><stop offset="0" stop-color="#fefeff"/><stop offset=".184" stop-color="#fefeff"/><stop offset=".205" stop-color="#fafaff"/><stop offset=".229" stop-color="#f0f0ff"/><stop offset=".259" stop-color="#dadaff"/><stop offset=".283" stop-color="#c0c0ff"/><stop offset=".355" stop-color="#5e5eff"/><stop offset=".387" stop-color="#3a3aff"/><stop offset=".416" stop-color="#22f"/><stop offset=".464" stop-color="#0e0eff"/><stop offset=".499" stop-color="#0c0cff"/><stop offset=".528" stop-color="#1010ff"/><stop offset=".579" stop-color="#1e1eff"/><stop offset=".68" stop-color="#4242ff"/><stop offset=".771" stop-color="#5a5aff"/><stop offset=".872" stop-color="#6a6aff"/><stop offset="1" stop-color="#7474ff"/></linearGradient>
<linearGradient id="q96"><stop offset="0" stop-color="#fefeff"/><stop offset=".189" stop-color="#fefeff"/><stop offset=".219" stop-color="#f8f8ff"/><stop offset=".24" stop-color="#eef"/><stop offset=".261" stop-color="#dedeff"/><stop offset=".285" stop-color="#c4c4ff"/><stop offset=".307" stop-color="#a8a8ff"/><stop offset=".387" stop-color="#3232ff"/><stop offset=".411" stop-color="#1616ff"/><stop offset=".435" stop-color="#00f"/><stop offset=".693" stop-color="#00f"/><stop offset=".733" stop-color="#0c0cff"/><stop offset=".824" stop-color="#1e1eff"/><stop offset=".925" stop-color="#2a2aff"/><stop offset="1" stop-color="#2e2eff"/></linearGradient>
<linearGradient id="q97"><stop offset="0" stop-color="#fefeff"/><stop offset=".197" stop-color="#fefeff"/><stop offset=".219" stop-color="#fafaff"/><stop offset=".251" stop-color="#ececff"/><stop offset=".275" stop-color="#d8d8ff"/><stop offset=".299" stop-color="#bcbcff"/><stop offset=".336" stop-color="#8484ff"/><stop offset=".376" stop-color="#4040ff"/><stop offset=".416" stop-color="#0404ff"/><stop offset=".421" stop-color="#00f"/><stop offset="1" stop-color="#00f"/></linearGradient>
<linearGradient id="q98"><stop offset="0" stop-color="#fefeff"/><stop offset=".205" stop-color="#fefeff"/><stop offset=".227" stop-color="#fafaff"/><stop offset=".261" stop-color="#eaeaff"/><stop offset=".293" stop-color="#ccf"/><stop offset=".325" stop-color="#a0a0ff"/><stop offset=".416" stop-color="#00f"/><stop offset="1" stop-color="#00f"/></linearGradient>
<linearGradient id="q99"><stop offset="0" stop-color="#fefeff"/><stop offset=".211" stop-color="#fefeff"/><stop offset=".235" stop-color="#fafaff"/><stop offset=".267" stop-color="#ececff"/><stop offset=".299" stop-color="#d0d0ff"/><stop offset=".336" stop-color="#9c9cff"/><stop offset=".379" stop-color="#4e4eff"/><stop offset=".419" stop-color="#00f"/><stop offset="1" stop-color="#00f"/></linearGradient>
<linearGradient id="q100"><stop offset="0" stop-color="#fefeff"/><stop offset=".219" stop-color="#fefeff"/><stop offset=".243" stop-color="#fafaff"/><stop offset=".272" stop-color="#eef"/><stop offset=".296" stop-color="#dcdcff"/><stop offset=".309" stop-color="#ceceff"/><stop offset=".323" stop-color="#bebeff"/><stop offset=".347" stop-color="#9a9aff"/><stop offset=".381" stop-color="#5a5aff"/><stop offset=".421" stop-color="#0606ff"/><stop offset=".427" stop-color="#00f"/><stop offset="1" stop-color="#00f"/></linearGradient>
<linearGradient id="q101"><stop offset="0" stop-color="#fefeff"/><stop offset=".227" stop-color="#fefeff"/><stop offset=".259" stop-color="#f8f8ff"/><stop offset=".285" stop-color="#ececff"/><stop offset=".307" stop-color="#dcdcff"/><stop offset=".325" stop-color="#c8c8ff"/><stop offset=".36" stop-color="#9696ff"/><stop offset=".397" stop-color="#5050ff"/><stop offset=".435" stop-color="#00f"/><stop offset="1" stop-color="#00f"/></linearGradient>
<linearGradient id="q102"><stop offset="0" stop-color="#fefeff"/><stop offset=".237" stop-color="#fefeff"/><stop offset=".269" stop-color="#f8f8ff"/><stop offset=".296" stop-color="#ececff"/><stop offset=".331" stop-color="#d0d0ff"/><stop offset=".352" stop-color="#b6b6ff"/><stop offset=".373" stop-color="#9696ff"/><stop offset=".405" stop-color="#5c5cff"/><stop offset=".448" stop-color="#0202ff"/><stop offset=".451" stop-color="#00f"/><stop offset="1" stop-color="#00f"/></linearGradient>
<linearGradient id="q103"><stop offset="0" stop-color="#fefeff"/><stop offset=".245" stop-color="#fefeff"/><stop offset=".272" stop-color="#fafaff"/><stop offset=".301" stop-color="#f0f0ff"/><stop offset=".336" stop-color="#d8d8ff"/><stop offset=".365" stop-color="#b8b8ff"/><stop offset=".4" stop-color="#8484ff"/><stop offset=".416" stop-color="#6868ff"/><stop offset=".469" stop-color="#00f"/><stop offset="1" stop-color="#00f"/></linearGradient>
<linearGradient id="q104"><stop offset="0" stop-color="#fefeff"/><stop offset=".256" stop-color="#fefeff"/><stop offset=".291" stop-color="#f8f8ff"/><stop offset=".317" stop-color="#eef"/><stop offset=".363" stop-color="#ccf"/><stop offset=".403" stop-color="#9a9aff"/><stop offset=".448" stop-color="#4e4eff"/><stop offset=".488" stop-color="#00f"/><stop offset="1" stop-color="#00f"/></linearGradient>
<linearGradient id="q105"><stop offset="0" stop-color="#fefeff"/><stop offset=".267" stop-color="#fefeff"/><stop offset=".309" stop-color="#f6f6ff"/><stop offset=".333" stop-color="#ececff"/><stop offset=".368" stop-color="#d4d4ff"/><stop offset=".411" stop-color="#a4a4ff"/><stop offset=".461" stop-color="#5454ff"/><stop offset=".507" stop-color="#00f"/><stop offset="1" stop-color="#00f"/></linearGradient>
<linearGradient id="q106"><stop offset="0" stop-color="#fefeff"/><stop offset=".277" stop-color="#fefeff"/><stop offset=".32" stop-color="#f6f6ff"/><stop offset=".341" stop-color="#eef"/><stop offset=".368" stop-color="#dedeff"/><stop offset=".389" stop-color="#ccf"/><stop offset=".424" stop-color="#a4a4ff"/><stop offset=".467" stop-color="#6464ff"/><stop offset=".52" stop-color="#0202ff"/><stop offset=".523" stop-color="#00f"/><stop offset="1" stop-color="#00f"/></linearGradient>
<linearGradient id="q107"><stop offset="0" stop-color="#fefeff"/><stop offset=".285" stop-color="#fefeff"/><stop offset=".315" stop-color="#fafaff"/><stop offset=".347" stop-color="#f0f0ff"/><stop offset=".387" stop-color="#d8d8ff"/><stop offset=".416" stop-color="#bcbcff"/><stop offset=".437" stop-color="#a2a2ff"/><stop offset=".48" stop-color="#6262ff"/><stop offset=".531" stop-color="#0606ff"/><stop offset=".536" stop-color="#00f"/><stop offset="1" stop-color="#00f"/></linearGradient>
<linearGradient id="q108"><stop offset="0" stop-color="#fefeff"/><stop offset=".293" stop-color="#fefeff"/><stop offset=".323" stop-color="#fafaff"/><stop offset=".36" stop-color="#eef"/><stop offset=".405" stop-color="#d0d0ff"/><stop offset=".445" stop-color="#a4a4ff"/><stop offset=".493" stop-color="#5c5cff"/><stop offset=".544" stop-color="#00f"/><stop offset="1" stop-color="#00f"/></linearGradient>
<linearGradient id="q109"><stop offset="0" stop-color="#fefeff"/><stop offset=".299" stop-color="#fefeff"/><stop offset=".344" stop-color="#f6f6ff"/><stop offset=".371" stop-color="#ececff"/><stop offset=".416" stop-color="#ccf"/><stop offset=".451" stop-color="#a6a6ff"/><stop offset=".488" stop-color="#7070ff"/><stop offset=".552" stop-color="#00f"/><stop offset="1" stop-color="#00f"/></linearGradient>
<linearGradient id="q110"><stop offset="0" stop-color="#fefeff"/><stop offset=".304" stop-color="#fefeff"/><stop offset=".341" stop-color="#f8f8ff"/><stop offset=".371" stop-color="#eef"/><stop offset=".413" stop-color="#d2d2ff"/><stop offset=".456" stop-color="#a4a4ff"/><stop offset=".504" stop-color="#5c5cff"/><stop offset=".555" stop-color="#00f"/><stop offset="1" stop-color="#00f"/></linearGradient>
<linearGradient id="q111"><stop offset="0" stop-color="#fefeff"/><stop offset=".304" stop-color="#fefeff"/><stop offset=".333" stop-color="#fafaff"/><stop offset=".371" stop-color="#eef"/><stop offset=".387" stop-color="#e6e6ff"/><stop offset=".419" stop-color="#ceceff"/><stop offset=".451" stop-color="#acacff"/><stop offset=".501" stop-color="#6262ff"/><stop offset=".555" stop-color="#0202ff"/><stop offset=".557" stop-color="#00f"/><stop offset="1" stop-color="#00f"/></linearGradient>
<linearGradient id="q112"><stop offset="0" stop-color="#fefeff"/><stop offset=".304" stop-color="#fefeff"/><stop offset=".333" stop-color="#fafaff"/><stop offset=".371" stop-color="#eef"/><stop offset=".387" stop-color="#e6e6ff"/><stop offset=".419" stop-color="#ceceff"/><stop offset=".451" stop-color="#acacff"/><stop offset=".501" stop-color="#6262ff"/><stop offset=".555" stop-color="#0202ff"/><stop offset=".557" stop-color="#00f"/><stop offset="1" stop-color="#00f"/></linearGradient>
<linearGradient id="q113"><stop offset="0" stop-color="#fefeff"/><stop offset=".304" stop-color="#fefeff"/><stop offset=".333" stop-color="#fafaff"/><stop offset=".371" stop-color="#eef"/><stop offset=".387" stop-color="#e6e6ff"/><stop offset=".419" stop-color="#ceceff"/><stop offset=".451" stop-color="#acacff"/><stop offset=".501" stop-color="#6262ff"/><stop offset=".555" stop-color="#0202ff"/><stop offset=".557" stop-color="#00f"/><stop offset="1" stop-color="#00f"/></linearGradient>
<filter id="vb" x="0" y="-0.02" width="1" height="1.04" color-interpolation-filters="sRGB"><feGaussianBlur stdDeviation="0 0.9"/></filter>
<linearGradient id="cbg" gradientUnits="objectBoundingBox" x1="0" y1="0.0455" x2="0" y2="0.9545"><stop offset="0%" stop-color="#0000ff"/><stop offset="5%" stop-color="#1818ff"/><stop offset="10%" stop-color="#3232ff"/><stop offset="15%" stop-color="#4c4cff"/><stop offset="20%" stop-color="#6666ff"/><stop offset="25%" stop-color="#7e7eff"/><stop offset="30%" stop-color="#9898ff"/><stop offset="35%" stop-color="#b2b2ff"/><stop offset="40%" stop-color="#ccccff"/><stop offset="45%" stop-color="#e6e6ff"/><stop offset="50%" stop-color="#fefeff"/><stop offset="55%" stop-color="#ffe6e6"/><stop offset="60%" stop-color="#ffcccc"/><stop offset="65%" stop-color="#ffb2b2"/><stop offset="70%" stop-color="#ff9898"/><stop offset="75%" stop-color="#ff8080"/><stop offset="80%" stop-color="#ff6666"/><stop offset="85%" stop-color="#ff4c4c"/><stop offset="90%" stop-color="#ff3232"/><stop offset="95%" stop-color="#ff1818"/><stop offset="100%" stop-color="#ff0000"/></linearGradient>
<clipPath id="cp1048"><rect x="1048.5" y="10.5" width="374.1" height="217.8"/></clipPath>
<clipPath id="cp1637"><rect x="1637.6" y="10.5" width="374.1" height="217.8"/></clipPath>
<clipPath id="cq1048"><rect x="1048.5" y="285.7" width="374.1" height="217.8"/></clipPath>
<clipPath id="cq1637"><rect x="1637.6" y="285.7" width="374.1" height="217.8"/></clipPath>
</defs>
<g shape-rendering="crispEdges"><rect x="195.8" y="75.84" width="10.87" height="2.72" fill="#ff3838"/><rect x="206.67" y="75.84" width="2.72" height="2.72" fill="#ff8080"/><rect x="209.39" y="75.84" width="2.72" height="2.72" fill="#ffc0c0"/><rect x="190.36" y="78.56" width="24.46" height="2.72" fill="#f00"/><rect x="182.21" y="81.28" width="32.62" height="2.72" fill="#f00"/><rect x="217.55" y="81.28" width="2.72" height="2.72" fill="#b0b0ff"/><rect x="220.26" y="81.28" width="2.72" height="2.72" fill="#8c8cff"/><rect x="222.98" y="81.28" width="2.72" height="2.72" fill="#b0b0ff"/><rect x="179.49" y="84.01" width="35.34" height="2.72" fill="#f00"/><rect x="217.55" y="84.01" width="10.87" height="2.72" fill="#00f"/><rect x="214.83" y="84.01" width="2.72" height="2.72" fill="#e8e0ff"/><rect x="176.77" y="86.73" width="38.05" height="2.72" fill="#f00"/><rect x="214.83" y="86.73" width="16.31" height="2.72" fill="#00f"/><rect x="176.77" y="89.45" width="38.05" height="2.72" fill="#f00"/><rect x="214.83" y="89.45" width="19.03" height="2.72" fill="#00f"/><rect x="174.05" y="92.18" width="40.77" height="2.72" fill="#f00"/><rect x="214.83" y="92.18" width="21.75" height="2.72" fill="#00f"/><rect x="174.05" y="94.9" width="40.77" height="2.72" fill="#f00"/><rect x="214.83" y="94.9" width="24.46" height="2.72" fill="#00f"/><rect x="171.34" y="97.62" width="40.77" height="2.72" fill="#f00"/><rect x="212.11" y="97.62" width="29.9" height="2.72" fill="#00f"/><rect x="171.34" y="100.34" width="40.77" height="2.72" fill="#f00"/><rect x="212.11" y="100.34" width="29.9" height="2.72" fill="#00f"/><rect x="171.34" y="103.06" width="40.77" height="2.72" fill="#f00"/><rect x="212.11" y="103.06" width="32.62" height="2.72" fill="#00f"/><rect x="171.34" y="105.79" width="40.77" height="2.72" fill="#f00"/><rect x="212.11" y="105.79" width="32.62" height="2.72" fill="#00f"/><rect x="171.34" y="108.51" width="40.77" height="2.72" fill="#f00"/><rect x="212.11" y="108.51" width="35.34" height="2.72" fill="#00f"/><rect x="171.34" y="111.23" width="40.77" height="2.72" fill="#f00"/><rect x="212.11" y="111.23" width="35.34" height="2.72" fill="#00f"/><rect x="168.62" y="111.23" width="2.72" height="2.72" fill="#ff7070"/><rect x="171.34" y="113.96" width="38.05" height="2.72" fill="#f00"/><rect x="209.39" y="113.96" width="38.05" height="2.72" fill="#00f"/><rect x="171.34" y="116.68" width="38.05" height="2.72" fill="#f00"/><rect x="209.39" y="116.68" width="40.77" height="2.72" fill="#00f"/><rect x="247.45" y="116.68" width="2.72" height="2.72" fill="#3030ff"/><rect x="171.34" y="119.4" width="38.05" height="2.72" fill="#f00"/><rect x="209.39" y="119.4" width="40.77" height="2.72" fill="#00f"/><rect x="171.34" y="122.12" width="38.05" height="2.72" fill="#f00"/><rect x="209.39" y="122.12" width="40.77" height="2.72" fill="#00f"/><rect x="174.05" y="124.84" width="35.34" height="2.72" fill="#f00"/><rect x="209.39" y="124.84" width="40.77" height="2.72" fill="#00f"/><rect x="171.34" y="124.84" width="2.72" height="2.72" fill="#ff6060"/><rect x="174.05" y="127.57" width="32.62" height="2.72" fill="#f00"/><rect x="206.67" y="127.57" width="43.49" height="2.72" fill="#00f"/><rect x="174.05" y="130.29" width="32.62" height="2.72" fill="#f00"/><rect x="206.67" y="130.29" width="43.49" height="2.72" fill="#00f"/><rect x="176.77" y="133.01" width="29.9" height="2.72" fill="#f00"/><rect x="206.67" y="133.01" width="43.49" height="2.72" fill="#00f"/><rect x="174.05" y="133.01" width="2.72" height="2.72" fill="#ff7070"/><rect x="247.45" y="133.01" width="2.72" height="2.72" fill="#3030ff"/><rect x="176.77" y="135.74" width="29.9" height="2.72" fill="#f00"/><rect x="206.67" y="135.74" width="40.77" height="2.72" fill="#00f"/><rect x="179.49" y="138.46" width="27.18" height="2.72" fill="#f00"/><rect x="206.67" y="138.46" width="40.77" height="2.72" fill="#00f"/><rect x="182.21" y="141.18" width="21.75" height="2.72" fill="#f00"/><rect x="203.95" y="141.18" width="43.49" height="2.72" fill="#00f"/><rect x="179.49" y="141.18" width="2.72" height="2.72" fill="#ff7070"/><rect x="244.73" y="141.18" width="2.72" height="2.72" fill="#4040ff"/><rect x="182.21" y="143.9" width="21.75" height="2.72" fill="#f00"/><rect x="203.95" y="143.9" width="40.77" height="2.72" fill="#00f"/><rect x="184.93" y="146.62" width="19.03" height="2.72" fill="#f00"/><rect x="203.95" y="146.62" width="38.05" height="2.72" fill="#00f"/><rect x="242.01" y="146.62" width="2.72" height="2.72" fill="#a0a0ff"/><rect x="187.65" y="149.35" width="13.59" height="2.72" fill="#f00"/><rect x="203.95" y="149.35" width="35.34" height="2.72" fill="#00f"/><rect x="201.24" y="149.35" width="2.72" height="2.72" fill="#ff9090"/><rect x="239.29" y="149.35" width="2.72" height="2.72" fill="#8080ff"/><rect x="203.95" y="152.07" width="32.62" height="2.72" fill="#00f"/><rect x="193.08" y="152.07" width="2.72" height="2.72" fill="#ffa0a0"/><rect x="195.8" y="152.07" width="2.72" height="2.72" fill="#ff8080"/><rect x="198.52" y="152.07" width="2.72" height="2.72" fill="#ffa0a0"/><rect x="201.24" y="152.07" width="2.72" height="2.72" fill="#ffe0e0"/><rect x="206.67" y="154.79" width="27.18" height="2.72" fill="#00f"/><rect x="203.95" y="154.79" width="2.72" height="2.72" fill="#a0a0ff"/><rect x="203.95" y="157.52" width="2.72" height="2.72" fill="#d0d0ff"/><rect x="206.67" y="157.52" width="2.72" height="2.72" fill="#9090ff"/><rect x="209.39" y="157.52" width="2.72" height="2.72" fill="#8080ff"/><rect x="212.11" y="157.52" width="2.72" height="2.72" fill="#8080ff"/><rect x="214.83" y="157.52" width="2.72" height="2.72" fill="#8080ff"/><rect x="217.55" y="157.52" width="2.72" height="2.72" fill="#8080ff"/><rect x="220.26" y="157.52" width="2.72" height="2.72" fill="#8080ff"/><rect x="222.98" y="157.52" width="2.72" height="2.72" fill="#9090ff"/><rect x="225.7" y="157.52" width="2.72" height="2.72" fill="#b0b0ff"/></g>
<path class="tk" d="M103.38 228.3v-11.7M103.38 10.5v11.7M239.29 228.3v-11.7M239.29 10.5v11.7M375.2 228.3v-11.7M375.2 10.5v11.7M76.2 228.3v-6.7M76.2 10.5v6.7M130.56 228.3v-6.7M130.56 10.5v6.7M157.75 228.3v-6.7M157.75 10.5v6.7M184.93 228.3v-6.7M184.93 10.5v6.7M212.11 228.3v-6.7M212.11 10.5v6.7M266.47 228.3v-6.7M266.47 10.5v6.7M293.65 228.3v-6.7M293.65 10.5v6.7M320.84 228.3v-6.7M320.84 10.5v6.7M348.02 228.3v-6.7M348.02 10.5v6.7M76.2 228.3h11.7M375.2 228.3h-11.7M76.2 173.85h11.7M375.2 173.85h-11.7M76.2 119.4h11.7M375.2 119.4h-11.7M76.2 64.95h11.7M375.2 64.95h-11.7M76.2 10.5h11.7M375.2 10.5h-11.7M76.2 214.69h6.7M375.2 214.69h-6.7M76.2 201.08h6.7M375.2 201.08h-6.7M76.2 187.46h6.7M375.2 187.46h-6.7M76.2 160.24h6.7M375.2 160.24h-6.7M76.2 146.62h6.7M375.2 146.62h-6.7M76.2 133.01h6.7M375.2 133.01h-6.7M76.2 105.79h6.7M375.2 105.79h-6.7M76.2 92.18h6.7M375.2 92.18h-6.7M76.2 78.56h6.7M375.2 78.56h-6.7M76.2 51.34h6.7M375.2 51.34h-6.7M76.2 37.72h6.7M375.2 37.72h-6.7M76.2 24.11h6.7M375.2 24.11h-6.7"/>
<path class="dk" d="M76.2 119.4L375.2 119.4"/>
<rect class="sp" x="76.2" y="10.5" width="299" height="217.8"/>
<text class="t" x="103.38" y="250.6" text-anchor="middle">50</text>
<text class="t" x="239.29" y="250.6" text-anchor="middle">100</text>
<text class="t" x="375.2" y="250.6" text-anchor="middle">150</text>
<text class="t" x="69" y="235.4" text-anchor="end">−40</text>
<text class="t" x="69" y="180.95" text-anchor="end">−20</text>
<text class="t" x="69" y="126.5" text-anchor="end">0</text>
<text class="t" x="69" y="72.05" text-anchor="end">20</text>
<text class="t" x="69" y="17.6" text-anchor="end">40</text>
<text class="t" text-anchor="middle" font-size="20.9" transform="translate(16 119.9) rotate(-90)">Latitude (in degrees)</text>
<text class="t" x="99.6" y="36.8" text-anchor="middle">(a)</text>
<path d="M393.7 20.4L399.15 10.5L404.6 20.4V218.4L399.15 228.3L393.7 218.4Z" fill="url(#cbg)" class="cb"/>
<text class="t" x="423" y="27.5">0.10</text>
<text class="t" x="423" y="77">0.05</text>
<text class="t" x="423" y="126.5">0.00</text>
<text class="t" x="423" y="176">−0.05</text>
<text class="t" x="423" y="225.5">−0.10</text>
<path class="tk" d="M404.6 20.4h11.7M404.6 69.9h11.7M404.6 119.4h11.7M404.6 168.9h11.7M404.6 218.4h11.7"/>
<text class="t" text-anchor="middle" font-size="20.9" transform="translate(506.3 119.9) rotate(-90)">Magnetic field (Gauss)</text>
<path class="tk" d="M699.42 228.3v-11.7M699.42 10.5v11.7M784.44 228.3v-11.7M784.44 10.5v11.7M869.47 228.3v-11.7M869.47 10.5v11.7M648.41 228.3v-6.7M648.41 10.5v6.7M665.41 228.3v-6.7M665.41 10.5v6.7M682.42 228.3v-6.7M682.42 10.5v6.7M716.43 228.3v-6.7M716.43 10.5v6.7M733.43 228.3v-6.7M733.43 10.5v6.7M750.44 228.3v-6.7M750.44 10.5v6.7M767.44 228.3v-6.7M767.44 10.5v6.7M801.45 228.3v-6.7M801.45 10.5v6.7M818.45 228.3v-6.7M818.45 10.5v6.7M835.46 228.3v-6.7M835.46 10.5v6.7M852.46 228.3v-6.7M852.46 10.5v6.7M886.47 228.3v-6.7M886.47 10.5v6.7M903.47 228.3v-6.7M903.47 10.5v6.7M920.48 228.3v-6.7M920.48 10.5v6.7M646.2 228.3h11.7M926.6 228.3h-11.7M646.2 173.85h11.7M926.6 173.85h-11.7M646.2 119.4h11.7M926.6 119.4h-11.7M646.2 64.95h11.7M926.6 64.95h-11.7M646.2 10.5h11.7M926.6 10.5h-11.7M646.2 214.69h6.7M926.6 214.69h-6.7M646.2 201.08h6.7M926.6 201.08h-6.7M646.2 187.46h6.7M926.6 187.46h-6.7M646.2 160.24h6.7M926.6 160.24h-6.7M646.2 146.62h6.7M926.6 146.62h-6.7M646.2 133.01h6.7M926.6 133.01h-6.7M646.2 105.79h6.7M926.6 105.79h-6.7M646.2 92.18h6.7M926.6 92.18h-6.7M646.2 78.56h6.7M926.6 78.56h-6.7M646.2 51.34h6.7M926.6 51.34h-6.7M646.2 37.72h6.7M926.6 37.72h-6.7M646.2 24.11h6.7M926.6 24.11h-6.7"/>
<path class="dr" d="M646.2 119.4L926.6 119.4"/>
<path class="pl" d="M784.44 228.3L784.44 227.62L784.44 226.94L784.44 226.26L784.44 225.58L784.44 224.9L784.44 224.22L784.44 223.54L784.44 222.86L784.44 222.17L784.44 221.49L784.44 220.81L784.44 220.13L784.44 219.45L784.44 218.77L784.44 218.09L784.44 217.41L784.44 216.73L784.44 216.05L784.44 215.37L784.44 214.69L784.44 214.01L784.44 213.33L784.44 212.65L784.44 211.97L784.44 211.28L784.44 210.6L784.44 209.92L784.44 209.24L784.44 208.56L784.44 207.88L784.44 207.2L784.44 206.52L784.44 205.84L784.44 205.16L784.44 204.48L784.44 203.8L784.44 203.12L784.44 202.44L784.44 201.76L784.44 201.08L784.44 200.39L784.44 199.71L784.44 199.03L784.44 198.35L784.44 197.67L784.44 196.99L784.44 196.31L784.44 195.63L784.44 194.95L784.44 194.27L784.44 193.59L784.44 192.91L784.44 192.23L784.44 191.55L784.44 190.87L784.44 190.19L784.44 189.5L784.44 188.82L784.44 188.14L784.44 187.46L784.44 186.78L784.44 186.1L784.44 185.42L784.44 184.74L784.44 184.06L784.44 183.38L784.44 182.7L784.44 182.02L784.44 181.34L784.44 180.66L784.44 179.98L784.44 179.3L784.44 178.61L784.44 177.93L784.44 177.25L784.44 176.57L784.44 175.89L784.44 175.21L784.44 174.53L784.44 173.85L784.44 173.17L784.44 172.49L784.44 171.81L784.44 171.13L784.44 170.45L784.44 169.77L784.44 169.09L784.44 168.41L784.44 167.72L784.44 167.04L784.44 166.36L784.44 165.68L784.45 165L784.45 164.32L784.46 163.64L784.47 162.96L784.48 162.28L784.49 161.6L784.51 160.92L784.53 160.24L784.58 159.56L784.66 158.88L784.79 158.2L784.94 157.51L785.12 156.83L785.32 156.15L785.58 155.47L785.95 154.79L786.42 154.11L786.99 153.43L787.7 152.75L788.71 152.07L790 151.39L791.53 150.71L793.27 150.03L795.5 149.35L798.24 148.67L801.38 147.99L804.84 147.31L808.51 146.62L812.29 145.94L816.1 145.26L820.15 144.58L824.6 143.9L829.32 143.22L834.23 142.54L839.22 141.86L844.18 141.18L849.03 140.5L853.65 139.82L858.07 139.14L862.38 138.46L866.65 137.78L870.95 137.1L875.35 136.42L879.9 135.74L884.89 135.05L890.31 134.37L895.81 133.69L901.03 133.01L905.61 132.33L909.23 131.65L912.09 130.97L913.64 130.29L914.4 129.61L912.34 128.93L908.32 128.25L903.05 127.57L896.46 126.89L889.4 126.21L882.06 125.53L874.13 124.85L865.51 124.16L856.12 123.48L845.43 122.8L832.88 122.12L819.98 121.44L807.9 120.76L796.08 120.08L784.44 119.4L773.15 118.72L761.68 118.04L749.95 117.36L737.42 116.68L725.24 116L714.86 115.32L705.74 114.64L697.37 113.95L689.67 113.27L682.54 112.59L675.69 111.91L669.29 111.23L664.17 110.55L660.27 109.87L658.27 109.19L659.01 108.51L660.52 107.83L663.29 107.15L666.81 106.47L671.26 105.79L676.33 105.11L681.66 104.43L686.93 103.75L691.77 103.07L696.19 102.38L700.46 101.7L704.63 101.02L708.78 100.34L712.97 99.66L717.26 98.98L721.74 98.3L726.44 97.62L731.27 96.94L736.11 96.26L740.87 95.58L745.46 94.9L749.77 94.22L753.71 93.54L757.41 92.86L761.08 92.18L764.64 91.49L768 90.81L771.05 90.13L773.71 89.45L775.88 88.77L777.57 88.09L779.05 87.41L780.3 86.73L781.28 86.05L781.97 85.37L782.52 84.69L782.98 84.01L783.34 83.33L783.59 82.65L783.79 81.97L783.96 81.28L784.11 80.6L784.23 79.92L784.32 79.24L784.36 78.56L784.38 77.88L784.4 77.2L784.41 76.52L784.42 75.84L784.43 75.16L784.44 74.48L784.44 73.8L784.44 73.12L784.44 72.44L784.44 71.76L784.44 71.08L784.44 70.4L784.44 69.71L784.44 69.03L784.44 68.35L784.44 67.67L784.44 66.99L784.44 66.31L784.44 65.63L784.44 64.95L784.44 64.27L784.44 63.59L784.44 62.91L784.44 62.23L784.44 61.55L784.44 60.87L784.44 60.19L784.44 59.5L784.44 58.82L784.44 58.14L784.44 57.46L784.44 56.78L784.44 56.1L784.44 55.42L784.44 54.74L784.44 54.06L784.44 53.38L784.44 52.7L784.44 52.02L784.44 51.34L784.44 50.66L784.44 49.98L784.44 49.3L784.44 48.62L784.44 47.93L784.44 47.25L784.44 46.57L784.44 45.89L784.44 45.21L784.44 44.53L784.44 43.85L784.44 43.17L784.44 42.49L784.44 41.81L784.44 41.13L784.44 40.45L784.44 39.77L784.44 39.09L784.44 38.41L784.44 37.72L784.44 37.04L784.44 36.36L784.44 35.68L784.44 35L784.44 34.32L784.44 33.64L784.44 32.96L784.44 32.28L784.44 31.6L784.44 30.92L784.44 30.24L784.44 29.56L784.44 28.88L784.44 28.2L784.44 27.52L784.44 26.83L784.44 26.15L784.44 25.47L784.44 24.79L784.44 24.11L784.44 23.43L784.44 22.75L784.44 22.07L784.44 21.39L784.44 20.71L784.44 20.03L784.44 19.35L784.44 18.67L784.44 17.99L784.44 17.31L784.44 16.63L784.44 15.94L784.44 15.26L784.44 14.58L784.44 13.9L784.44 13.22L784.44 12.54L784.44 11.86L784.44 11.18L784.44 10.5"/>
<rect class="sp" x="646.2" y="10.5" width="280.4" height="217.8"/>
<text class="t" x="699.42" y="250.6" text-anchor="middle">−0.5</text>
<text class="t" x="784.44" y="250.6" text-anchor="middle">0.0</text>
<text class="t" x="869.47" y="250.6" text-anchor="middle">0.5</text>
<text class="t" x="639" y="235.4" text-anchor="end">−40</text>
<text class="t" x="639" y="180.95" text-anchor="end">−20</text>
<text class="t" x="639" y="126.5" text-anchor="end">0</text>
<text class="t" x="639" y="72.05" text-anchor="end">20</text>
<text class="t" x="639" y="17.6" text-anchor="end">40</text>
<text class="t" x="668.5" y="36.8" text-anchor="middle">(b)</text>
<text class="s"><tspan x="835.2" y="60">λ</tspan><tspan dy="3.4" font-size="14.58">0</tspan><tspan x="861.6" y="60">=</tspan><tspan x="882.9">0</tspan><tspan x="899.45" y="51.3" font-size="14.58">∘</tspan></text>
<g clip-path="url(#cp1048)"><g class="hm" filter="url(#vb)" transform="translate(1048.5 0)"><rect y="6" fill="url(#p0)"/><rect y="8" fill="url(#p1)"/><rect y="10" fill="url(#p2)"/><rect y="12" fill="url(#p3)"/><rect y="14" fill="url(#p4)"/><rect y="16" fill="url(#p5)"/><rect y="18" fill="url(#p6)"/><rect y="20" fill="url(#p7)"/><rect y="22" fill="url(#p8)"/><rect y="24" fill="url(#p9)"/><rect y="26" fill="url(#p10)"/><rect y="28" fill="url(#p11)"/><rect y="30" fill="url(#p12)"/><rect y="32" fill="url(#p13)"/><rect y="34" fill="url(#p14)"/><rect y="36" fill="url(#p15)"/><rect y="38" fill="url(#p16)"/><rect y="40" fill="url(#p17)"/><rect y="42" fill="url(#p18)"/><rect y="44" fill="url(#p19)"/><rect y="46" fill="url(#p20)"/><rect y="48" fill="url(#p21)"/><rect y="50" fill="url(#p22)"/><rect y="52" fill="url(#p23)"/><rect y="54" fill="url(#p24)"/><rect y="56" fill="url(#p25)"/><rect y="58" fill="url(#p26)"/><rect y="60" fill="url(#p27)"/><rect y="62" fill="url(#p28)"/><rect y="64" fill="url(#p29)"/><rect y="66" fill="url(#p30)"/><rect y="68" fill="url(#p31)"/><rect y="70" fill="url(#p32)"/><rect y="72" fill="url(#p33)"/><rect y="74" fill="url(#p34)"/><rect y="76" fill="url(#p35)"/><rect y="78" fill="url(#p36)"/><rect y="80" fill="url(#p37)"/><rect y="82" fill="url(#p38)"/><rect y="84" fill="url(#p39)"/><rect y="86" fill="url(#p40)"/><rect y="88" fill="url(#p41)"/><rect y="90" fill="url(#p42)"/><rect y="92" fill="url(#p43)"/><rect y="94" fill="url(#p44)"/><rect y="96" fill="url(#p45)"/><rect y="98" fill="url(#p46)"/><rect y="100" fill="url(#p47)"/><rect y="102" fill="url(#p48)"/><rect y="104" fill="url(#p49)"/><rect y="106" fill="url(#p50)"/><rect y="108" fill="url(#p51)"/><rect y="110" fill="url(#p52)"/><rect y="112" fill="url(#p53)"/><rect y="114" fill="url(#p54)"/><rect y="116" fill="url(#p55)"/><rect y="118" fill="url(#p56)"/><rect y="120" fill="url(#p57)"/><rect y="122" fill="url(#p58)"/><rect y="124" fill="url(#p59)"/><rect y="126" fill="url(#p60)"/><rect y="128" fill="url(#p61)"/><rect y="130" fill="url(#p62)"/><rect y="132" fill="url(#p63)"/><rect y="134" fill="url(#p64)"/><rect y="136" fill="url(#p65)"/><rect y="138" fill="url(#p66)"/><rect y="140" fill="url(#p67)"/><rect y="142" fill="url(#p68)"/><rect y="144" fill="url(#p69)"/><rect y="146" fill="url(#p70)"/><rect y="148" fill="url(#p71)"/><rect y="150" fill="url(#p72)"/><rect y="152" fill="url(#p73)"/><rect y="154" fill="url(#p74)"/><rect y="156" fill="url(#p75)"/><rect y="158" fill="url(#p76)"/><rect y="160" fill="url(#p77)"/><rect y="162" fill="url(#p78)"/><rect y="164" fill="url(#p79)"/><rect y="166" fill="url(#p80)"/><rect y="168" fill="url(#p81)"/><rect y="170" fill="url(#p82)"/><rect y="172" fill="url(#p83)"/><rect y="174" fill="url(#p84)"/><rect y="176" fill="url(#p85)"/><rect y="178" fill="url(#p86)"/><rect y="180" fill="url(#p87)"/><rect y="182" fill="url(#p88)"/><rect y="184" fill="url(#p89)"/><rect y="186" fill="url(#p90)"/><rect y="188" fill="url(#p91)"/><rect y="190" fill="url(#p92)"/><rect y="192" fill="url(#p93)"/><rect y="194" fill="url(#p94)"/><rect y="196" fill="url(#p95)"/><rect y="198" fill="url(#p96)"/><rect y="200" fill="url(#p97)"/><rect y="202" fill="url(#p98)"/><rect y="204" fill="url(#p99)"/><rect y="206" fill="url(#p100)"/><rect y="208" fill="url(#p101)"/><rect y="210" fill="url(#p102)"/><rect y="212" fill="url(#p103)"/><rect y="214" fill="url(#p104)"/><rect y="216" fill="url(#p105)"/><rect y="218" fill="url(#p106)"/><rect y="220" fill="url(#p107)"/><rect y="222" fill="url(#p108)"/><rect y="224" fill="url(#p109)"/><rect y="226" fill="url(#p110)"/><rect y="228" fill="url(#p111)"/><rect y="230" fill="url(#p112)"/><rect y="232" fill="url(#p113)"/></g></g>
<path class="zl" d="M1048.5 119.4L1051.49 119.4L1054.49 119.4L1057.48 119.4L1060.47 119.4L1063.46 119.4L1066.46 119.4L1069.45 119.4L1072.44 119.4L1075.44 119.4L1078.43 119.4L1081.42 119.4L1084.41 119.4L1087.41 119.4L1090.4 119.4L1093.39 119.4L1096.38 119.4L1099.38 119.4L1102.37 119.4L1105.36 119.4L1108.36 119.4L1111.35 119.4L1114.34 119.4L1117.33 119.4L1120.33 119.4L1123.32 119.4L1126.31 119.4L1129.31 119.4L1132.3 119.4L1135.29 119.4L1138.28 119.4L1141.28 119.4L1144.27 119.4L1147.26 119.4L1150.26 119.4L1153.25 119.4L1156.24 119.4L1159.23 119.4L1162.23 119.4L1165.22 119.4L1168.21 119.4L1171.2 119.4L1174.2 119.4L1177.19 119.4L1180.18 119.4L1183.18 119.4L1186.17 119.4L1189.16 119.4L1192.15 119.4L1195.15 119.4L1198.14 119.4L1201.13 119.4L1204.13 119.4L1207.12 119.4L1210.11 119.4L1213.1 119.4L1216.1 119.4L1219.09 119.4L1222.08 119.4L1225.08 119.4L1228.07 119.4L1231.06 119.4L1234.05 119.4"/>
<rect x="1048.5" y="226" width="374.1" height="1" fill="#fffef4"/>
<path class="tk" d="M1048.5 228.3v-11.7M1048.5 10.5v11.7M1173.2 228.3v-11.7M1173.2 10.5v11.7M1297.9 228.3v-11.7M1297.9 10.5v11.7M1422.6 228.3v-11.7M1422.6 10.5v11.7M1079.67 228.3v-6.7M1079.67 10.5v6.7M1110.85 228.3v-6.7M1110.85 10.5v6.7M1142.03 228.3v-6.7M1142.03 10.5v6.7M1204.38 228.3v-6.7M1204.38 10.5v6.7M1235.55 228.3v-6.7M1235.55 10.5v6.7M1266.72 228.3v-6.7M1266.72 10.5v6.7M1329.07 228.3v-6.7M1329.07 10.5v6.7M1360.25 228.3v-6.7M1360.25 10.5v6.7M1391.42 228.3v-6.7M1391.42 10.5v6.7M1048.5 179.9h11.7M1422.6 179.9h-11.7M1048.5 119.4h11.7M1422.6 119.4h-11.7M1048.5 58.9h11.7M1422.6 58.9h-11.7M1048.5 216.2h6.7M1422.6 216.2h-6.7M1048.5 204.1h6.7M1422.6 204.1h-6.7M1048.5 192h6.7M1422.6 192h-6.7M1048.5 167.8h6.7M1422.6 167.8h-6.7M1048.5 155.7h6.7M1422.6 155.7h-6.7M1048.5 143.6h6.7M1422.6 143.6h-6.7M1048.5 131.5h6.7M1422.6 131.5h-6.7M1048.5 107.3h6.7M1422.6 107.3h-6.7M1048.5 95.2h6.7M1422.6 95.2h-6.7M1048.5 83.1h6.7M1422.6 83.1h-6.7M1048.5 71h6.7M1422.6 71h-6.7M1048.5 46.8h6.7M1422.6 46.8h-6.7M1048.5 34.7h6.7M1422.6 34.7h-6.7M1048.5 22.6h6.7M1422.6 22.6h-6.7"/>
<rect class="sp" x="1048.5" y="10.5" width="374.1" height="217.8"/>
<text class="t" x="1048.5" y="250.6" text-anchor="middle">0</text>
<text class="t" x="1173.2" y="250.6" text-anchor="middle">2</text>
<text class="t" x="1297.9" y="250.6" text-anchor="middle">4</text>
<text class="t" x="1422.6" y="250.6" text-anchor="middle">6</text>
<text class="t" x="1041.3" y="187" text-anchor="end">−50</text>
<text class="t" x="1041.3" y="126.5" text-anchor="end">0</text>
<text class="t" x="1041.3" y="66" text-anchor="end">50</text>
<text class="t" x="1070.9" y="36.8" text-anchor="middle">(c)</text>
<path d="M1446.3 20.4L1451.75 10.5L1457.2 20.4V218.4L1451.75 228.3L1446.3 218.4Z" fill="url(#cbg)" class="cb"/>
<text class="t" x="1475.6" y="27.5">0.050</text>
<text class="t" x="1475.6" y="77">0.025</text>
<text class="t" x="1475.6" y="126.5">0.000</text>
<text class="t" x="1475.6" y="176">−0.025</text>
<text class="t" x="1475.6" y="225.5">−0.050</text>
<path class="tk" d="M1457.2 20.4h11.7M1457.2 69.9h11.7M1457.2 119.4h11.7M1457.2 168.9h11.7M1457.2 218.4h11.7"/>
<text class="t" text-anchor="middle" font-size="20.9" transform="translate(1571.5 119.9) rotate(-90)">Magnetic field (Gauss)</text>
<g clip-path="url(#cp1637)"><g class="hm" filter="url(#vb)" transform="translate(1637.6 0)"><rect y="6" fill="url(#p0)"/><rect y="8" fill="url(#p1)"/><rect y="10" fill="url(#p2)"/><rect y="12" fill="url(#p3)"/><rect y="14" fill="url(#p4)"/><rect y="16" fill="url(#p5)"/><rect y="18" fill="url(#p6)"/><rect y="20" fill="url(#p7)"/><rect y="22" fill="url(#p8)"/><rect y="24" fill="url(#p9)"/><rect y="26" fill="url(#p10)"/><rect y="28" fill="url(#p11)"/><rect y="30" fill="url(#p12)"/><rect y="32" fill="url(#p13)"/><rect y="34" fill="url(#p14)"/><rect y="36" fill="url(#p15)"/><rect y="38" fill="url(#p16)"/><rect y="40" fill="url(#p17)"/><rect y="42" fill="url(#p18)"/><rect y="44" fill="url(#p19)"/><rect y="46" fill="url(#p20)"/><rect y="48" fill="url(#p21)"/><rect y="50" fill="url(#p22)"/><rect y="52" fill="url(#p23)"/><rect y="54" fill="url(#p24)"/><rect y="56" fill="url(#p25)"/><rect y="58" fill="url(#p26)"/><rect y="60" fill="url(#p27)"/><rect y="62" fill="url(#p28)"/><rect y="64" fill="url(#p29)"/><rect y="66" fill="url(#p30)"/><rect y="68" fill="url(#p31)"/><rect y="70" fill="url(#p32)"/><rect y="72" fill="url(#p33)"/><rect y="74" fill="url(#p34)"/><rect y="76" fill="url(#p35)"/><rect y="78" fill="url(#p36)"/><rect y="80" fill="url(#p37)"/><rect y="82" fill="url(#p38)"/><rect y="84" fill="url(#p39)"/><rect y="86" fill="url(#p40)"/><rect y="88" fill="url(#p41)"/><rect y="90" fill="url(#p42)"/><rect y="92" fill="url(#p43)"/><rect y="94" fill="url(#p44)"/><rect y="96" fill="url(#p45)"/><rect y="98" fill="url(#p46)"/><rect y="100" fill="url(#p47)"/><rect y="102" fill="url(#p48)"/><rect y="104" fill="url(#p49)"/><rect y="106" fill="url(#p50)"/><rect y="108" fill="url(#p51)"/><rect y="110" fill="url(#p52)"/><rect y="112" fill="url(#p53)"/><rect y="114" fill="url(#p54)"/><rect y="116" fill="url(#p55)"/><rect y="118" fill="url(#p56)"/><rect y="120" fill="url(#p57)"/><rect y="122" fill="url(#p58)"/><rect y="124" fill="url(#p59)"/><rect y="126" fill="url(#p60)"/><rect y="128" fill="url(#p61)"/><rect y="130" fill="url(#p62)"/><rect y="132" fill="url(#p63)"/><rect y="134" fill="url(#p64)"/><rect y="136" fill="url(#p65)"/><rect y="138" fill="url(#p66)"/><rect y="140" fill="url(#p67)"/><rect y="142" fill="url(#p68)"/><rect y="144" fill="url(#p69)"/><rect y="146" fill="url(#p70)"/><rect y="148" fill="url(#p71)"/><rect y="150" fill="url(#p72)"/><rect y="152" fill="url(#p73)"/><rect y="154" fill="url(#p74)"/><rect y="156" fill="url(#p75)"/><rect y="158" fill="url(#p76)"/><rect y="160" fill="url(#p77)"/><rect y="162" fill="url(#p78)"/><rect y="164" fill="url(#p79)"/><rect y="166" fill="url(#p80)"/><rect y="168" fill="url(#p81)"/><rect y="170" fill="url(#p82)"/><rect y="172" fill="url(#p83)"/><rect y="174" fill="url(#p84)"/><rect y="176" fill="url(#p85)"/><rect y="178" fill="url(#p86)"/><rect y="180" fill="url(#p87)"/><rect y="182" fill="url(#p88)"/><rect y="184" fill="url(#p89)"/><rect y="186" fill="url(#p90)"/><rect y="188" fill="url(#p91)"/><rect y="190" fill="url(#p92)"/><rect y="192" fill="url(#p93)"/><rect y="194" fill="url(#p94)"/><rect y="196" fill="url(#p95)"/><rect y="198" fill="url(#p96)"/><rect y="200" fill="url(#p97)"/><rect y="202" fill="url(#p98)"/><rect y="204" fill="url(#p99)"/><rect y="206" fill="url(#p100)"/><rect y="208" fill="url(#p101)"/><rect y="210" fill="url(#p102)"/><rect y="212" fill="url(#p103)"/><rect y="214" fill="url(#p104)"/><rect y="216" fill="url(#p105)"/><rect y="218" fill="url(#p106)"/><rect y="220" fill="url(#p107)"/><rect y="222" fill="url(#p108)"/><rect y="224" fill="url(#p109)"/><rect y="226" fill="url(#p110)"/><rect y="228" fill="url(#p111)"/><rect y="230" fill="url(#p112)"/><rect y="232" fill="url(#p113)"/></g></g>
<path class="zl" d="M1637.6 119.4L1640.59 119.4L1643.59 119.4L1646.58 119.4L1649.57 119.4L1652.56 119.4L1655.56 119.4L1658.55 119.4L1661.54 119.4L1664.54 119.4L1667.53 119.4L1670.52 119.4L1673.51 119.4L1676.51 119.4L1679.5 119.4L1682.49 119.4L1685.48 119.4L1688.48 119.4L1691.47 119.4L1694.46 119.4L1697.46 119.4L1700.45 119.4L1703.44 119.4L1706.43 119.4L1709.43 119.4L1712.42 119.4L1715.41 119.4L1718.41 119.4L1721.4 119.4L1724.39 119.4L1727.38 119.4L1730.38 119.4L1733.37 119.4L1736.36 119.4L1739.36 119.4L1742.35 119.4L1745.34 119.4L1748.33 119.4L1751.33 119.4L1754.32 119.4L1757.31 119.4L1760.3 119.4L1763.3 119.4L1766.29 119.4L1769.28 119.4L1772.28 119.4L1775.27 119.4L1778.26 119.4L1781.25 119.4L1784.25 119.4L1787.24 119.4L1790.23 119.4L1793.23 119.4L1796.22 119.4L1799.21 119.4L1802.2 119.4L1805.2 119.4L1808.19 119.4L1811.18 119.4L1814.18 119.4L1817.17 119.4L1820.16 119.4L1823.15 119.4"/>
<path class="tk" d="M1637.6 228.3v-11.7M1637.6 10.5v11.7M1762.3 228.3v-11.7M1762.3 10.5v11.7M1887 228.3v-11.7M1887 10.5v11.7M2011.7 228.3v-11.7M2011.7 10.5v11.7M1668.77 228.3v-6.7M1668.77 10.5v6.7M1699.95 228.3v-6.7M1699.95 10.5v6.7M1731.12 228.3v-6.7M1731.12 10.5v6.7M1793.47 228.3v-6.7M1793.47 10.5v6.7M1824.65 228.3v-6.7M1824.65 10.5v6.7M1855.83 228.3v-6.7M1855.83 10.5v6.7M1918.17 228.3v-6.7M1918.17 10.5v6.7M1949.35 228.3v-6.7M1949.35 10.5v6.7M1980.53 228.3v-6.7M1980.53 10.5v6.7M1637.6 179.9h11.7M2011.7 179.9h-11.7M1637.6 119.4h11.7M2011.7 119.4h-11.7M1637.6 58.9h11.7M2011.7 58.9h-11.7M1637.6 216.2h6.7M2011.7 216.2h-6.7M1637.6 204.1h6.7M2011.7 204.1h-6.7M1637.6 192h6.7M2011.7 192h-6.7M1637.6 167.8h6.7M2011.7 167.8h-6.7M1637.6 155.7h6.7M2011.7 155.7h-6.7M1637.6 143.6h6.7M2011.7 143.6h-6.7M1637.6 131.5h6.7M2011.7 131.5h-6.7M1637.6 107.3h6.7M2011.7 107.3h-6.7M1637.6 95.2h6.7M2011.7 95.2h-6.7M1637.6 83.1h6.7M2011.7 83.1h-6.7M1637.6 71h6.7M2011.7 71h-6.7M1637.6 46.8h6.7M2011.7 46.8h-6.7M1637.6 34.7h6.7M2011.7 34.7h-6.7M1637.6 22.6h6.7M2011.7 22.6h-6.7"/>
<rect class="sp" x="1637.6" y="10.5" width="374.1" height="217.8"/>
<text class="t" x="1637.6" y="250.6" text-anchor="middle">0</text>
<text class="t" x="1762.3" y="250.6" text-anchor="middle">2</text>
<text class="t" x="1887" y="250.6" text-anchor="middle">4</text>
<text class="t" x="2011.7" y="250.6" text-anchor="middle">6</text>
<text class="t" x="1630.4" y="187" text-anchor="end">−50</text>
<text class="t" x="1630.4" y="126.5" text-anchor="end">0</text>
<text class="t" x="1630.4" y="66" text-anchor="end">50</text>
<text class="t" x="1660" y="36.8" text-anchor="middle">(d)</text>
<path d="M2035.4 20.4L2040.85 10.5L2046.3 20.4V218.4L2040.85 228.3L2035.4 218.4Z" fill="url(#cbg)" class="cb"/>
<text class="t" x="2064.7" y="27.5">0.050</text>
<text class="t" x="2064.7" y="77">0.025</text>
<text class="t" x="2064.7" y="126.5">0.000</text>
<text class="t" x="2064.7" y="176">−0.025</text>
<text class="t" x="2064.7" y="225.5">−0.050</text>
<path class="tk" d="M2046.3 20.4h11.7M2046.3 69.9h11.7M2046.3 119.4h11.7M2046.3 168.9h11.7M2046.3 218.4h11.7"/>
<text class="t" text-anchor="middle" font-size="20.9" transform="translate(2162 119.9) rotate(-90)">Magnetic field (Gauss)</text>
<g shape-rendering="crispEdges"><rect x="195.8" y="318.37" width="10.87" height="2.72" fill="#ff3838"/><rect x="206.67" y="318.37" width="2.72" height="2.72" fill="#ff8080"/><rect x="209.39" y="318.37" width="2.72" height="2.72" fill="#ffc0c0"/><rect x="190.36" y="321.09" width="24.46" height="2.72" fill="#f00"/><rect x="182.21" y="323.81" width="32.62" height="2.72" fill="#f00"/><rect x="217.55" y="323.81" width="2.72" height="2.72" fill="#b0b0ff"/><rect x="220.26" y="323.81" width="2.72" height="2.72" fill="#8c8cff"/><rect x="222.98" y="323.81" width="2.72" height="2.72" fill="#b0b0ff"/><rect x="179.49" y="326.54" width="35.34" height="2.72" fill="#f00"/><rect x="217.55" y="326.54" width="10.87" height="2.72" fill="#00f"/><rect x="214.83" y="326.54" width="2.72" height="2.72" fill="#e8e0ff"/><rect x="176.77" y="329.26" width="38.05" height="2.72" fill="#f00"/><rect x="214.83" y="329.26" width="16.31" height="2.72" fill="#00f"/><rect x="176.77" y="331.98" width="38.05" height="2.72" fill="#f00"/><rect x="214.83" y="331.98" width="19.03" height="2.72" fill="#00f"/><rect x="174.05" y="334.7" width="40.77" height="2.72" fill="#f00"/><rect x="214.83" y="334.7" width="21.75" height="2.72" fill="#00f"/><rect x="174.05" y="337.43" width="40.77" height="2.72" fill="#f00"/><rect x="214.83" y="337.43" width="24.46" height="2.72" fill="#00f"/><rect x="171.34" y="340.15" width="40.77" height="2.72" fill="#f00"/><rect x="212.11" y="340.15" width="29.9" height="2.72" fill="#00f"/><rect x="171.34" y="342.87" width="40.77" height="2.72" fill="#f00"/><rect x="212.11" y="342.87" width="29.9" height="2.72" fill="#00f"/><rect x="171.34" y="345.6" width="40.77" height="2.72" fill="#f00"/><rect x="212.11" y="345.6" width="32.62" height="2.72" fill="#00f"/><rect x="171.34" y="348.32" width="40.77" height="2.72" fill="#f00"/><rect x="212.11" y="348.32" width="32.62" height="2.72" fill="#00f"/><rect x="171.34" y="351.04" width="40.77" height="2.72" fill="#f00"/><rect x="212.11" y="351.04" width="35.34" height="2.72" fill="#00f"/><rect x="171.34" y="353.76" width="40.77" height="2.72" fill="#f00"/><rect x="212.11" y="353.76" width="35.34" height="2.72" fill="#00f"/><rect x="168.62" y="353.76" width="2.72" height="2.72" fill="#ff7070"/><rect x="171.34" y="356.49" width="38.05" height="2.72" fill="#f00"/><rect x="209.39" y="356.49" width="38.05" height="2.72" fill="#00f"/><rect x="171.34" y="359.21" width="38.05" height="2.72" fill="#f00"/><rect x="209.39" y="359.21" width="40.77" height="2.72" fill="#00f"/><rect x="247.45" y="359.21" width="2.72" height="2.72" fill="#3030ff"/><rect x="171.34" y="361.93" width="38.05" height="2.72" fill="#f00"/><rect x="209.39" y="361.93" width="40.77" height="2.72" fill="#00f"/><rect x="171.34" y="364.65" width="38.05" height="2.72" fill="#f00"/><rect x="209.39" y="364.65" width="40.77" height="2.72" fill="#00f"/><rect x="174.05" y="367.38" width="35.34" height="2.72" fill="#f00"/><rect x="209.39" y="367.38" width="40.77" height="2.72" fill="#00f"/><rect x="171.34" y="367.38" width="2.72" height="2.72" fill="#ff6060"/><rect x="174.05" y="370.1" width="32.62" height="2.72" fill="#f00"/><rect x="206.67" y="370.1" width="43.49" height="2.72" fill="#00f"/><rect x="174.05" y="372.82" width="32.62" height="2.72" fill="#f00"/><rect x="206.67" y="372.82" width="43.49" height="2.72" fill="#00f"/><rect x="176.77" y="375.54" width="29.9" height="2.72" fill="#f00"/><rect x="206.67" y="375.54" width="43.49" height="2.72" fill="#00f"/><rect x="174.05" y="375.54" width="2.72" height="2.72" fill="#ff7070"/><rect x="247.45" y="375.54" width="2.72" height="2.72" fill="#3030ff"/><rect x="176.77" y="378.26" width="29.9" height="2.72" fill="#f00"/><rect x="206.67" y="378.26" width="40.77" height="2.72" fill="#00f"/><rect x="179.49" y="380.99" width="27.18" height="2.72" fill="#f00"/><rect x="206.67" y="380.99" width="40.77" height="2.72" fill="#00f"/><rect x="182.21" y="383.71" width="21.75" height="2.72" fill="#f00"/><rect x="203.95" y="383.71" width="43.49" height="2.72" fill="#00f"/><rect x="179.49" y="383.71" width="2.72" height="2.72" fill="#ff7070"/><rect x="244.73" y="383.71" width="2.72" height="2.72" fill="#4040ff"/><rect x="182.21" y="386.43" width="21.75" height="2.72" fill="#f00"/><rect x="203.95" y="386.43" width="40.77" height="2.72" fill="#00f"/><rect x="184.93" y="389.15" width="19.03" height="2.72" fill="#f00"/><rect x="203.95" y="389.15" width="38.05" height="2.72" fill="#00f"/><rect x="242.01" y="389.15" width="2.72" height="2.72" fill="#a0a0ff"/><rect x="187.65" y="391.88" width="13.59" height="2.72" fill="#f00"/><rect x="203.95" y="391.88" width="35.34" height="2.72" fill="#00f"/><rect x="201.24" y="391.88" width="2.72" height="2.72" fill="#ff9090"/><rect x="239.29" y="391.88" width="2.72" height="2.72" fill="#8080ff"/><rect x="203.95" y="394.6" width="32.62" height="2.72" fill="#00f"/><rect x="193.08" y="394.6" width="2.72" height="2.72" fill="#ffa0a0"/><rect x="195.8" y="394.6" width="2.72" height="2.72" fill="#ff8080"/><rect x="198.52" y="394.6" width="2.72" height="2.72" fill="#ffa0a0"/><rect x="201.24" y="394.6" width="2.72" height="2.72" fill="#ffe0e0"/><rect x="206.67" y="397.32" width="27.18" height="2.72" fill="#00f"/><rect x="203.95" y="397.32" width="2.72" height="2.72" fill="#a0a0ff"/><rect x="203.95" y="400.04" width="2.72" height="2.72" fill="#d0d0ff"/><rect x="206.67" y="400.04" width="2.72" height="2.72" fill="#9090ff"/><rect x="209.39" y="400.04" width="2.72" height="2.72" fill="#8080ff"/><rect x="212.11" y="400.04" width="2.72" height="2.72" fill="#8080ff"/><rect x="214.83" y="400.04" width="2.72" height="2.72" fill="#8080ff"/><rect x="217.55" y="400.04" width="2.72" height="2.72" fill="#8080ff"/><rect x="220.26" y="400.04" width="2.72" height="2.72" fill="#8080ff"/><rect x="222.98" y="400.04" width="2.72" height="2.72" fill="#9090ff"/><rect x="225.7" y="400.04" width="2.72" height="2.72" fill="#b0b0ff"/></g>
<path class="tk" d="M103.38 503.5v-11.7M103.38 285.7v11.7M239.29 503.5v-11.7M239.29 285.7v11.7M375.2 503.5v-11.7M375.2 285.7v11.7M76.2 503.5v-6.7M76.2 285.7v6.7M130.56 503.5v-6.7M130.56 285.7v6.7M157.75 503.5v-6.7M157.75 285.7v6.7M184.93 503.5v-6.7M184.93 285.7v6.7M212.11 503.5v-6.7M212.11 285.7v6.7M266.47 503.5v-6.7M266.47 285.7v6.7M293.65 503.5v-6.7M293.65 285.7v6.7M320.84 503.5v-6.7M320.84 285.7v6.7M348.02 503.5v-6.7M348.02 285.7v6.7M76.2 503.5h11.7M375.2 503.5h-11.7M76.2 449.05h11.7M375.2 449.05h-11.7M76.2 394.6h11.7M375.2 394.6h-11.7M76.2 340.15h11.7M375.2 340.15h-11.7M76.2 285.7h11.7M375.2 285.7h-11.7M76.2 489.89h6.7M375.2 489.89h-6.7M76.2 476.27h6.7M375.2 476.27h-6.7M76.2 462.66h6.7M375.2 462.66h-6.7M76.2 435.44h6.7M375.2 435.44h-6.7M76.2 421.82h6.7M375.2 421.82h-6.7M76.2 408.21h6.7M375.2 408.21h-6.7M76.2 380.99h6.7M375.2 380.99h-6.7M76.2 367.38h6.7M375.2 367.38h-6.7M76.2 353.76h6.7M375.2 353.76h-6.7M76.2 326.54h6.7M375.2 326.54h-6.7M76.2 312.92h6.7M375.2 312.92h-6.7M76.2 299.31h6.7M375.2 299.31h-6.7"/>
<path class="dk" d="M76.2 394.6L375.2 394.6"/>
<rect class="sp" x="76.2" y="285.7" width="299" height="217.8"/>
<text class="t" x="103.38" y="525.8" text-anchor="middle">50</text>
<text class="t" x="239.29" y="525.8" text-anchor="middle">100</text>
<text class="t" x="375.2" y="525.8" text-anchor="middle">150</text>
<text class="t" x="69" y="510.6" text-anchor="end">−40</text>
<text class="t" x="69" y="456.15" text-anchor="end">−20</text>
<text class="t" x="69" y="401.7" text-anchor="end">0</text>
<text class="t" x="69" y="347.25" text-anchor="end">20</text>
<text class="t" x="69" y="292.8" text-anchor="end">40</text>
<text class="t" text-anchor="middle" font-size="20.9" transform="translate(16 395.1) rotate(-90)">Latitude (in degrees)</text>
<text class="t" x="225.7" y="550.4" text-anchor="middle">Longitude (in degrees)</text>
<text class="t" x="99.6" y="312" text-anchor="middle">(e)</text>
<path d="M393.7 295.6L399.15 285.7L404.6 295.6V493.6L399.15 503.5L393.7 493.6Z" fill="url(#cbg)" class="cb"/>
<text class="t" x="423" y="302.7">0.10</text>
<text class="t" x="423" y="352.2">0.05</text>
<text class="t" x="423" y="401.7">0.00</text>
<text class="t" x="423" y="451.2">−0.05</text>
<text class="t" x="423" y="500.7">−0.10</text>
<path class="tk" d="M404.6 295.6h11.7M404.6 345.1h11.7M404.6 394.6h11.7M404.6 444.1h11.7M404.6 493.6h11.7"/>
<text class="t" text-anchor="middle" font-size="20.9" transform="translate(506.3 395.1) rotate(-90)">Magnetic field (Gauss)</text>
<path class="tk" d="M699.42 503.5v-11.7M699.42 285.7v11.7M784.44 503.5v-11.7M784.44 285.7v11.7M869.47 503.5v-11.7M869.47 285.7v11.7M648.41 503.5v-6.7M648.41 285.7v6.7M665.41 503.5v-6.7M665.41 285.7v6.7M682.42 503.5v-6.7M682.42 285.7v6.7M716.43 503.5v-6.7M716.43 285.7v6.7M733.43 503.5v-6.7M733.43 285.7v6.7M750.44 503.5v-6.7M750.44 285.7v6.7M767.44 503.5v-6.7M767.44 285.7v6.7M801.45 503.5v-6.7M801.45 285.7v6.7M818.45 503.5v-6.7M818.45 285.7v6.7M835.46 503.5v-6.7M835.46 285.7v6.7M852.46 503.5v-6.7M852.46 285.7v6.7M886.47 503.5v-6.7M886.47 285.7v6.7M903.47 503.5v-6.7M903.47 285.7v6.7M920.48 503.5v-6.7M920.48 285.7v6.7M646.2 503.5h11.7M926.6 503.5h-11.7M646.2 449.05h11.7M926.6 449.05h-11.7M646.2 394.6h11.7M926.6 394.6h-11.7M646.2 340.15h11.7M926.6 340.15h-11.7M646.2 285.7h11.7M926.6 285.7h-11.7M646.2 489.89h6.7M926.6 489.89h-6.7M646.2 476.27h6.7M926.6 476.27h-6.7M646.2 462.66h6.7M926.6 462.66h-6.7M646.2 435.44h6.7M926.6 435.44h-6.7M646.2 421.82h6.7M926.6 421.82h-6.7M646.2 408.21h6.7M926.6 408.21h-6.7M646.2 380.99h6.7M926.6 380.99h-6.7M646.2 367.38h6.7M926.6 367.38h-6.7M646.2 353.76h6.7M926.6 353.76h-6.7M646.2 326.54h6.7M926.6 326.54h-6.7M646.2 312.92h6.7M926.6 312.92h-6.7M646.2 299.31h6.7M926.6 299.31h-6.7"/>
<path class="dr" d="M646.2 361.93L926.6 361.93"/>
<path class="pl" d="M784.44 503.5L784.44 502.82L784.44 502.14L784.44 501.46L784.44 500.78L784.44 500.1L784.44 499.42L784.44 498.74L784.44 498.06L784.44 497.37L784.44 496.69L784.44 496.01L784.44 495.33L784.44 494.65L784.44 493.97L784.44 493.29L784.44 492.61L784.44 491.93L784.44 491.25L784.44 490.57L784.44 489.89L784.44 489.21L784.44 488.53L784.44 487.85L784.44 487.17L784.44 486.48L784.44 485.8L784.44 485.12L784.44 484.44L784.44 483.76L784.44 483.08L784.44 482.4L784.44 481.72L784.44 481.04L784.44 480.36L784.44 479.68L784.44 479L784.44 478.32L784.44 477.64L784.44 476.96L784.44 476.27L784.44 475.59L784.44 474.91L784.44 474.23L784.44 473.55L784.44 472.87L784.44 472.19L784.44 471.51L784.44 470.83L784.44 470.15L784.44 469.47L784.44 468.79L784.44 468.11L784.44 467.43L784.44 466.75L784.44 466.07L784.44 465.38L784.44 464.7L784.44 464.02L784.44 463.34L784.44 462.66L784.44 461.98L784.44 461.3L784.44 460.62L784.44 459.94L784.44 459.26L784.44 458.58L784.44 457.9L784.44 457.22L784.44 456.54L784.44 455.86L784.44 455.18L784.44 454.5L784.44 453.81L784.44 453.13L784.44 452.45L784.44 451.77L784.44 451.09L784.44 450.41L784.44 449.73L784.44 449.05L784.44 448.37L784.44 447.69L784.44 447.01L784.44 446.33L784.44 445.65L784.44 444.97L784.44 444.29L784.44 443.61L784.44 442.92L784.44 442.24L784.44 441.56L784.44 440.88L784.44 440.2L784.44 439.52L784.44 438.84L784.44 438.16L784.44 437.48L784.44 436.8L784.44 436.12L784.44 435.44L784.44 434.76L784.44 434.08L784.44 433.4L784.44 432.71L784.44 432.03L784.44 431.35L784.44 430.67L784.44 429.99L784.44 429.31L784.44 428.63L784.44 427.95L784.44 427.27L784.44 426.59L784.44 425.91L784.44 425.23L784.44 424.55L784.44 423.87L784.44 423.19L784.44 422.51L784.44 421.82L784.44 421.14L784.44 420.46L784.44 419.78L784.44 419.1L784.44 418.42L784.44 417.74L784.44 417.06L784.44 416.38L784.44 415.7L784.44 415.02L784.44 414.34L784.44 413.66L784.44 412.98L784.44 412.3L784.44 411.62L784.44 410.94L784.44 410.25L784.44 409.57L784.44 408.89L784.44 408.21L784.45 407.53L784.45 406.85L784.46 406.17L784.47 405.49L784.48 404.81L784.49 404.13L784.51 403.45L784.53 402.77L784.58 402.09L784.66 401.41L784.79 400.73L784.94 400.05L785.12 399.36L785.32 398.68L785.58 398L785.95 397.32L786.42 396.64L786.99 395.96L787.7 395.28L788.71 394.6L790 393.92L791.53 393.24L793.27 392.56L795.5 391.88L798.24 391.2L801.38 390.52L804.84 389.84L808.51 389.15L812.29 388.47L816.1 387.79L820.15 387.11L824.6 386.43L829.32 385.75L834.23 385.07L839.22 384.39L844.18 383.71L849.03 383.03L853.65 382.35L858.07 381.67L862.38 380.99L866.65 380.31L870.95 379.63L875.35 378.95L879.9 378.26L884.89 377.58L890.31 376.9L895.81 376.22L901.03 375.54L905.61 374.86L909.23 374.18L912.09 373.5L913.64 372.82L914.4 372.14L912.34 371.46L908.32 370.78L903.05 370.1L896.46 369.42L889.4 368.74L882.06 368.06L874.13 367.38L865.51 366.69L856.12 366.01L845.43 365.33L832.88 364.65L819.98 363.97L807.9 363.29L796.08 362.61L784.44 361.93L773.15 361.25L761.68 360.57L749.95 359.89L737.42 359.21L725.24 358.53L714.86 357.85L705.74 357.17L697.37 356.49L689.67 355.8L682.54 355.12L675.69 354.44L669.29 353.76L664.17 353.08L660.27 352.4L658.27 351.72L659.01 351.04L660.52 350.36L663.29 349.68L666.81 349L671.26 348.32L676.33 347.64L681.66 346.96L686.93 346.28L691.77 345.6L696.19 344.91L700.46 344.23L704.63 343.55L708.78 342.87L712.97 342.19L717.26 341.51L721.74 340.83L726.44 340.15L731.27 339.47L736.11 338.79L740.87 338.11L745.46 337.43L749.77 336.75L753.71 336.07L757.41 335.39L761.08 334.7L764.64 334.02L768 333.34L771.05 332.66L773.71 331.98L775.88 331.3L777.57 330.62L779.05 329.94L780.3 329.26L781.28 328.58L781.97 327.9L782.52 327.22L782.98 326.54L783.34 325.86L783.59 325.18L783.79 324.5L783.96 323.81L784.11 323.13L784.23 322.45L784.32 321.77L784.36 321.09L784.38 320.41L784.4 319.73L784.41 319.05L784.42 318.37L784.43 317.69L784.44 317.01L784.44 316.33L784.44 315.65L784.44 314.97L784.44 314.29L784.44 313.61L784.44 312.92L784.44 312.24L784.44 311.56L784.44 310.88L784.44 310.2L784.44 309.52L784.44 308.84L784.44 308.16L784.44 307.48L784.44 306.8L784.44 306.12L784.44 305.44L784.44 304.76L784.44 304.08L784.44 303.4L784.44 302.72L784.44 302.03L784.44 301.35L784.44 300.67L784.44 299.99L784.44 299.31L784.44 298.63L784.44 297.95L784.44 297.27L784.44 296.59L784.44 295.91L784.44 295.23L784.44 294.55L784.44 293.87L784.44 293.19L784.44 292.51L784.44 291.83L784.44 291.14L784.44 290.46L784.44 289.78L784.44 289.1L784.44 288.42L784.44 287.74L784.44 287.06L784.44 286.38L784.44 285.7"/>
<rect class="sp" x="646.2" y="285.7" width="280.4" height="217.8"/>
<text class="t" x="699.42" y="525.8" text-anchor="middle">−0.5</text>
<text class="t" x="784.44" y="525.8" text-anchor="middle">0.0</text>
<text class="t" x="869.47" y="525.8" text-anchor="middle">0.5</text>
<text class="t" x="639" y="510.6" text-anchor="end">−40</text>
<text class="t" x="639" y="456.15" text-anchor="end">−20</text>
<text class="t" x="639" y="401.7" text-anchor="end">0</text>
<text class="t" x="639" y="347.25" text-anchor="end">20</text>
<text class="t" x="639" y="292.8" text-anchor="end">40</text>
<text class="t" x="786.4" y="550.4" text-anchor="middle">&lt;B_r&gt; (Gauss)</text>
<text class="t" x="668.5" y="312" text-anchor="middle">(f)</text>
<text class="s"><tspan x="828.4" y="335.2">λ</tspan><tspan dy="3.4" font-size="14.58">0</tspan><tspan x="854.8" y="335.2">=</tspan><tspan x="876.6">12</tspan><tspan x="906.4" y="326.5" font-size="14.58">∘</tspan></text>
<g clip-path="url(#cq1048)"><g class="hm" filter="url(#vb)" transform="translate(1048.5 0)"><rect y="281" fill="url(#q0)"/><rect y="283" fill="url(#q1)"/><rect y="285" fill="url(#q2)"/><rect y="287" fill="url(#q3)"/><rect y="289" fill="url(#q4)"/><rect y="291" fill="url(#q5)"/><rect y="293" fill="url(#q6)"/><rect y="295" fill="url(#q7)"/><rect y="297" fill="url(#q8)"/><rect y="299" fill="url(#q9)"/><rect y="301" fill="url(#q10)"/><rect y="303" fill="url(#q11)"/><rect y="305" fill="url(#q12)"/><rect y="307" fill="url(#q13)"/><rect y="309" fill="url(#q14)"/><rect y="311" fill="url(#q15)"/><rect y="313" fill="url(#q16)"/><rect y="315" fill="url(#q17)"/><rect y="317" fill="url(#q18)"/><rect y="319" fill="url(#q19)"/><rect y="321" fill="url(#q20)"/><rect y="323" fill="url(#q21)"/><rect y="325" fill="url(#q22)"/><rect y="327" fill="url(#q23)"/><rect y="329" fill="url(#q24)"/><rect y="331" fill="url(#q25)"/><rect y="333" fill="url(#q26)"/><rect y="335" fill="url(#q27)"/><rect y="337" fill="url(#q28)"/><rect y="339" fill="url(#q29)"/><rect y="341" fill="url(#q30)"/><rect y="343" fill="url(#q31)"/><rect y="345" fill="url(#q32)"/><rect y="347" fill="url(#q33)"/><rect y="349" fill="url(#q34)"/><rect y="351" fill="url(#q35)"/><rect y="353" fill="url(#q36)"/><rect y="355" fill="url(#q37)"/><rect y="357" fill="url(#q38)"/><rect y="359" fill="url(#q39)"/><rect y="361" fill="url(#q40)"/><rect y="363" fill="url(#q41)"/><rect y="365" fill="url(#q42)"/><rect y="367" fill="url(#q43)"/><rect y="369" fill="url(#q44)"/><rect y="371" fill="url(#q45)"/><rect y="373" fill="url(#q46)"/><rect y="375" fill="url(#q47)"/><rect y="377" fill="url(#q48)"/><rect y="379" fill="url(#q49)"/><rect y="381" fill="url(#q50)"/><rect y="383" fill="url(#q51)"/><rect y="385" fill="url(#q52)"/><rect y="387" fill="url(#q53)"/><rect y="389" fill="url(#q54)"/><rect y="391" fill="url(#q55)"/><rect y="393" fill="url(#q56)"/><rect y="395" fill="url(#q57)"/><rect y="397" fill="url(#q58)"/><rect y="399" fill="url(#q59)"/><rect y="401" fill="url(#q60)"/><rect y="403" fill="url(#q61)"/><rect y="405" fill="url(#q62)"/><rect y="407" fill="url(#q63)"/><rect y="409" fill="url(#q64)"/><rect y="411" fill="url(#q65)"/><rect y="413" fill="url(#q66)"/><rect y="415" fill="url(#q67)"/><rect y="417" fill="url(#q68)"/><rect y="419" fill="url(#q69)"/><rect y="421" fill="url(#q70)"/><rect y="423" fill="url(#q71)"/><rect y="425" fill="url(#q72)"/><rect y="427" fill="url(#q73)"/><rect y="429" fill="url(#q74)"/><rect y="431" fill="url(#q75)"/><rect y="433" fill="url(#q76)"/><rect y="435" fill="url(#q77)"/><rect y="437" fill="url(#q78)"/><rect y="439" fill="url(#q79)"/><rect y="441" fill="url(#q80)"/><rect y="443" fill="url(#q81)"/><rect y="445" fill="url(#q82)"/><rect y="447" fill="url(#q83)"/><rect y="449" fill="url(#q84)"/><rect y="451" fill="url(#q85)"/><rect y="453" fill="url(#q86)"/><rect y="455" fill="url(#q87)"/><rect y="457" fill="url(#q88)"/><rect y="459" fill="url(#q89)"/><rect y="461" fill="url(#q90)"/><rect y="463" fill="url(#q91)"/><rect y="465" fill="url(#q92)"/><rect y="467" fill="url(#q93)"/><rect y="469" fill="url(#q94)"/><rect y="471" fill="url(#q95)"/><rect y="473" fill="url(#q96)"/><rect y="475" fill="url(#q97)"/><rect y="477" fill="url(#q98)"/><rect y="479" fill="url(#q99)"/><rect y="481" fill="url(#q100)"/><rect y="483" fill="url(#q101)"/><rect y="485" fill="url(#q102)"/><rect y="487" fill="url(#q103)"/><rect y="489" fill="url(#q104)"/><rect y="491" fill="url(#q105)"/><rect y="493" fill="url(#q106)"/><rect y="495" fill="url(#q107)"/><rect y="497" fill="url(#q108)"/><rect y="499" fill="url(#q109)"/><rect y="501" fill="url(#q110)"/><rect y="503" fill="url(#q111)"/><rect y="505" fill="url(#q112)"/><rect y="507" fill="url(#q113)"/></g></g>
<path class="zl" d="M1048.5 380.08L1051.49 378.97L1054.49 377.8L1057.48 376.56L1060.47 375.26L1063.46 373.89L1066.46 372.45L1069.45 370.95L1072.44 369.38L1075.44 367.74L1078.43 366.05L1081.42 364.3L1084.41 362.5L1087.41 360.65L1090.4 358.77L1093.39 356.86L1096.38 354.93L1099.38 352.99L1102.37 351.06L1105.36 349.14L1108.36 347.23L1111.35 345.36L1114.34 343.53L1117.33 341.75L1120.33 340.03L1123.32 338.37L1126.31 336.77L1129.31 335.24L1132.3 333.79L1135.29 332.41L1138.28 331.11L1141.28 329.88L1144.27 328.72L1147.26 327.63L1150.26 326.62L1153.25 325.66L1156.24 324.77L1159.23 323.93L1162.23 323.16L1165.22 322.43L1168.21 321.76L1171.2 321.13L1174.2 320.55L1177.19 320.01L1180.18 319.5L1183.18 319.04L1186.17 318.61L1189.16 318.2L1192.15 317.84L1195.15 317.5L1198.14 317.18L1201.13 316.9L1204.13 316.63L1207.12 316.39L1210.11 316.18L1213.1 315.99L1216.1 315.81L1219.09 315.66L1222.08 315.53L1225.08 315.42L1228.07 315.32L1231.06 315.25L1234.05 315.19L1237.05 315.15L1240.04 315.13L1243.03 315.13L1246.02 315.15L1249.02 315.18L1252.01 315.23L1255 315.29L1258 315.38L1260.99 315.47L1263.98 315.59L1266.97 315.73L1269.97 315.88L1272.96 316.04L1275.95 316.23L1278.95 316.42L1281.94 316.64L1284.93 316.87L1287.92 317.11L1290.92 317.37L1293.91 317.64L1296.9 317.93L1299.9 318.23L1302.89 318.55L1305.88 318.88L1308.87 319.21"/>
<rect x="1048.5" y="501.2" width="374.1" height="1" fill="#fffef4"/>
<path class="tk" d="M1048.5 503.5v-11.7M1048.5 285.7v11.7M1173.2 503.5v-11.7M1173.2 285.7v11.7M1297.9 503.5v-11.7M1297.9 285.7v11.7M1422.6 503.5v-11.7M1422.6 285.7v11.7M1079.67 503.5v-6.7M1079.67 285.7v6.7M1110.85 503.5v-6.7M1110.85 285.7v6.7M1142.03 503.5v-6.7M1142.03 285.7v6.7M1204.38 503.5v-6.7M1204.38 285.7v6.7M1235.55 503.5v-6.7M1235.55 285.7v6.7M1266.72 503.5v-6.7M1266.72 285.7v6.7M1329.07 503.5v-6.7M1329.07 285.7v6.7M1360.25 503.5v-6.7M1360.25 285.7v6.7M1391.42 503.5v-6.7M1391.42 285.7v6.7M1048.5 455.1h11.7M1422.6 455.1h-11.7M1048.5 394.6h11.7M1422.6 394.6h-11.7M1048.5 334.1h11.7M1422.6 334.1h-11.7M1048.5 491.4h6.7M1422.6 491.4h-6.7M1048.5 479.3h6.7M1422.6 479.3h-6.7M1048.5 467.2h6.7M1422.6 467.2h-6.7M1048.5 443h6.7M1422.6 443h-6.7M1048.5 430.9h6.7M1422.6 430.9h-6.7M1048.5 418.8h6.7M1422.6 418.8h-6.7M1048.5 406.7h6.7M1422.6 406.7h-6.7M1048.5 382.5h6.7M1422.6 382.5h-6.7M1048.5 370.4h6.7M1422.6 370.4h-6.7M1048.5 358.3h6.7M1422.6 358.3h-6.7M1048.5 346.2h6.7M1422.6 346.2h-6.7M1048.5 322h6.7M1422.6 322h-6.7M1048.5 309.9h6.7M1422.6 309.9h-6.7M1048.5 297.8h6.7M1422.6 297.8h-6.7"/>
<rect class="sp" x="1048.5" y="285.7" width="374.1" height="217.8"/>
<text class="t" x="1048.5" y="525.8" text-anchor="middle">0</text>
<text class="t" x="1173.2" y="525.8" text-anchor="middle">2</text>
<text class="t" x="1297.9" y="525.8" text-anchor="middle">4</text>
<text class="t" x="1422.6" y="525.8" text-anchor="middle">6</text>
<text class="t" x="1041.3" y="462.2" text-anchor="end">−50</text>
<text class="t" x="1041.3" y="401.7" text-anchor="end">0</text>
<text class="t" x="1041.3" y="341.2" text-anchor="end">50</text>
<text class="t" x="1235.55" y="550.4" text-anchor="middle">time (years)</text>
<text class="t" x="1070.9" y="312" text-anchor="middle">(g)</text>
<path d="M1446.3 295.6L1451.75 285.7L1457.2 295.6V493.6L1451.75 503.5L1446.3 493.6Z" fill="url(#cbg)" class="cb"/>
<text class="t" x="1475.6" y="302.7">0.050</text>
<text class="t" x="1475.6" y="352.2">0.025</text>
<text class="t" x="1475.6" y="401.7">0.000</text>
<text class="t" x="1475.6" y="451.2">−0.025</text>
<text class="t" x="1475.6" y="500.7">−0.050</text>
<path class="tk" d="M1457.2 295.6h11.7M1457.2 345.1h11.7M1457.2 394.6h11.7M1457.2 444.1h11.7M1457.2 493.6h11.7"/>
<text class="t" text-anchor="middle" font-size="20.9" transform="translate(1571.5 395.1) rotate(-90)">Magnetic field (Gauss)</text>
<g clip-path="url(#cq1637)"><g class="hm" filter="url(#vb)" transform="translate(1637.6 0)"><rect y="281" fill="url(#q0)"/><rect y="283" fill="url(#q1)"/><rect y="285" fill="url(#q2)"/><rect y="287" fill="url(#q3)"/><rect y="289" fill="url(#q4)"/><rect y="291" fill="url(#q5)"/><rect y="293" fill="url(#q6)"/><rect y="295" fill="url(#q7)"/><rect y="297" fill="url(#q8)"/><rect y="299" fill="url(#q9)"/><rect y="301" fill="url(#q10)"/><rect y="303" fill="url(#q11)"/><rect y="305" fill="url(#q12)"/><rect y="307" fill="url(#q13)"/><rect y="309" fill="url(#q14)"/><rect y="311" fill="url(#q15)"/><rect y="313" fill="url(#q16)"/><rect y="315" fill="url(#q17)"/><rect y="317" fill="url(#q18)"/><rect y="319" fill="url(#q19)"/><rect y="321" fill="url(#q20)"/><rect y="323" fill="url(#q21)"/><rect y="325" fill="url(#q22)"/><rect y="327" fill="url(#q23)"/><rect y="329" fill="url(#q24)"/><rect y="331" fill="url(#q25)"/><rect y="333" fill="url(#q26)"/><rect y="335" fill="url(#q27)"/><rect y="337" fill="url(#q28)"/><rect y="339" fill="url(#q29)"/><rect y="341" fill="url(#q30)"/><rect y="343" fill="url(#q31)"/><rect y="345" fill="url(#q32)"/><rect y="347" fill="url(#q33)"/><rect y="349" fill="url(#q34)"/><rect y="351" fill="url(#q35)"/><rect y="353" fill="url(#q36)"/><rect y="355" fill="url(#q37)"/><rect y="357" fill="url(#q38)"/><rect y="359" fill="url(#q39)"/><rect y="361" fill="url(#q40)"/><rect y="363" fill="url(#q41)"/><rect y="365" fill="url(#q42)"/><rect y="367" fill="url(#q43)"/><rect y="369" fill="url(#q44)"/><rect y="371" fill="url(#q45)"/><rect y="373" fill="url(#q46)"/><rect y="375" fill="url(#q47)"/><rect y="377" fill="url(#q48)"/><rect y="379" fill="url(#q49)"/><rect y="381" fill="url(#q50)"/><rect y="383" fill="url(#q51)"/><rect y="385" fill="url(#q52)"/><rect y="387" fill="url(#q53)"/><rect y="389" fill="url(#q54)"/><rect y="391" fill="url(#q55)"/><rect y="393" fill="url(#q56)"/><rect y="395" fill="url(#q57)"/><rect y="397" fill="url(#q58)"/><rect y="399" fill="url(#q59)"/><rect y="401" fill="url(#q60)"/><rect y="403" fill="url(#q61)"/><rect y="405" fill="url(#q62)"/><rect y="407" fill="url(#q63)"/><rect y="409" fill="url(#q64)"/><rect y="411" fill="url(#q65)"/><rect y="413" fill="url(#q66)"/><rect y="415" fill="url(#q67)"/><rect y="417" fill="url(#q68)"/><rect y="419" fill="url(#q69)"/><rect y="421" fill="url(#q70)"/><rect y="423" fill="url(#q71)"/><rect y="425" fill="url(#q72)"/><rect y="427" fill="url(#q73)"/><rect y="429" fill="url(#q74)"/><rect y="431" fill="url(#q75)"/><rect y="433" fill="url(#q76)"/><rect y="435" fill="url(#q77)"/><rect y="437" fill="url(#q78)"/><rect y="439" fill="url(#q79)"/><rect y="441" fill="url(#q80)"/><rect y="443" fill="url(#q81)"/><rect y="445" fill="url(#q82)"/><rect y="447" fill="url(#q83)"/><rect y="449" fill="url(#q84)"/><rect y="451" fill="url(#q85)"/><rect y="453" fill="url(#q86)"/><rect y="455" fill="url(#q87)"/><rect y="457" fill="url(#q88)"/><rect y="459" fill="url(#q89)"/><rect y="461" fill="url(#q90)"/><rect y="463" fill="url(#q91)"/><rect y="465" fill="url(#q92)"/><rect y="467" fill="url(#q93)"/><rect y="469" fill="url(#q94)"/><rect y="471" fill="url(#q95)"/><rect y="473" fill="url(#q96)"/><rect y="475" fill="url(#q97)"/><rect y="477" fill="url(#q98)"/><rect y="479" fill="url(#q99)"/><rect y="481" fill="url(#q100)"/><rect y="483" fill="url(#q101)"/><rect y="485" fill="url(#q102)"/><rect y="487" fill="url(#q103)"/><rect y="489" fill="url(#q104)"/><rect y="491" fill="url(#q105)"/><rect y="493" fill="url(#q106)"/><rect y="495" fill="url(#q107)"/><rect y="497" fill="url(#q108)"/><rect y="499" fill="url(#q109)"/><rect y="501" fill="url(#q110)"/><rect y="503" fill="url(#q111)"/><rect y="505" fill="url(#q112)"/><rect y="507" fill="url(#q113)"/></g></g>
<path class="zl" d="M1637.6 380.08L1640.59 378.97L1643.59 377.8L1646.58 376.56L1649.57 375.26L1652.56 373.89L1655.56 372.45L1658.55 370.95L1661.54 369.38L1664.54 367.74L1667.53 366.05L1670.52 364.3L1673.51 362.5L1676.51 360.65L1679.5 358.77L1682.49 356.86L1685.48 354.93L1688.48 352.99L1691.47 351.06L1694.46 349.14L1697.46 347.23L1700.45 345.36L1703.44 343.53L1706.43 341.75L1709.43 340.03L1712.42 338.37L1715.41 336.77L1718.41 335.24L1721.4 333.79L1724.39 332.41L1727.38 331.11L1730.38 329.88L1733.37 328.72L1736.36 327.63L1739.36 326.62L1742.35 325.66L1745.34 324.77L1748.33 323.93L1751.33 323.16L1754.32 322.43L1757.31 321.76L1760.3 321.13L1763.3 320.55L1766.29 320.01L1769.28 319.5L1772.28 319.04L1775.27 318.61L1778.26 318.2L1781.25 317.84L1784.25 317.5L1787.24 317.18L1790.23 316.9L1793.23 316.63L1796.22 316.39L1799.21 316.18L1802.2 315.99L1805.2 315.81L1808.19 315.66L1811.18 315.53L1814.18 315.42L1817.17 315.32L1820.16 315.25L1823.15 315.19L1826.15 315.15L1829.14 315.13L1832.13 315.13L1835.12 315.15L1838.12 315.18L1841.11 315.23L1844.1 315.29L1847.1 315.38L1850.09 315.47L1853.08 315.59L1856.07 315.73L1859.07 315.88L1862.06 316.04L1865.05 316.23L1868.05 316.42L1871.04 316.64L1874.03 316.87L1877.02 317.11L1880.02 317.37L1883.01 317.64L1886 317.93L1889 318.23L1891.99 318.55L1894.98 318.88L1897.97 319.21"/>
<path class="tk" d="M1637.6 503.5v-11.7M1637.6 285.7v11.7M1762.3 503.5v-11.7M1762.3 285.7v11.7M1887 503.5v-11.7M1887 285.7v11.7M2011.7 503.5v-11.7M2011.7 285.7v11.7M1668.77 503.5v-6.7M1668.77 285.7v6.7M1699.95 503.5v-6.7M1699.95 285.7v6.7M1731.12 503.5v-6.7M1731.12 285.7v6.7M1793.47 503.5v-6.7M1793.47 285.7v6.7M1824.65 503.5v-6.7M1824.65 285.7v6.7M1855.83 503.5v-6.7M1855.83 285.7v6.7M1918.17 503.5v-6.7M1918.17 285.7v6.7M1949.35 503.5v-6.7M1949.35 285.7v6.7M1980.53 503.5v-6.7M1980.53 285.7v6.7M1637.6 455.1h11.7M2011.7 455.1h-11.7M1637.6 394.6h11.7M2011.7 394.6h-11.7M1637.6 334.1h11.7M2011.7 334.1h-11.7M1637.6 491.4h6.7M2011.7 491.4h-6.7M1637.6 479.3h6.7M2011.7 479.3h-6.7M1637.6 467.2h6.7M2011.7 467.2h-6.7M1637.6 443h6.7M2011.7 443h-6.7M1637.6 430.9h6.7M2011.7 430.9h-6.7M1637.6 418.8h6.7M2011.7 418.8h-6.7M1637.6 406.7h6.7M2011.7 406.7h-6.7M1637.6 382.5h6.7M2011.7 382.5h-6.7M1637.6 370.4h6.7M2011.7 370.4h-6.7M1637.6 358.3h6.7M2011.7 358.3h-6.7M1637.6 346.2h6.7M2011.7 346.2h-6.7M1637.6 322h6.7M2011.7 322h-6.7M1637.6 309.9h6.7M2011.7 309.9h-6.7M1637.6 297.8h6.7M2011.7 297.8h-6.7"/>
<rect class="sp" x="1637.6" y="285.7" width="374.1" height="217.8"/>
<text class="t" x="1637.6" y="525.8" text-anchor="middle">0</text>
<text class="t" x="1762.3" y="525.8" text-anchor="middle">2</text>
<text class="t" x="1887" y="525.8" text-anchor="middle">4</text>
<text class="t" x="2011.7" y="525.8" text-anchor="middle">6</text>
<text class="t" x="1630.4" y="462.2" text-anchor="end">−50</text>
<text class="t" x="1630.4" y="401.7" text-anchor="end">0</text>
<text class="t" x="1630.4" y="341.2" text-anchor="end">50</text>
<text class="t" x="1824.65" y="550.4" text-anchor="middle">time (years)</text>
<text class="t" x="1660" y="312" text-anchor="middle">(h)</text>
<path d="M2035.4 295.6L2040.85 285.7L2046.3 295.6V493.6L2040.85 503.5L2035.4 493.6Z" fill="url(#cbg)" class="cb"/>
<text class="t" x="2064.7" y="302.7">0.050</text>
<text class="t" x="2064.7" y="352.2">0.025</text>
<text class="t" x="2064.7" y="401.7">0.000</text>
<text class="t" x="2064.7" y="451.2">−0.025</text>
<text class="t" x="2064.7" y="500.7">−0.050</text>
<path class="tk" d="M2046.3 295.6h11.7M2046.3 345.1h11.7M2046.3 394.6h11.7M2046.3 444.1h11.7M2046.3 493.6h11.7"/>
<text class="t" text-anchor="middle" font-size="20.9" transform="translate(2162 395.1) rotate(-90)">Magnetic field (Gauss)</text>
</svg>
</body></html>
